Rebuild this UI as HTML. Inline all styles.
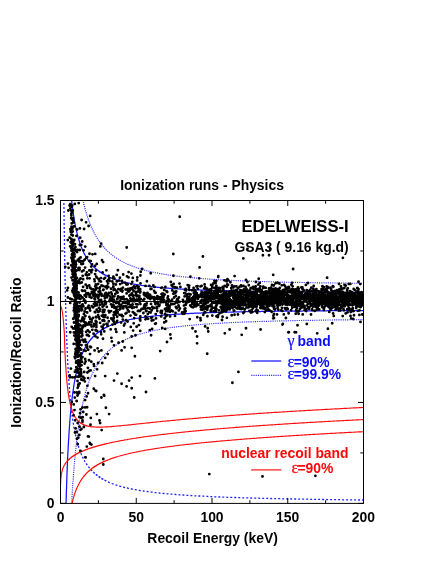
<!DOCTYPE html>
<html><head><meta charset="utf-8"><title>Ionization runs - Physics</title>
<style>
html,body{margin:0;padding:0;background:#fff;}
svg{display:block;font-family:"Liberation Sans",sans-serif;font-weight:bold;font-size:13.9px;}
.bs{stroke:#1414ff;stroke-width:1.25;fill:none}
.bd{stroke:#2a2aff;stroke-width:1.15;fill:none;stroke-dasharray:1.1 1.1}
.bt{stroke:#2222ff;stroke-width:1.3;fill:none;stroke-dasharray:2 2}
.rs{stroke:#ff0a0a;stroke-width:1.15;fill:none}
.sym{font-family:"Liberation Serif",serif}
.eps{stroke-width:.28px}
.bl .eps{stroke:#0a0aff}
.rd .eps{stroke:#ff0606}
</style></head><body>
<svg width="436" height="564" viewBox="0 0 436 564">
<rect width="436" height="564" fill="#fff"/>
<g opacity="0.995">
<defs><clipPath id="cp"><rect x="60.5" y="200.5" width="303.0" height="302.9"/></clipPath></defs>
<g clip-path="url(#cp)">
<path d="M60.5 301.47H363.5" stroke="#000" stroke-width="1" fill="none"/>
<path class="bs" d="M63.0 -146.5L63.1 -133.4L63.2 -120.9L63.2 -109.2L63.3 -98.1L63.4 -87.6L63.5 -77.6L63.5 -68.2L63.6 -59.2L63.7 -50.6L63.8 -42.4L63.8 -34.6L63.9 -27.1L64.0 -20.0L64.1 -13.1L64.1 -6.6L64.2 -0.3L64.3 5.7L64.4 11.5L64.4 17.1L64.5 22.4L64.6 27.6L64.7 32.6L64.7 37.4L64.8 42.0L64.9 46.5L65.0 50.8L65.0 55.0L65.1 59.0L65.2 62.9L65.3 66.7L65.3 70.4L65.4 73.9L65.5 77.4L65.6 80.7L65.7 83.9L65.7 87.1L65.8 90.1L65.9 93.1L66.0 96.0L66.0 98.8L66.1 101.5L66.2 104.2L66.3 106.8L66.3 109.3L66.4 111.8L66.5 114.2L66.6 116.5L66.6 118.8L66.7 121.0L66.8 123.2L66.9 125.3L66.9 127.4L67.0 129.4L67.1 131.4L67.2 133.3L67.2 135.2L67.3 137.0L67.4 138.8L67.5 140.6L67.5 142.3L67.6 144.0L67.7 145.7L67.8 147.3L67.8 148.9L67.9 150.4L68.0 151.9L68.1 153.4L68.2 154.9L68.2 156.3L68.3 157.7L68.4 159.1L68.5 160.4L68.5 161.8L68.6 163.1L68.7 164.4L68.8 165.6L68.8 166.8L68.9 168.0L69.0 169.2L69.1 170.4L69.1 171.5L69.2 172.7L69.3 173.8L69.4 174.9L69.4 175.9L69.5 177.0L69.6 178.0L69.7 179.0L69.7 180.0L69.8 181.0L69.9 182.0L70.0 182.9L70.0 183.9L70.1 184.8L70.2 185.7L70.3 186.6L70.3 187.5L70.4 188.3L70.5 189.2L70.6 190.0L70.7 190.8L70.7 191.7L70.8 192.5L70.9 193.3L71.0 194.0L71.0 194.8L71.1 195.6L71.2 196.3L71.3 197.0L71.3 197.8L71.4 198.5L71.5 199.2L71.6 199.9L71.6 200.6L71.7 201.2L71.8 201.9L71.9 202.6L71.9 203.2L72.0 203.9L72.1 204.5L72.2 205.1L72.2 205.7L72.3 206.4L72.4 207.0L72.5 207.5L72.5 208.1L72.6 208.7L72.7 209.3L72.8 209.8L72.8 210.4L72.9 211.0L73.0 211.5L73.1 212.0L73.2 212.6L73.2 213.1L73.3 213.6L73.4 214.1L73.5 214.6L73.5 215.1L73.6 215.6L73.7 216.1L73.8 216.6L73.8 217.1L73.9 217.5L74.0 218.0L74.1 218.5L74.1 218.9L74.2 219.4L74.3 219.8L74.4 220.3L74.4 220.7L74.5 221.1L74.6 221.6L74.7 222.0L74.7 222.4L74.8 222.8L74.9 223.2L75.0 223.6L75.0 224.0L75.1 224.4L75.2 224.8L75.3 225.2L75.3 225.6L75.4 226.0L75.5 226.4L75.6 226.7L75.7 227.1L75.7 227.5L75.8 227.8L75.9 228.2L76.0 228.5L76.0 228.9L76.1 229.2L76.2 229.6L76.3 229.9L76.3 230.3L76.4 230.6L76.5 230.9L76.6 231.3L76.6 231.6L76.7 231.9L76.8 232.2L76.9 232.5L76.9 232.8L77.0 233.2L77.1 233.5L77.2 233.8L77.2 234.1L77.3 234.4L77.4 234.7L77.5 235.0L77.5 235.3L77.6 235.5L77.7 235.8L77.8 236.1L77.8 236.4L77.9 236.7L78.0 236.9L78.1 237.2L78.1 237.5L78.2 237.8L78.3 238.0L78.4 238.3L78.5 238.6L78.5 238.8L78.6 239.1L78.7 239.3L78.8 239.6L78.8 239.8L78.9 240.1L79.0 240.3L79.1 240.6L79.1 240.8L79.2 241.1L79.3 241.3L79.4 241.5L79.4 241.8L79.5 242.0L79.6 242.2L79.7 242.5L79.7 242.7L79.8 242.9L79.9 243.1L80.0 243.4L80.0 243.6L80.1 243.8L80.2 244.0L80.3 244.2L80.3 244.4L80.4 244.7L80.5 244.9L80.6 245.1L80.6 245.3L80.7 245.5L80.8 245.7L80.9 245.9L81.0 246.1L81.0 246.3L81.1 246.5L81.2 246.7L81.3 246.9L81.3 247.1L81.4 247.3L81.5 247.5L81.6 247.7L81.6 247.8L81.7 248.0L81.8 248.2L81.9 248.4L81.9 248.6L82.0 248.8L82.1 248.9L82.2 249.1L82.2 249.3L82.3 249.5L82.4 249.7L82.5 249.8L82.5 250.0L82.6 250.2L82.7 250.3L82.8 250.5L82.8 250.7L82.9 250.8L83.0 251.0L83.1 251.2L83.1 251.3L83.2 251.5L83.3 251.7L83.4 251.8L83.5 252.0L83.5 252.1L83.6 252.3L83.7 252.5L83.8 252.6L83.8 252.8L83.9 252.9L84.0 253.1L84.1 253.2L84.1 253.4L84.2 253.5L84.3 253.7L84.4 253.8L84.4 254.0L84.5 254.1L84.6 254.3L84.7 254.4L84.7 254.5L84.8 254.7L84.9 254.8L85.0 255.0L85.0 255.1L85.1 255.2L85.2 255.4L85.3 255.5L85.3 255.6L85.4 255.8L85.5 255.9L85.6 256.0L85.6 256.2L85.7 256.3L85.8 256.4L85.9 256.6L86.0 256.7L86.0 256.8L86.1 257.0L86.2 257.1L86.3 257.2L86.3 257.3L86.4 257.5L86.5 257.6L86.6 257.7L86.6 257.8L86.7 258.0L86.8 258.1L86.9 258.2L86.9 258.3L87.0 258.4L87.1 258.5L87.2 258.7L87.2 258.8L87.3 258.9L87.4 259.0L87.5 259.1L87.5 259.2L87.6 259.4L87.7 259.5L87.8 259.6L87.8 259.7L87.9 259.8L88.0 259.9L88.1 260.0L88.1 260.1L88.2 260.2L88.3 260.3L88.4 260.5L88.5 260.6L88.5 260.7L88.6 260.8L88.7 260.9L88.8 261.0L88.8 261.1L88.9 261.2L89.0 261.3L89.1 261.4L89.1 261.5L89.2 261.6L89.3 261.7L89.4 261.8L89.4 261.9L89.5 262.0L89.6 262.1L89.7 262.2L89.7 262.3L89.8 262.4L89.9 262.5L90.0 262.6L90.0 262.7L90.1 262.8L90.2 262.9L90.3 263.0L90.3 263.0L90.4 263.1L90.5 263.2L90.6 263.3L90.6 263.4L90.7 263.5L90.8 263.6L90.9 263.7L91.0 263.8L91.0 263.9L91.1 264.0L91.2 264.0L91.3 264.1L91.3 264.2L91.4 264.3L91.5 264.4L91.6 264.5L91.6 264.6L91.7 264.6L91.8 264.7L91.9 264.8L91.9 264.9L92.0 265.0L92.1 265.1L92.2 265.1L92.2 265.2L92.3 265.3L92.4 265.4L92.5 265.5L92.5 265.6L92.6 265.6L92.7 265.7L92.8 265.8L92.8 265.9L92.9 266.0L93.0 266.0L93.1 266.1L93.1 266.2L93.2 266.3L93.3 266.3L93.4 266.4L93.5 266.5L93.5 266.6L93.6 266.6L93.7 266.7L93.8 266.8L93.8 266.9L93.9 266.9L94.0 267.0L94.1 267.1L94.1 267.2L94.2 267.2L94.3 267.3L94.4 267.4L94.4 267.4L94.5 267.5L94.6 267.6L94.7 267.7L94.7 267.7L94.8 267.8L94.9 267.9L95.0 267.9L95.0 268.0L95.1 268.1L95.2 268.1L95.3 268.2L95.3 268.3L95.4 268.4L95.5 268.4L95.6 268.5L95.6 268.6L95.7 268.6L95.8 268.7L95.9 268.7L96.0 268.8L96.0 268.9L96.1 268.9L96.2 269.0L96.3 269.1L96.3 269.1L96.4 269.2L96.5 269.3L96.6 269.3L96.6 269.4L96.7 269.5L96.8 269.5L96.9 269.6L96.9 269.6L97.0 269.7L97.1 269.8L97.2 269.8L97.2 269.9L97.3 269.9L97.4 270.0L97.5 270.1L97.5 270.1L97.6 270.2L97.7 270.2L97.8 270.3L97.8 270.4L97.9 270.4L98.0 270.5L98.1 270.5L98.1 270.6L98.2 270.7L98.3 270.7L98.4 270.8L98.5 270.8L98.5 270.9L98.6 270.9L98.7 271.0L98.8 271.0L98.8 271.1L98.9 271.2L99.0 271.2L99.1 271.3L99.1 271.3L99.2 271.4L99.3 271.4L99.4 271.5L99.4 271.5L99.5 271.6L99.6 271.6L99.7 271.7L99.7 271.8L99.8 271.8L99.9 271.9L100.0 271.9L100.0 272.0L100.1 272.0L100.2 272.1L100.3 272.1L100.3 272.2L100.4 272.2L100.5 272.3L100.6 272.3L100.6 272.4L100.7 272.4L100.8 272.5L100.9 272.5L101.0 272.6L101.0 272.6L101.1 272.7L101.2 272.7L101.3 272.8L101.3 272.8L101.4 272.9L101.5 272.9L101.6 273.0L101.6 273.0L101.7 273.1L101.8 273.1L101.9 273.2L101.9 273.2L102.0 273.3L102.1 273.3L102.2 273.3L102.2 273.4L102.3 273.4L102.4 273.5L102.5 273.5L102.5 273.6L102.6 273.6L102.7 273.7L102.8 273.7L102.8 273.8L102.9 273.8L103.0 273.8L103.1 273.9L103.1 273.9L103.2 274.0L103.3 274.0L103.4 274.1L103.5 274.1L103.5 274.2L103.6 274.2L103.7 274.2L103.8 274.3L103.8 274.3L103.9 274.4L104.0 274.4L104.1 274.5L104.1 274.5L104.2 274.5L104.3 274.6L104.4 274.6L104.4 274.7L104.5 274.7L104.6 274.8L104.7 274.8L104.7 274.8L104.8 274.9L104.9 274.9L105.0 275.0L105.0 275.0L105.1 275.0L105.2 275.1L105.3 275.1L105.3 275.2L105.4 275.2L105.5 275.2L105.6 275.3L105.6 275.3L105.7 275.4L105.8 275.4L105.9 275.4L105.9 275.5L106.7 275.9L107.5 276.2L108.2 276.6L109.0 276.9L109.7 277.3L110.5 277.6L111.3 277.9L112.0 278.2L112.8 278.5L113.5 278.8L114.3 279.1L115.0 279.3L115.8 279.6L116.6 279.8L117.3 280.1L118.1 280.3L118.8 280.6L119.6 280.8L120.3 281.0L121.1 281.2L121.9 281.4L122.6 281.6L123.4 281.8L124.1 282.0L124.9 282.2L125.6 282.4L126.4 282.6L127.2 282.7L127.9 282.9L128.7 283.1L129.4 283.2L130.2 283.4L130.9 283.5L131.7 283.7L132.5 283.8L133.2 284.0L134.0 284.1L134.7 284.3L135.5 284.4L136.2 284.5L137.0 284.7L137.8 284.8L138.5 284.9L139.3 285.0L140.0 285.1L140.8 285.2L141.6 285.4L142.3 285.5L143.1 285.6L143.8 285.7L144.6 285.8L145.3 285.9L146.1 286.0L146.9 286.1L147.6 286.2L148.4 286.3L149.1 286.4L149.9 286.5L150.6 286.5L151.4 286.6L152.2 286.7L152.9 286.8L153.7 286.9L154.4 287.0L155.2 287.0L155.9 287.1L156.7 287.2L157.5 287.3L158.2 287.3L159.0 287.4L159.7 287.5L160.5 287.5L161.2 287.6L162.0 287.7L162.8 287.7L163.5 287.8L164.3 287.9L165.0 287.9L165.8 288.0L166.6 288.0L167.3 288.1L168.1 288.2L168.8 288.2L169.6 288.3L170.3 288.3L171.1 288.4L171.9 288.4L172.6 288.5L173.4 288.5L174.1 288.6L174.9 288.6L175.6 288.7L176.4 288.7L177.2 288.8L177.9 288.8L178.7 288.9L179.4 288.9L180.2 289.0L180.9 289.0L181.7 289.1L182.5 289.1L183.2 289.1L184.0 289.2L184.7 289.2L185.5 289.3L186.2 289.3L187.0 289.3L187.8 289.4L188.5 289.4L189.3 289.5L190.0 289.5L190.8 289.5L191.5 289.6L192.3 289.6L193.1 289.6L193.8 289.7L194.6 289.7L195.3 289.7L196.1 289.8L196.8 289.8L197.6 289.8L198.4 289.9L199.1 289.9L199.9 289.9L200.6 290.0L201.4 290.0L202.2 290.0L202.9 290.0L203.7 290.1L204.4 290.1L205.2 290.1L205.9 290.2L206.7 290.2L207.5 290.2L208.2 290.2L209.0 290.3L209.7 290.3L210.5 290.3L211.2 290.3L212.0 290.4L212.8 290.4L213.5 290.4L214.3 290.4L215.0 290.5L215.8 290.5L216.5 290.5L217.3 290.5L218.1 290.6L218.8 290.6L219.6 290.6L220.3 290.6L221.1 290.6L221.8 290.7L222.6 290.7L223.4 290.7L224.1 290.7L224.9 290.7L225.6 290.8L226.4 290.8L227.1 290.8L227.9 290.8L228.7 290.8L229.4 290.9L230.2 290.9L230.9 290.9L231.7 290.9L232.5 290.9L233.2 291.0L234.0 291.0L234.7 291.0L235.5 291.0L236.2 291.0L237.0 291.0L237.8 291.1L238.5 291.1L239.3 291.1L240.0 291.1L240.8 291.1L241.5 291.1L242.3 291.1L243.1 291.2L243.8 291.2L244.6 291.2L245.3 291.2L246.1 291.2L246.8 291.2L247.6 291.3L248.4 291.3L249.1 291.3L249.9 291.3L250.6 291.3L251.4 291.3L252.1 291.3L252.9 291.3L253.7 291.4L254.4 291.4L255.2 291.4L255.9 291.4L256.7 291.4L257.4 291.4L258.2 291.4L259.0 291.4L259.7 291.5L260.5 291.5L261.2 291.5L262.0 291.5L262.8 291.5L263.5 291.5L264.3 291.5L265.0 291.5L265.8 291.6L266.5 291.6L267.3 291.6L268.1 291.6L268.8 291.6L269.6 291.6L270.3 291.6L271.1 291.6L271.8 291.6L272.6 291.6L273.4 291.7L274.1 291.7L274.9 291.7L275.6 291.7L276.4 291.7L277.1 291.7L277.9 291.7L278.7 291.7L279.4 291.7L280.2 291.7L280.9 291.8L281.7 291.8L282.4 291.8L283.2 291.8L284.0 291.8L284.7 291.8L285.5 291.8L286.2 291.8L287.0 291.8L287.8 291.8L288.5 291.8L289.3 291.8L290.0 291.9L290.8 291.9L291.5 291.9L292.3 291.9L293.1 291.9L293.8 291.9L294.6 291.9L295.3 291.9L296.1 291.9L296.8 291.9L297.6 291.9L298.4 291.9L299.1 292.0L299.9 292.0L300.6 292.0L301.4 292.0L302.1 292.0L302.9 292.0L303.7 292.0L304.4 292.0L305.2 292.0L305.9 292.0L306.7 292.0L307.4 292.0L308.2 292.0L309.0 292.0L309.7 292.0L310.5 292.1L311.2 292.1L312.0 292.1L312.7 292.1L313.5 292.1L314.3 292.1L315.0 292.1L315.8 292.1L316.5 292.1L317.3 292.1L318.1 292.1L318.8 292.1L319.6 292.1L320.3 292.1L321.1 292.1L321.8 292.1L322.6 292.2L323.4 292.2L324.1 292.2L324.9 292.2L325.6 292.2L326.4 292.2L327.1 292.2L327.9 292.2L328.7 292.2L329.4 292.2L330.2 292.2L330.9 292.2L331.7 292.2L332.4 292.2L333.2 292.2L334.0 292.2L334.7 292.2L335.5 292.2L336.2 292.2L337.0 292.3L337.7 292.3L338.5 292.3L339.3 292.3L340.0 292.3L340.8 292.3L341.5 292.3L342.3 292.3L343.0 292.3L343.8 292.3L344.6 292.3L345.3 292.3L346.1 292.3L346.8 292.3L347.6 292.3L348.3 292.3L349.1 292.3L349.9 292.3L350.6 292.3L351.4 292.3L352.1 292.3L352.9 292.3L353.7 292.3L354.4 292.4L355.2 292.4L355.9 292.4L356.7 292.4L357.4 292.4L358.2 292.4L359.0 292.4L359.7 292.4L360.5 292.4L361.2 292.4L362.0 292.4L362.7 292.4L363.5 292.4"/>
<path class="bs" d="M62.4 892.8L62.5 870.0L62.5 849.0L62.6 829.4L62.7 811.2L62.8 794.3L62.8 778.4L62.9 763.5L63.0 749.5L63.1 736.3L63.2 723.9L63.2 712.1L63.3 701.1L63.4 690.5L63.5 680.6L63.5 671.1L63.6 662.1L63.7 653.5L63.8 645.3L63.8 637.5L63.9 630.0L64.0 622.9L64.1 616.1L64.1 609.5L64.2 603.2L64.3 597.2L64.4 591.4L64.4 585.8L64.5 580.5L64.6 575.3L64.7 570.3L64.7 565.6L64.8 560.9L64.9 556.5L65.0 552.1L65.0 548.0L65.1 543.9L65.2 540.0L65.3 536.2L65.3 532.6L65.4 529.0L65.5 525.6L65.6 522.2L65.7 519.0L65.7 515.9L65.8 512.8L65.9 509.8L66.0 506.9L66.0 504.1L66.1 501.4L66.2 498.7L66.3 496.1L66.3 493.6L66.4 491.2L66.5 488.8L66.6 486.4L66.6 484.1L66.7 481.9L66.8 479.7L66.9 477.6L66.9 475.6L67.0 473.5L67.1 471.6L67.2 469.6L67.2 467.8L67.3 465.9L67.4 464.1L67.5 462.3L67.5 460.6L67.6 458.9L67.7 457.3L67.8 455.7L67.8 454.1L67.9 452.5L68.0 451.0L68.1 449.5L68.2 448.1L68.2 446.6L68.3 445.2L68.4 443.8L68.5 442.5L68.5 441.2L68.6 439.9L68.7 438.6L68.8 437.3L68.8 436.1L68.9 434.9L69.0 433.7L69.1 432.5L69.1 431.4L69.2 430.3L69.3 429.2L69.4 428.1L69.4 427.0L69.5 426.0L69.6 424.9L69.7 423.9L69.7 422.9L69.8 421.9L69.9 421.0L70.0 420.0L70.0 419.1L70.1 418.2L70.2 417.2L70.3 416.4L70.3 415.5L70.4 414.6L70.5 413.8L70.6 412.9L70.7 412.1L70.7 411.3L70.8 410.5L70.9 409.7L71.0 408.9L71.0 408.1L71.1 407.4L71.2 406.6L71.3 405.9L71.3 405.2L71.4 404.4L71.5 403.7L71.6 403.0L71.6 402.4L71.7 401.7L71.8 401.0L71.9 400.4L71.9 399.7L72.0 399.1L72.1 398.4L72.2 397.8L72.2 397.2L72.3 396.6L72.4 396.0L72.5 395.4L72.5 394.8L72.6 394.2L72.7 393.6L72.8 393.1L72.8 392.5L72.9 392.0L73.0 391.4L73.1 390.9L73.2 390.4L73.2 389.8L73.3 389.3L73.4 388.8L73.5 388.3L73.5 387.8L73.6 387.3L73.7 386.8L73.8 386.3L73.8 385.9L73.9 385.4L74.0 384.9L74.1 384.5L74.1 384.0L74.2 383.6L74.3 383.1L74.4 382.7L74.4 382.2L74.5 381.8L74.6 381.4L74.7 380.9L74.7 380.5L74.8 380.1L74.9 379.7L75.0 379.3L75.0 378.9L75.1 378.5L75.2 378.1L75.3 377.7L75.3 377.3L75.4 377.0L75.5 376.6L75.6 376.2L75.7 375.8L75.7 375.5L75.8 375.1L75.9 374.8L76.0 374.4L76.0 374.0L76.1 373.7L76.2 373.4L76.3 373.0L76.3 372.7L76.4 372.3L76.5 372.0L76.6 371.7L76.6 371.4L76.7 371.0L76.8 370.7L76.9 370.4L76.9 370.1L77.0 369.8L77.1 369.5L77.2 369.2L77.2 368.9L77.3 368.6L77.4 368.3L77.5 368.0L77.5 367.7L77.6 367.4L77.7 367.1L77.8 366.8L77.8 366.5L77.9 366.3L78.0 366.0L78.1 365.7L78.1 365.4L78.2 365.2L78.3 364.9L78.4 364.6L78.5 364.4L78.5 364.1L78.6 363.9L78.7 363.6L78.8 363.4L78.8 363.1L78.9 362.9L79.0 362.6L79.1 362.4L79.1 362.1L79.2 361.9L79.3 361.6L79.4 361.4L79.4 361.2L79.5 360.9L79.6 360.7L79.7 360.5L79.7 360.2L79.8 360.0L79.9 359.8L80.0 359.6L80.0 359.4L80.1 359.1L80.2 358.9L80.3 358.7L80.3 358.5L80.4 358.3L80.5 358.1L80.6 357.9L80.6 357.6L80.7 357.4L80.8 357.2L80.9 357.0L81.0 356.8L81.0 356.6L81.1 356.4L81.2 356.2L81.3 356.0L81.3 355.9L81.4 355.7L81.5 355.5L81.6 355.3L81.6 355.1L81.7 354.9L81.8 354.7L81.9 354.5L81.9 354.4L82.0 354.2L82.1 354.0L82.2 353.8L82.2 353.6L82.3 353.5L82.4 353.3L82.5 353.1L82.5 352.9L82.6 352.8L82.7 352.6L82.8 352.4L82.8 352.3L82.9 352.1L83.0 351.9L83.1 351.8L83.1 351.6L83.2 351.4L83.3 351.3L83.4 351.1L83.5 350.9L83.5 350.8L83.6 350.6L83.7 350.5L83.8 350.3L83.8 350.2L83.9 350.0L84.0 349.9L84.1 349.7L84.1 349.6L84.2 349.4L84.3 349.3L84.4 349.1L84.4 349.0L84.5 348.8L84.6 348.7L84.7 348.5L84.7 348.4L84.8 348.3L84.9 348.1L85.0 348.0L85.0 347.8L85.1 347.7L85.2 347.6L85.3 347.4L85.3 347.3L85.4 347.2L85.5 347.0L85.6 346.9L85.6 346.8L85.7 346.6L85.8 346.5L85.9 346.4L86.0 346.2L86.0 346.1L86.1 346.0L86.2 345.8L86.3 345.7L86.3 345.6L86.4 345.5L86.5 345.3L86.6 345.2L86.6 345.1L86.7 345.0L86.8 344.9L86.9 344.7L86.9 344.6L87.0 344.5L87.1 344.4L87.2 344.3L87.2 344.2L87.3 344.0L87.4 343.9L87.5 343.8L87.5 343.7L87.6 343.6L87.7 343.5L87.8 343.4L87.8 343.2L87.9 343.1L88.0 343.0L88.1 342.9L88.1 342.8L88.2 342.7L88.3 342.6L88.4 342.5L88.5 342.4L88.5 342.3L88.6 342.2L88.7 342.1L88.8 342.0L88.8 341.8L88.9 341.7L89.0 341.6L89.1 341.5L89.1 341.4L89.2 341.3L89.3 341.2L89.4 341.1L89.4 341.0L89.5 340.9L89.6 340.8L89.7 340.7L89.7 340.6L89.8 340.5L89.9 340.5L90.0 340.4L90.0 340.3L90.1 340.2L90.2 340.1L90.3 340.0L90.3 339.9L90.4 339.8L90.5 339.7L90.6 339.6L90.6 339.5L90.7 339.4L90.8 339.3L90.9 339.2L91.0 339.2L91.0 339.1L91.1 339.0L91.2 338.9L91.3 338.8L91.3 338.7L91.4 338.6L91.5 338.5L91.6 338.5L91.6 338.4L91.7 338.3L91.8 338.2L91.9 338.1L91.9 338.0L92.0 338.0L92.1 337.9L92.2 337.8L92.2 337.7L92.3 337.6L92.4 337.5L92.5 337.5L92.5 337.4L92.6 337.3L92.7 337.2L92.8 337.1L92.8 337.1L92.9 337.0L93.0 336.9L93.1 336.8L93.1 336.7L93.2 336.7L93.3 336.6L93.4 336.5L93.5 336.4L93.5 336.4L93.6 336.3L93.7 336.2L93.8 336.1L93.8 336.1L93.9 336.0L94.0 335.9L94.1 335.8L94.1 335.8L94.2 335.7L94.3 335.6L94.4 335.6L94.4 335.5L94.5 335.4L94.6 335.3L94.7 335.3L94.7 335.2L94.8 335.1L94.9 335.1L95.0 335.0L95.0 334.9L95.1 334.9L95.2 334.8L95.3 334.7L95.3 334.6L95.4 334.6L95.5 334.5L95.6 334.4L95.6 334.4L95.7 334.3L95.8 334.2L95.9 334.2L96.0 334.1L96.0 334.1L96.1 334.0L96.2 333.9L96.3 333.9L96.3 333.8L96.4 333.7L96.5 333.7L96.6 333.6L96.6 333.5L96.7 333.5L96.8 333.4L96.9 333.4L96.9 333.3L97.0 333.2L97.1 333.2L97.2 333.1L97.2 333.0L97.3 333.0L97.4 332.9L97.5 332.9L97.5 332.8L97.6 332.7L97.7 332.7L97.8 332.6L97.8 332.6L97.9 332.5L98.0 332.5L98.1 332.4L98.1 332.3L98.2 332.3L98.3 332.2L98.4 332.2L98.5 332.1L98.5 332.1L98.6 332.0L98.7 331.9L98.8 331.9L98.8 331.8L98.9 331.8L99.0 331.7L99.1 331.7L99.1 331.6L99.2 331.6L99.3 331.5L99.4 331.4L99.4 331.4L99.5 331.3L99.6 331.3L99.7 331.2L99.7 331.2L99.8 331.1L99.9 331.1L100.0 331.0L100.0 331.0L100.1 330.9L100.2 330.9L100.3 330.8L100.3 330.8L100.4 330.7L100.5 330.7L100.6 330.6L100.6 330.6L100.7 330.5L100.8 330.5L100.9 330.4L101.0 330.4L101.0 330.3L101.1 330.3L101.2 330.2L101.3 330.2L101.3 330.1L101.4 330.1L101.5 330.0L101.6 330.0L101.6 329.9L101.7 329.9L101.8 329.8L101.9 329.8L101.9 329.7L102.0 329.7L102.1 329.6L102.2 329.6L102.2 329.5L102.3 329.5L102.4 329.4L102.5 329.4L102.5 329.4L102.6 329.3L102.7 329.3L102.8 329.2L102.8 329.2L102.9 329.1L103.0 329.1L103.1 329.0L103.1 329.0L103.2 329.0L103.3 328.9L103.4 328.9L103.5 328.8L103.5 328.8L103.6 328.7L103.7 328.7L103.8 328.6L103.8 328.6L103.9 328.6L104.0 328.5L104.1 328.5L104.1 328.4L104.2 328.4L104.3 328.3L104.4 328.3L104.4 328.3L104.5 328.2L104.6 328.2L104.7 328.1L104.7 328.1L104.8 328.1L104.9 328.0L105.0 328.0L105.0 327.9L105.1 327.9L105.2 327.9L105.3 327.8L105.3 327.8L105.4 327.7L105.5 327.7L105.6 327.7L105.6 327.6L105.7 327.6L105.8 327.5L105.9 327.5L105.9 327.5L106.7 327.1L107.5 326.7L108.2 326.3L109.0 326.0L109.7 325.7L110.5 325.3L111.3 325.0L112.0 324.7L112.8 324.4L113.5 324.1L114.3 323.9L115.0 323.6L115.8 323.3L116.6 323.1L117.3 322.8L118.1 322.6L118.8 322.4L119.6 322.1L120.3 321.9L121.1 321.7L121.9 321.5L122.6 321.3L123.4 321.1L124.1 320.9L124.9 320.7L125.6 320.5L126.4 320.4L127.2 320.2L127.9 320.0L128.7 319.9L129.4 319.7L130.2 319.5L130.9 319.4L131.7 319.2L132.5 319.1L133.2 318.9L134.0 318.8L134.7 318.7L135.5 318.5L136.2 318.4L137.0 318.3L137.8 318.2L138.5 318.0L139.3 317.9L140.0 317.8L140.8 317.7L141.6 317.6L142.3 317.5L143.1 317.4L143.8 317.3L144.6 317.1L145.3 317.0L146.1 316.9L146.9 316.9L147.6 316.8L148.4 316.7L149.1 316.6L149.9 316.5L150.6 316.4L151.4 316.3L152.2 316.2L152.9 316.1L153.7 316.1L154.4 316.0L155.2 315.9L155.9 315.8L156.7 315.7L157.5 315.7L158.2 315.6L159.0 315.5L159.7 315.5L160.5 315.4L161.2 315.3L162.0 315.3L162.8 315.2L163.5 315.1L164.3 315.1L165.0 315.0L165.8 314.9L166.6 314.9L167.3 314.8L168.1 314.8L168.8 314.7L169.6 314.7L170.3 314.6L171.1 314.5L171.9 314.5L172.6 314.4L173.4 314.4L174.1 314.3L174.9 314.3L175.6 314.2L176.4 314.2L177.2 314.1L177.9 314.1L178.7 314.0L179.4 314.0L180.2 314.0L180.9 313.9L181.7 313.9L182.5 313.8L183.2 313.8L184.0 313.7L184.7 313.7L185.5 313.7L186.2 313.6L187.0 313.6L187.8 313.5L188.5 313.5L189.3 313.5L190.0 313.4L190.8 313.4L191.5 313.4L192.3 313.3L193.1 313.3L193.8 313.3L194.6 313.2L195.3 313.2L196.1 313.2L196.8 313.1L197.6 313.1L198.4 313.1L199.1 313.0L199.9 313.0L200.6 313.0L201.4 312.9L202.2 312.9L202.9 312.9L203.7 312.9L204.4 312.8L205.2 312.8L205.9 312.8L206.7 312.7L207.5 312.7L208.2 312.7L209.0 312.7L209.7 312.6L210.5 312.6L211.2 312.6L212.0 312.6L212.8 312.5L213.5 312.5L214.3 312.5L215.0 312.5L215.8 312.4L216.5 312.4L217.3 312.4L218.1 312.4L218.8 312.4L219.6 312.3L220.3 312.3L221.1 312.3L221.8 312.3L222.6 312.2L223.4 312.2L224.1 312.2L224.9 312.2L225.6 312.2L226.4 312.1L227.1 312.1L227.9 312.1L228.7 312.1L229.4 312.1L230.2 312.1L230.9 312.0L231.7 312.0L232.5 312.0L233.2 312.0L234.0 312.0L234.7 311.9L235.5 311.9L236.2 311.9L237.0 311.9L237.8 311.9L238.5 311.9L239.3 311.8L240.0 311.8L240.8 311.8L241.5 311.8L242.3 311.8L243.1 311.8L243.8 311.8L244.6 311.7L245.3 311.7L246.1 311.7L246.8 311.7L247.6 311.7L248.4 311.7L249.1 311.7L249.9 311.6L250.6 311.6L251.4 311.6L252.1 311.6L252.9 311.6L253.7 311.6L254.4 311.6L255.2 311.5L255.9 311.5L256.7 311.5L257.4 311.5L258.2 311.5L259.0 311.5L259.7 311.5L260.5 311.5L261.2 311.4L262.0 311.4L262.8 311.4L263.5 311.4L264.3 311.4L265.0 311.4L265.8 311.4L266.5 311.4L267.3 311.4L268.1 311.3L268.8 311.3L269.6 311.3L270.3 311.3L271.1 311.3L271.8 311.3L272.6 311.3L273.4 311.3L274.1 311.3L274.9 311.3L275.6 311.2L276.4 311.2L277.1 311.2L277.9 311.2L278.7 311.2L279.4 311.2L280.2 311.2L280.9 311.2L281.7 311.2L282.4 311.2L283.2 311.2L284.0 311.1L284.7 311.1L285.5 311.1L286.2 311.1L287.0 311.1L287.8 311.1L288.5 311.1L289.3 311.1L290.0 311.1L290.8 311.1L291.5 311.1L292.3 311.1L293.1 311.0L293.8 311.0L294.6 311.0L295.3 311.0L296.1 311.0L296.8 311.0L297.6 311.0L298.4 311.0L299.1 311.0L299.9 311.0L300.6 311.0L301.4 311.0L302.1 311.0L302.9 310.9L303.7 310.9L304.4 310.9L305.2 310.9L305.9 310.9L306.7 310.9L307.4 310.9L308.2 310.9L309.0 310.9L309.7 310.9L310.5 310.9L311.2 310.9L312.0 310.9L312.7 310.9L313.5 310.9L314.3 310.8L315.0 310.8L315.8 310.8L316.5 310.8L317.3 310.8L318.1 310.8L318.8 310.8L319.6 310.8L320.3 310.8L321.1 310.8L321.8 310.8L322.6 310.8L323.4 310.8L324.1 310.8L324.9 310.8L325.6 310.8L326.4 310.8L327.1 310.8L327.9 310.7L328.7 310.7L329.4 310.7L330.2 310.7L330.9 310.7L331.7 310.7L332.4 310.7L333.2 310.7L334.0 310.7L334.7 310.7L335.5 310.7L336.2 310.7L337.0 310.7L337.7 310.7L338.5 310.7L339.3 310.7L340.0 310.7L340.8 310.7L341.5 310.7L342.3 310.7L343.0 310.6L343.8 310.6L344.6 310.6L345.3 310.6L346.1 310.6L346.8 310.6L347.6 310.6L348.3 310.6L349.1 310.6L349.9 310.6L350.6 310.6L351.4 310.6L352.1 310.6L352.9 310.6L353.7 310.6L354.4 310.6L355.2 310.6L355.9 310.6L356.7 310.6L357.4 310.6L358.2 310.6L359.0 310.6L359.7 310.6L360.5 310.5L361.2 310.5L362.0 310.5L362.7 310.5L363.5 310.5"/>
<path class="bd" d="M65.5 -146.8L65.6 -140.1L65.7 -133.6L65.7 -127.3L65.8 -121.2L65.9 -115.2L66.0 -109.5L66.0 -103.8L66.1 -98.4L66.2 -93.1L66.3 -87.9L66.3 -82.8L66.4 -77.9L66.5 -73.1L66.6 -68.4L66.6 -63.9L66.7 -59.4L66.8 -55.1L66.9 -50.9L66.9 -46.7L67.0 -42.7L67.1 -38.7L67.2 -34.9L67.2 -31.1L67.3 -27.4L67.4 -23.8L67.5 -20.3L67.5 -16.8L67.6 -13.5L67.7 -10.2L67.8 -6.9L67.8 -3.8L67.9 -0.7L68.0 2.4L68.1 5.4L68.2 8.3L68.2 11.2L68.3 14.0L68.4 16.7L68.5 19.4L68.5 22.1L68.6 24.7L68.7 27.2L68.8 29.7L68.8 32.2L68.9 34.6L69.0 37.0L69.1 39.3L69.1 41.6L69.2 43.9L69.3 46.1L69.4 48.2L69.4 50.4L69.5 52.5L69.6 54.6L69.7 56.6L69.7 58.6L69.8 60.5L69.9 62.5L70.0 64.4L70.0 66.3L70.1 68.1L70.2 69.9L70.3 71.7L70.3 73.5L70.4 75.2L70.5 76.9L70.6 78.6L70.7 80.2L70.7 81.9L70.8 83.5L70.9 85.0L71.0 86.6L71.0 88.1L71.1 89.7L71.2 91.1L71.3 92.6L71.3 94.1L71.4 95.5L71.5 96.9L71.6 98.3L71.6 99.7L71.7 101.0L71.8 102.4L71.9 103.7L71.9 105.0L72.0 106.3L72.1 107.5L72.2 108.8L72.2 110.0L72.3 111.2L72.4 112.4L72.5 113.6L72.5 114.8L72.6 116.0L72.7 117.1L72.8 118.2L72.8 119.3L72.9 120.4L73.0 121.5L73.1 122.6L73.2 123.7L73.2 124.7L73.3 125.8L73.4 126.8L73.5 127.8L73.5 128.8L73.6 129.8L73.7 130.8L73.8 131.7L73.8 132.7L73.9 133.6L74.0 134.6L74.1 135.5L74.1 136.4L74.2 137.3L74.3 138.2L74.4 139.1L74.4 139.9L74.5 140.8L74.6 141.7L74.7 142.5L74.7 143.3L74.8 144.2L74.9 145.0L75.0 145.8L75.0 146.6L75.1 147.4L75.2 148.2L75.3 149.0L75.3 149.7L75.4 150.5L75.5 151.2L75.6 152.0L75.7 152.7L75.7 153.5L75.8 154.2L75.9 154.9L76.0 155.6L76.0 156.3L76.1 157.0L76.2 157.7L76.3 158.4L76.3 159.1L76.4 159.7L76.5 160.4L76.6 161.0L76.6 161.7L76.7 162.3L76.8 163.0L76.9 163.6L76.9 164.2L77.0 164.8L77.1 165.5L77.2 166.1L77.2 166.7L77.3 167.3L77.4 167.9L77.5 168.5L77.5 169.0L77.6 169.6L77.7 170.2L77.8 170.8L77.8 171.3L77.9 171.9L78.0 172.4L78.1 173.0L78.1 173.5L78.2 174.0L78.3 174.6L78.4 175.1L78.5 175.6L78.5 176.2L78.6 176.7L78.7 177.2L78.8 177.7L78.8 178.2L78.9 178.7L79.0 179.2L79.1 179.7L79.1 180.2L79.2 180.6L79.3 181.1L79.4 181.6L79.4 182.1L79.5 182.5L79.6 183.0L79.7 183.4L79.7 183.9L79.8 184.4L79.9 184.8L80.0 185.2L80.0 185.7L80.1 186.1L80.2 186.6L80.3 187.0L80.3 187.4L80.4 187.8L80.5 188.3L80.6 188.7L80.6 189.1L80.7 189.5L80.8 189.9L80.9 190.3L81.0 190.7L81.0 191.1L81.1 191.5L81.2 191.9L81.3 192.3L81.3 192.7L81.4 193.1L81.5 193.5L81.6 193.8L81.6 194.2L81.7 194.6L81.8 195.0L81.9 195.3L81.9 195.7L82.0 196.1L82.1 196.4L82.2 196.8L82.2 197.1L82.3 197.5L82.4 197.8L82.5 198.2L82.5 198.5L82.6 198.9L82.7 199.2L82.8 199.6L82.8 199.9L82.9 200.2L83.0 200.6L83.1 200.9L83.1 201.2L83.2 201.5L83.3 201.9L83.4 202.2L83.5 202.5L83.5 202.8L83.6 203.1L83.7 203.4L83.8 203.8L83.8 204.1L83.9 204.4L84.0 204.7L84.1 205.0L84.1 205.3L84.2 205.6L84.3 205.9L84.4 206.2L84.4 206.5L84.5 206.7L84.6 207.0L84.7 207.3L84.7 207.6L84.8 207.9L84.9 208.2L85.0 208.5L85.0 208.7L85.1 209.0L85.2 209.3L85.3 209.6L85.3 209.8L85.4 210.1L85.5 210.4L85.6 210.6L85.6 210.9L85.7 211.2L85.8 211.4L85.9 211.7L86.0 211.9L86.0 212.2L86.1 212.4L86.2 212.7L86.3 213.0L86.3 213.2L86.4 213.5L86.5 213.7L86.6 213.9L86.6 214.2L86.7 214.4L86.8 214.7L86.9 214.9L86.9 215.2L87.0 215.4L87.1 215.6L87.2 215.9L87.2 216.1L87.3 216.3L87.4 216.6L87.5 216.8L87.5 217.0L87.6 217.2L87.7 217.5L87.8 217.7L87.8 217.9L87.9 218.1L88.0 218.4L88.1 218.6L88.1 218.8L88.2 219.0L88.3 219.2L88.4 219.4L88.5 219.7L88.5 219.9L88.6 220.1L88.7 220.3L88.8 220.5L88.8 220.7L88.9 220.9L89.0 221.1L89.1 221.3L89.1 221.5L89.2 221.7L89.3 221.9L89.4 222.1L89.4 222.3L89.5 222.5L89.6 222.7L89.7 222.9L89.7 223.1L89.8 223.3L89.9 223.5L90.0 223.7L90.0 223.9L90.1 224.1L90.2 224.3L90.3 224.4L90.3 224.6L90.4 224.8L90.5 225.0L90.6 225.2L90.6 225.4L90.7 225.5L90.8 225.7L90.9 225.9L91.0 226.1L91.0 226.3L91.1 226.4L91.2 226.6L91.3 226.8L91.3 227.0L91.4 227.1L91.5 227.3L91.6 227.5L91.6 227.7L91.7 227.8L91.8 228.0L91.9 228.2L91.9 228.3L92.0 228.5L92.1 228.7L92.2 228.8L92.2 229.0L92.3 229.2L92.4 229.3L92.5 229.5L92.5 229.6L92.6 229.8L92.7 230.0L92.8 230.1L92.8 230.3L92.9 230.4L93.0 230.6L93.1 230.7L93.1 230.9L93.2 231.1L93.3 231.2L93.4 231.4L93.5 231.5L93.5 231.7L93.6 231.8L93.7 232.0L93.8 232.1L93.8 232.3L93.9 232.4L94.0 232.6L94.1 232.7L94.1 232.9L94.2 233.0L94.3 233.1L94.4 233.3L94.4 233.4L94.5 233.6L94.6 233.7L94.7 233.9L94.7 234.0L94.8 234.1L94.9 234.3L95.0 234.4L95.0 234.6L95.1 234.7L95.2 234.8L95.3 235.0L95.3 235.1L95.4 235.2L95.5 235.4L95.6 235.5L95.6 235.6L95.7 235.8L95.8 235.9L95.9 236.0L96.0 236.2L96.0 236.3L96.1 236.4L96.2 236.6L96.3 236.7L96.3 236.8L96.4 236.9L96.5 237.1L96.6 237.2L96.6 237.3L96.7 237.4L96.8 237.6L96.9 237.7L96.9 237.8L97.0 237.9L97.1 238.1L97.2 238.2L97.2 238.3L97.3 238.4L97.4 238.5L97.5 238.7L97.5 238.8L97.6 238.9L97.7 239.0L97.8 239.1L97.8 239.3L97.9 239.4L98.0 239.5L98.1 239.6L98.1 239.7L98.2 239.8L98.3 240.0L98.4 240.1L98.5 240.2L98.5 240.3L98.6 240.4L98.7 240.5L98.8 240.6L98.8 240.7L98.9 240.9L99.0 241.0L99.1 241.1L99.1 241.2L99.2 241.3L99.3 241.4L99.4 241.5L99.4 241.6L99.5 241.7L99.6 241.8L99.7 241.9L99.7 242.0L99.8 242.1L99.9 242.3L100.0 242.4L100.0 242.5L100.1 242.6L100.2 242.7L100.3 242.8L100.3 242.9L100.4 243.0L100.5 243.1L100.6 243.2L100.6 243.3L100.7 243.4L100.8 243.5L100.9 243.6L101.0 243.7L101.0 243.8L101.1 243.9L101.2 244.0L101.3 244.1L101.3 244.2L101.4 244.3L101.5 244.4L101.6 244.5L101.6 244.6L101.7 244.7L101.8 244.8L101.9 244.8L101.9 244.9L102.0 245.0L102.1 245.1L102.2 245.2L102.2 245.3L102.3 245.4L102.4 245.5L102.5 245.6L102.5 245.7L102.6 245.8L102.7 245.9L102.8 246.0L102.8 246.0L102.9 246.1L103.0 246.2L103.1 246.3L103.1 246.4L103.2 246.5L103.3 246.6L103.4 246.7L103.5 246.8L103.5 246.8L103.6 246.9L103.7 247.0L103.8 247.1L103.8 247.2L103.9 247.3L104.0 247.4L104.1 247.5L104.1 247.5L104.2 247.6L104.3 247.7L104.4 247.8L104.4 247.9L104.5 248.0L104.6 248.0L104.7 248.1L104.7 248.2L104.8 248.3L104.9 248.4L105.0 248.5L105.0 248.5L105.1 248.6L105.2 248.7L105.3 248.8L105.3 248.9L105.4 248.9L105.5 249.0L105.6 249.1L105.6 249.2L105.7 249.3L105.8 249.3L105.9 249.4L105.9 249.5L106.7 250.3L107.5 251.0L108.2 251.7L109.0 252.4L109.7 253.1L110.5 253.7L111.3 254.3L112.0 254.9L112.8 255.5L113.5 256.1L114.3 256.7L115.0 257.2L115.8 257.7L116.6 258.2L117.3 258.7L118.1 259.2L118.8 259.7L119.6 260.1L120.3 260.5L121.1 261.0L121.9 261.4L122.6 261.8L123.4 262.2L124.1 262.6L124.9 262.9L125.6 263.3L126.4 263.7L127.2 264.0L127.9 264.4L128.7 264.7L129.4 265.0L130.2 265.3L130.9 265.6L131.7 265.9L132.5 266.2L133.2 266.5L134.0 266.8L134.7 267.1L135.5 267.3L136.2 267.6L137.0 267.8L137.8 268.1L138.5 268.3L139.3 268.6L140.0 268.8L140.8 269.0L141.6 269.3L142.3 269.5L143.1 269.7L143.8 269.9L144.6 270.1L145.3 270.3L146.1 270.5L146.9 270.7L147.6 270.9L148.4 271.1L149.1 271.3L149.9 271.4L150.6 271.6L151.4 271.8L152.2 272.0L152.9 272.1L153.7 272.3L154.4 272.4L155.2 272.6L155.9 272.7L156.7 272.9L157.5 273.0L158.2 273.2L159.0 273.3L159.7 273.5L160.5 273.6L161.2 273.7L162.0 273.9L162.8 274.0L163.5 274.1L164.3 274.3L165.0 274.4L165.8 274.5L166.6 274.6L167.3 274.7L168.1 274.9L168.8 275.0L169.6 275.1L170.3 275.2L171.1 275.3L171.9 275.4L172.6 275.5L173.4 275.6L174.1 275.7L174.9 275.8L175.6 275.9L176.4 276.0L177.2 276.1L177.9 276.2L178.7 276.3L179.4 276.4L180.2 276.5L180.9 276.6L181.7 276.7L182.5 276.7L183.2 276.8L184.0 276.9L184.7 277.0L185.5 277.1L186.2 277.1L187.0 277.2L187.8 277.3L188.5 277.4L189.3 277.5L190.0 277.5L190.8 277.6L191.5 277.7L192.3 277.7L193.1 277.8L193.8 277.9L194.6 277.9L195.3 278.0L196.1 278.1L196.8 278.1L197.6 278.2L198.4 278.3L199.1 278.3L199.9 278.4L200.6 278.5L201.4 278.5L202.2 278.6L202.9 278.6L203.7 278.7L204.4 278.7L205.2 278.8L205.9 278.9L206.7 278.9L207.5 279.0L208.2 279.0L209.0 279.1L209.7 279.1L210.5 279.2L211.2 279.2L212.0 279.3L212.8 279.3L213.5 279.4L214.3 279.4L215.0 279.5L215.8 279.5L216.5 279.6L217.3 279.6L218.1 279.6L218.8 279.7L219.6 279.7L220.3 279.8L221.1 279.8L221.8 279.9L222.6 279.9L223.4 279.9L224.1 280.0L224.9 280.0L225.6 280.1L226.4 280.1L227.1 280.1L227.9 280.2L228.7 280.2L229.4 280.3L230.2 280.3L230.9 280.3L231.7 280.4L232.5 280.4L233.2 280.4L234.0 280.5L234.7 280.5L235.5 280.5L236.2 280.6L237.0 280.6L237.8 280.6L238.5 280.7L239.3 280.7L240.0 280.7L240.8 280.8L241.5 280.8L242.3 280.8L243.1 280.9L243.8 280.9L244.6 280.9L245.3 280.9L246.1 281.0L246.8 281.0L247.6 281.0L248.4 281.1L249.1 281.1L249.9 281.1L250.6 281.1L251.4 281.2L252.1 281.2L252.9 281.2L253.7 281.3L254.4 281.3L255.2 281.3L255.9 281.3L256.7 281.4L257.4 281.4L258.2 281.4L259.0 281.4L259.7 281.5L260.5 281.5L261.2 281.5L262.0 281.5L262.8 281.5L263.5 281.6L264.3 281.6L265.0 281.6L265.8 281.6L266.5 281.7L267.3 281.7L268.1 281.7L268.8 281.7L269.6 281.7L270.3 281.8L271.1 281.8L271.8 281.8L272.6 281.8L273.4 281.8L274.1 281.9L274.9 281.9L275.6 281.9L276.4 281.9L277.1 281.9L277.9 282.0L278.7 282.0L279.4 282.0L280.2 282.0L280.9 282.0L281.7 282.1L282.4 282.1L283.2 282.1L284.0 282.1L284.7 282.1L285.5 282.1L286.2 282.2L287.0 282.2L287.8 282.2L288.5 282.2L289.3 282.2L290.0 282.2L290.8 282.3L291.5 282.3L292.3 282.3L293.1 282.3L293.8 282.3L294.6 282.3L295.3 282.4L296.1 282.4L296.8 282.4L297.6 282.4L298.4 282.4L299.1 282.4L299.9 282.4L300.6 282.5L301.4 282.5L302.1 282.5L302.9 282.5L303.7 282.5L304.4 282.5L305.2 282.5L305.9 282.6L306.7 282.6L307.4 282.6L308.2 282.6L309.0 282.6L309.7 282.6L310.5 282.6L311.2 282.7L312.0 282.7L312.7 282.7L313.5 282.7L314.3 282.7L315.0 282.7L315.8 282.7L316.5 282.7L317.3 282.8L318.1 282.8L318.8 282.8L319.6 282.8L320.3 282.8L321.1 282.8L321.8 282.8L322.6 282.8L323.4 282.8L324.1 282.9L324.9 282.9L325.6 282.9L326.4 282.9L327.1 282.9L327.9 282.9L328.7 282.9L329.4 282.9L330.2 282.9L330.9 283.0L331.7 283.0L332.4 283.0L333.2 283.0L334.0 283.0L334.7 283.0L335.5 283.0L336.2 283.0L337.0 283.0L337.7 283.0L338.5 283.1L339.3 283.1L340.0 283.1L340.8 283.1L341.5 283.1L342.3 283.1L343.0 283.1L343.8 283.1L344.6 283.1L345.3 283.1L346.1 283.1L346.8 283.2L347.6 283.2L348.3 283.2L349.1 283.2L349.9 283.2L350.6 283.2L351.4 283.2L352.1 283.2L352.9 283.2L353.7 283.2L354.4 283.2L355.2 283.2L355.9 283.3L356.7 283.3L357.4 283.3L358.2 283.3L359.0 283.3L359.7 283.3L360.5 283.3L361.2 283.3L362.0 283.3L362.7 283.3L363.5 283.3"/>
<path class="bd" d="M64.3 893.0L64.4 881.4L64.4 870.2L64.5 859.5L64.6 849.2L64.7 839.2L64.7 829.6L64.8 820.4L64.9 811.4L65.0 802.8L65.0 794.5L65.1 786.4L65.2 778.6L65.3 771.0L65.3 763.7L65.4 756.6L65.5 749.7L65.6 743.0L65.7 736.5L65.7 730.2L65.8 724.1L65.9 718.2L66.0 712.4L66.0 706.8L66.1 701.3L66.2 696.0L66.3 690.8L66.3 685.8L66.4 680.8L66.5 676.0L66.6 671.4L66.6 666.8L66.7 662.4L66.8 658.0L66.9 653.8L66.9 649.7L67.0 645.6L67.1 641.7L67.2 637.8L67.2 634.0L67.3 630.4L67.4 626.8L67.5 623.2L67.5 619.8L67.6 616.4L67.7 613.1L67.8 609.9L67.8 606.7L67.9 603.6L68.0 600.5L68.1 597.6L68.2 594.6L68.2 591.8L68.3 589.0L68.4 586.2L68.5 583.5L68.5 580.9L68.6 578.3L68.7 575.7L68.8 573.2L68.8 570.7L68.9 568.3L69.0 565.9L69.1 563.6L69.1 561.3L69.2 559.1L69.3 556.9L69.4 554.7L69.4 552.5L69.5 550.4L69.6 548.4L69.7 546.3L69.7 544.4L69.8 542.4L69.9 540.5L70.0 538.5L70.0 536.7L70.1 534.8L70.2 533.0L70.3 531.2L70.3 529.5L70.4 527.7L70.5 526.0L70.6 524.4L70.7 522.7L70.7 521.1L70.8 519.5L70.9 517.9L71.0 516.3L71.0 514.8L71.1 513.3L71.2 511.8L71.3 510.3L71.3 508.9L71.4 507.4L71.5 506.0L71.6 504.6L71.6 503.3L71.7 501.9L71.8 500.6L71.9 499.2L71.9 497.9L72.0 496.7L72.1 495.4L72.2 494.1L72.2 492.9L72.3 491.7L72.4 490.5L72.5 489.3L72.5 488.1L72.6 487.0L72.7 485.8L72.8 484.7L72.8 483.6L72.9 482.5L73.0 481.4L73.1 480.3L73.2 479.3L73.2 478.2L73.3 477.2L73.4 476.2L73.5 475.1L73.5 474.1L73.6 473.2L73.7 472.2L73.8 471.2L73.8 470.3L73.9 469.3L74.0 468.4L74.1 467.5L74.1 466.5L74.2 465.6L74.3 464.7L74.4 463.9L74.4 463.0L74.5 462.1L74.6 461.3L74.7 460.4L74.7 459.6L74.8 458.8L74.9 457.9L75.0 457.1L75.0 456.3L75.1 455.5L75.2 454.8L75.3 454.0L75.3 453.2L75.4 452.4L75.5 451.7L75.6 450.9L75.7 450.2L75.7 449.5L75.8 448.8L75.9 448.0L76.0 447.3L76.0 446.6L76.1 445.9L76.2 445.2L76.3 444.6L76.3 443.9L76.4 443.2L76.5 442.6L76.6 441.9L76.6 441.2L76.7 440.6L76.8 440.0L76.9 439.3L76.9 438.7L77.0 438.1L77.1 437.5L77.2 436.9L77.2 436.3L77.3 435.7L77.4 435.1L77.5 434.5L77.5 433.9L77.6 433.3L77.7 432.7L77.8 432.2L77.8 431.6L77.9 431.1L78.0 430.5L78.1 430.0L78.1 429.4L78.2 428.9L78.3 428.4L78.4 427.8L78.5 427.3L78.5 426.8L78.6 426.3L78.7 425.8L78.8 425.2L78.8 424.7L78.9 424.2L79.0 423.8L79.1 423.3L79.1 422.8L79.2 422.3L79.3 421.8L79.4 421.3L79.4 420.9L79.5 420.4L79.6 419.9L79.7 419.5L79.7 419.0L79.8 418.6L79.9 418.1L80.0 417.7L80.0 417.2L80.1 416.8L80.2 416.4L80.3 415.9L80.3 415.5L80.4 415.1L80.5 414.7L80.6 414.2L80.6 413.8L80.7 413.4L80.8 413.0L80.9 412.6L81.0 412.2L81.0 411.8L81.1 411.4L81.2 411.0L81.3 410.6L81.3 410.2L81.4 409.9L81.5 409.5L81.6 409.1L81.6 408.7L81.7 408.3L81.8 408.0L81.9 407.6L81.9 407.2L82.0 406.9L82.1 406.5L82.2 406.2L82.2 405.8L82.3 405.4L82.4 405.1L82.5 404.7L82.5 404.4L82.6 404.1L82.7 403.7L82.8 403.4L82.8 403.0L82.9 402.7L83.0 402.4L83.1 402.0L83.1 401.7L83.2 401.4L83.3 401.1L83.4 400.7L83.5 400.4L83.5 400.1L83.6 399.8L83.7 399.5L83.8 399.2L83.8 398.9L83.9 398.6L84.0 398.3L84.1 398.0L84.1 397.7L84.2 397.4L84.3 397.1L84.4 396.8L84.4 396.5L84.5 396.2L84.6 395.9L84.7 395.6L84.7 395.3L84.8 395.0L84.9 394.8L85.0 394.5L85.0 394.2L85.1 393.9L85.2 393.7L85.3 393.4L85.3 393.1L85.4 392.8L85.5 392.6L85.6 392.3L85.6 392.0L85.7 391.8L85.8 391.5L85.9 391.3L86.0 391.0L86.0 390.7L86.1 390.5L86.2 390.2L86.3 390.0L86.3 389.7L86.4 389.5L86.5 389.2L86.6 389.0L86.6 388.7L86.7 388.5L86.8 388.3L86.9 388.0L86.9 387.8L87.0 387.5L87.1 387.3L87.2 387.1L87.2 386.8L87.3 386.6L87.4 386.4L87.5 386.1L87.5 385.9L87.6 385.7L87.7 385.5L87.8 385.2L87.8 385.0L87.9 384.8L88.0 384.6L88.1 384.4L88.1 384.1L88.2 383.9L88.3 383.7L88.4 383.5L88.5 383.3L88.5 383.1L88.6 382.9L88.7 382.6L88.8 382.4L88.8 382.2L88.9 382.0L89.0 381.8L89.1 381.6L89.1 381.4L89.2 381.2L89.3 381.0L89.4 380.8L89.4 380.6L89.5 380.4L89.6 380.2L89.7 380.0L89.7 379.8L89.8 379.6L89.9 379.4L90.0 379.2L90.0 379.1L90.1 378.9L90.2 378.7L90.3 378.5L90.3 378.3L90.4 378.1L90.5 377.9L90.6 377.8L90.6 377.6L90.7 377.4L90.8 377.2L90.9 377.0L91.0 376.8L91.0 376.7L91.1 376.5L91.2 376.3L91.3 376.1L91.3 376.0L91.4 375.8L91.5 375.6L91.6 375.4L91.6 375.3L91.7 375.1L91.8 374.9L91.9 374.8L91.9 374.6L92.0 374.4L92.1 374.3L92.2 374.1L92.2 373.9L92.3 373.8L92.4 373.6L92.5 373.5L92.5 373.3L92.6 373.1L92.7 373.0L92.8 372.8L92.8 372.7L92.9 372.5L93.0 372.3L93.1 372.2L93.1 372.0L93.2 371.9L93.3 371.7L93.4 371.6L93.5 371.4L93.5 371.3L93.6 371.1L93.7 371.0L93.8 370.8L93.8 370.7L93.9 370.5L94.0 370.4L94.1 370.2L94.1 370.1L94.2 369.9L94.3 369.8L94.4 369.6L94.4 369.5L94.5 369.4L94.6 369.2L94.7 369.1L94.7 368.9L94.8 368.8L94.9 368.7L95.0 368.5L95.0 368.4L95.1 368.2L95.2 368.1L95.3 368.0L95.3 367.8L95.4 367.7L95.5 367.6L95.6 367.4L95.6 367.3L95.7 367.2L95.8 367.0L95.9 366.9L96.0 366.8L96.0 366.6L96.1 366.5L96.2 366.4L96.3 366.3L96.3 366.1L96.4 366.0L96.5 365.9L96.6 365.7L96.6 365.6L96.7 365.5L96.8 365.4L96.9 365.2L96.9 365.1L97.0 365.0L97.1 364.9L97.2 364.8L97.2 364.6L97.3 364.5L97.4 364.4L97.5 364.3L97.5 364.1L97.6 364.0L97.7 363.9L97.8 363.8L97.8 363.7L97.9 363.6L98.0 363.4L98.1 363.3L98.1 363.2L98.2 363.1L98.3 363.0L98.4 362.9L98.5 362.8L98.5 362.6L98.6 362.5L98.7 362.4L98.8 362.3L98.8 362.2L98.9 362.1L99.0 362.0L99.1 361.9L99.1 361.8L99.2 361.6L99.3 361.5L99.4 361.4L99.4 361.3L99.5 361.2L99.6 361.1L99.7 361.0L99.7 360.9L99.8 360.8L99.9 360.7L100.0 360.6L100.0 360.5L100.1 360.4L100.2 360.3L100.3 360.2L100.3 360.1L100.4 360.0L100.5 359.9L100.6 359.8L100.6 359.7L100.7 359.6L100.8 359.5L100.9 359.4L101.0 359.3L101.0 359.2L101.1 359.1L101.2 359.0L101.3 358.9L101.3 358.8L101.4 358.7L101.5 358.6L101.6 358.5L101.6 358.4L101.7 358.3L101.8 358.2L101.9 358.1L101.9 358.0L102.0 357.9L102.1 357.8L102.2 357.7L102.2 357.6L102.3 357.5L102.4 357.4L102.5 357.3L102.5 357.2L102.6 357.2L102.7 357.1L102.8 357.0L102.8 356.9L102.9 356.8L103.0 356.7L103.1 356.6L103.1 356.5L103.2 356.4L103.3 356.3L103.4 356.3L103.5 356.2L103.5 356.1L103.6 356.0L103.7 355.9L103.8 355.8L103.8 355.7L103.9 355.7L104.0 355.6L104.1 355.5L104.1 355.4L104.2 355.3L104.3 355.2L104.4 355.1L104.4 355.1L104.5 355.0L104.6 354.9L104.7 354.8L104.7 354.7L104.8 354.6L104.9 354.6L105.0 354.5L105.0 354.4L105.1 354.3L105.2 354.2L105.3 354.2L105.3 354.1L105.4 354.0L105.5 353.9L105.6 353.8L105.6 353.8L105.7 353.7L105.8 353.6L105.9 353.5L105.9 353.4L106.7 352.7L107.5 351.9L108.2 351.2L109.0 350.5L109.7 349.9L110.5 349.2L111.3 348.6L112.0 348.0L112.8 347.4L113.5 346.8L114.3 346.3L115.0 345.7L115.8 345.2L116.6 344.7L117.3 344.2L118.1 343.7L118.8 343.3L119.6 342.8L120.3 342.4L121.1 342.0L121.9 341.5L122.6 341.1L123.4 340.7L124.1 340.4L124.9 340.0L125.6 339.6L126.4 339.3L127.2 338.9L127.9 338.6L128.7 338.3L129.4 337.9L130.2 337.6L130.9 337.3L131.7 337.0L132.5 336.7L133.2 336.4L134.0 336.2L134.7 335.9L135.5 335.6L136.2 335.4L137.0 335.1L137.8 334.8L138.5 334.6L139.3 334.4L140.0 334.1L140.8 333.9L141.6 333.7L142.3 333.5L143.1 333.2L143.8 333.0L144.6 332.8L145.3 332.6L146.1 332.4L146.9 332.2L147.6 332.0L148.4 331.9L149.1 331.7L149.9 331.5L150.6 331.3L151.4 331.2L152.2 331.0L152.9 330.8L153.7 330.7L154.4 330.5L155.2 330.3L155.9 330.2L156.7 330.0L157.5 329.9L158.2 329.7L159.0 329.6L159.7 329.5L160.5 329.3L161.2 329.2L162.0 329.1L162.8 328.9L163.5 328.8L164.3 328.7L165.0 328.5L165.8 328.4L166.6 328.3L167.3 328.2L168.1 328.1L168.8 328.0L169.6 327.8L170.3 327.7L171.1 327.6L171.9 327.5L172.6 327.4L173.4 327.3L174.1 327.2L174.9 327.1L175.6 327.0L176.4 326.9L177.2 326.8L177.9 326.7L178.7 326.6L179.4 326.5L180.2 326.5L180.9 326.4L181.7 326.3L182.5 326.2L183.2 326.1L184.0 326.0L184.7 325.9L185.5 325.9L186.2 325.8L187.0 325.7L187.8 325.6L188.5 325.6L189.3 325.5L190.0 325.4L190.8 325.3L191.5 325.3L192.3 325.2L193.1 325.1L193.8 325.1L194.6 325.0L195.3 324.9L196.1 324.9L196.8 324.8L197.6 324.7L198.4 324.7L199.1 324.6L199.9 324.5L200.6 324.5L201.4 324.4L202.2 324.4L202.9 324.3L203.7 324.2L204.4 324.2L205.2 324.1L205.9 324.1L206.7 324.0L207.5 324.0L208.2 323.9L209.0 323.9L209.7 323.8L210.5 323.8L211.2 323.7L212.0 323.7L212.8 323.6L213.5 323.6L214.3 323.5L215.0 323.5L215.8 323.4L216.5 323.4L217.3 323.3L218.1 323.3L218.8 323.2L219.6 323.2L220.3 323.2L221.1 323.1L221.8 323.1L222.6 323.0L223.4 323.0L224.1 322.9L224.9 322.9L225.6 322.9L226.4 322.8L227.1 322.8L227.9 322.8L228.7 322.7L229.4 322.7L230.2 322.6L230.9 322.6L231.7 322.6L232.5 322.5L233.2 322.5L234.0 322.5L234.7 322.4L235.5 322.4L236.2 322.4L237.0 322.3L237.8 322.3L238.5 322.3L239.3 322.2L240.0 322.2L240.8 322.2L241.5 322.1L242.3 322.1L243.1 322.1L243.8 322.0L244.6 322.0L245.3 322.0L246.1 322.0L246.8 321.9L247.6 321.9L248.4 321.9L249.1 321.8L249.9 321.8L250.6 321.8L251.4 321.8L252.1 321.7L252.9 321.7L253.7 321.7L254.4 321.7L255.2 321.6L255.9 321.6L256.7 321.6L257.4 321.6L258.2 321.5L259.0 321.5L259.7 321.5L260.5 321.5L261.2 321.4L262.0 321.4L262.8 321.4L263.5 321.4L264.3 321.3L265.0 321.3L265.8 321.3L266.5 321.3L267.3 321.3L268.1 321.2L268.8 321.2L269.6 321.2L270.3 321.2L271.1 321.1L271.8 321.1L272.6 321.1L273.4 321.1L274.1 321.1L274.9 321.0L275.6 321.0L276.4 321.0L277.1 321.0L277.9 321.0L278.7 320.9L279.4 320.9L280.2 320.9L280.9 320.9L281.7 320.9L282.4 320.9L283.2 320.8L284.0 320.8L284.7 320.8L285.5 320.8L286.2 320.8L287.0 320.8L287.8 320.7L288.5 320.7L289.3 320.7L290.0 320.7L290.8 320.7L291.5 320.7L292.3 320.6L293.1 320.6L293.8 320.6L294.6 320.6L295.3 320.6L296.1 320.6L296.8 320.5L297.6 320.5L298.4 320.5L299.1 320.5L299.9 320.5L300.6 320.5L301.4 320.5L302.1 320.4L302.9 320.4L303.7 320.4L304.4 320.4L305.2 320.4L305.9 320.4L306.7 320.4L307.4 320.3L308.2 320.3L309.0 320.3L309.7 320.3L310.5 320.3L311.2 320.3L312.0 320.3L312.7 320.3L313.5 320.2L314.3 320.2L315.0 320.2L315.8 320.2L316.5 320.2L317.3 320.2L318.1 320.2L318.8 320.2L319.6 320.1L320.3 320.1L321.1 320.1L321.8 320.1L322.6 320.1L323.4 320.1L324.1 320.1L324.9 320.1L325.6 320.1L326.4 320.0L327.1 320.0L327.9 320.0L328.7 320.0L329.4 320.0L330.2 320.0L330.9 320.0L331.7 320.0L332.4 320.0L333.2 319.9L334.0 319.9L334.7 319.9L335.5 319.9L336.2 319.9L337.0 319.9L337.7 319.9L338.5 319.9L339.3 319.9L340.0 319.9L340.8 319.9L341.5 319.8L342.3 319.8L343.0 319.8L343.8 319.8L344.6 319.8L345.3 319.8L346.1 319.8L346.8 319.8L347.6 319.8L348.3 319.8L349.1 319.8L349.9 319.7L350.6 319.7L351.4 319.7L352.1 319.7L352.9 319.7L353.7 319.7L354.4 319.7L355.2 319.7L355.9 319.7L356.7 319.7L357.4 319.7L358.2 319.7L359.0 319.6L359.7 319.6L360.5 319.6L361.2 319.6L362.0 319.6L362.7 319.6L363.5 319.6"/>
<path class="bt" d="M62.1 -140.9L62.2 -111.6L62.2 -84.8L62.3 -60.3L62.4 -37.8L62.5 -17.0L62.5 2.3L62.6 20.2L62.7 36.9L62.8 52.4L62.8 67.0L62.9 80.6L63.0 93.4L63.1 105.5L63.2 116.8L63.2 127.6L63.3 137.7L63.4 147.4L63.5 156.5L63.5 165.2L63.6 173.4L63.7 181.3L63.8 188.8L63.8 195.9L63.9 202.7L64.0 209.3L64.1 215.5L64.1 221.5L64.2 227.3L64.3 232.8L64.4 238.1L64.4 243.2L64.5 248.1L64.6 252.9L64.7 257.4L64.7 261.8L64.8 266.0L64.9 270.1L65.0 274.1L65.0 277.9L65.1 281.6L65.2 285.2L65.3 288.6L65.3 292.0L65.4 295.3L65.5 298.4L65.6 301.5L65.7 304.4L65.7 307.3L65.8 310.1L65.9 312.8L66.0 315.5L66.0 318.1L66.1 320.6L66.2 323.0L66.3 325.4L66.3 327.7L66.4 329.9L66.5 332.1L66.6 334.3L66.6 336.4L66.7 338.4L66.8 340.4L66.9 342.3L66.9 344.2L67.0 346.1L67.1 347.9L67.2 349.7L67.2 351.4L67.3 353.1L67.4 354.7L67.5 356.3L67.5 357.9L67.6 359.5L67.7 361.0L67.8 362.5L67.8 363.9L67.9 365.3L68.0 366.7L68.1 368.1L68.2 369.4L68.2 370.8L68.3 372.0L68.4 373.3L68.5 374.5L68.5 375.8L68.6 377.0L68.7 378.1L68.8 379.3L68.8 380.4L68.9 381.5L69.0 382.6L69.1 383.7L69.1 384.7L69.2 385.8L69.3 386.8L69.4 387.8L69.4 388.7L69.5 389.7L69.6 390.7L69.7 391.6L69.7 392.5L69.8 393.4L69.9 394.3L70.0 395.2L70.0 396.0L70.1 396.9L70.2 397.7L70.3 398.5L70.3 399.3L70.4 400.1L70.5 400.9L70.6 401.7L70.7 402.4L70.7 403.2L70.8 403.9L70.9 404.6L71.0 405.4L71.0 406.1L71.1 406.8L71.2 407.4L71.3 408.1L71.3 408.8L71.4 409.4L71.5 410.1L71.6 410.7L71.6 411.4L71.7 412.0L71.8 412.6L71.9 413.2L71.9 413.8L72.0 414.4L72.1 415.0L72.2 415.5L72.2 416.1L72.3 416.7L72.4 417.2L72.5 417.8L72.5 418.3L72.6 418.8L72.7 419.4L72.8 419.9L72.8 420.4L72.9 420.9L73.0 421.4L73.1 421.9L73.2 422.4L73.2 422.9L73.3 423.3L73.4 423.8L73.5 424.3L73.5 424.7L73.6 425.2L73.7 425.6L73.8 426.1L73.8 426.5L73.9 427.0L74.0 427.4L74.1 427.8L74.1 428.2L74.2 428.7L74.3 429.1L74.4 429.5L74.4 429.9L74.5 430.3L74.6 430.7L74.7 431.0L74.7 431.4L74.8 431.8L74.9 432.2L75.0 432.6L75.0 432.9L75.1 433.3L75.2 433.7L75.3 434.0L75.3 434.4L75.4 434.7L75.5 435.1L75.6 435.4L75.7 435.8L75.7 436.1L75.8 436.4L75.9 436.8L76.0 437.1L76.0 437.4L76.1 437.7L76.2 438.0L76.3 438.4L76.3 438.7L76.4 439.0L76.5 439.3L76.6 439.6L76.6 439.9L76.7 440.2L76.8 440.5L76.9 440.8L76.9 441.1L77.0 441.3L77.1 441.6L77.2 441.9L77.2 442.2L77.3 442.5L77.4 442.7L77.5 443.0L77.5 443.3L77.6 443.5L77.7 443.8L77.8 444.1L77.8 444.3L77.9 444.6L78.0 444.8L78.1 445.1L78.1 445.3L78.2 445.6L78.3 445.8L78.4 446.1L78.5 446.3L78.5 446.6L78.6 446.8L78.7 447.0L78.8 447.3L78.8 447.5L78.9 447.7L79.0 448.0L79.1 448.2L79.1 448.4L79.2 448.6L79.3 448.8L79.4 449.1L79.4 449.3L79.5 449.5L79.6 449.7L79.7 449.9L79.7 450.1L79.8 450.3L79.9 450.6L80.0 450.8L80.0 451.0L80.1 451.2L80.2 451.4L80.3 451.6L80.3 451.8L80.4 452.0L80.5 452.2L80.6 452.3L80.6 452.5L80.7 452.7L80.8 452.9L80.9 453.1L81.0 453.3L81.0 453.5L81.1 453.7L81.2 453.8L81.3 454.0L81.3 454.2L81.4 454.4L81.5 454.6L81.6 454.7L81.6 454.9L81.7 455.1L81.8 455.3L81.9 455.4L81.9 455.6L82.0 455.8L82.1 455.9L82.2 456.1L82.2 456.3L82.3 456.4L82.4 456.6L82.5 456.7L82.5 456.9L82.6 457.1L82.7 457.2L82.8 457.4L82.8 457.5L82.9 457.7L83.0 457.8L83.1 458.0L83.1 458.2L83.2 458.3L83.3 458.5L83.4 458.6L83.5 458.7L83.5 458.9L83.6 459.0L83.7 459.2L83.8 459.3L83.8 459.5L83.9 459.6L84.0 459.8L84.1 459.9L84.1 460.0L84.2 460.2L84.3 460.3L84.4 460.4L84.4 460.6L84.5 460.7L84.6 460.9L84.7 461.0L84.7 461.1L84.8 461.3L84.9 461.4L85.0 461.5L85.0 461.6L85.1 461.8L85.2 461.9L85.3 462.0L85.3 462.2L85.4 462.3L85.5 462.4L85.6 462.5L85.6 462.6L85.7 462.8L85.8 462.9L85.9 463.0L86.0 463.1L86.0 463.3L86.1 463.4L86.2 463.5L86.3 463.6L86.3 463.7L86.4 463.8L86.5 464.0L86.6 464.1L86.6 464.2L86.7 464.3L86.8 464.4L86.9 464.5L86.9 464.6L87.0 464.7L87.1 464.9L87.2 465.0L87.2 465.1L87.3 465.2L87.4 465.3L87.5 465.4L87.5 465.5L87.6 465.6L87.7 465.7L87.8 465.8L87.8 465.9L87.9 466.0L88.0 466.1L88.1 466.2L88.1 466.3L88.2 466.4L88.3 466.5L88.4 466.6L88.5 466.7L88.5 466.8L88.6 466.9L88.7 467.0L88.8 467.1L88.8 467.2L88.9 467.3L89.0 467.4L89.1 467.5L89.1 467.6L89.2 467.7L89.3 467.8L89.4 467.9L89.4 468.0L89.5 468.1L89.6 468.2L89.7 468.3L89.7 468.3L89.8 468.4L89.9 468.5L90.0 468.6L90.0 468.7L90.1 468.8L90.2 468.9L90.3 469.0L90.3 469.1L90.4 469.1L90.5 469.2L90.6 469.3L90.6 469.4L90.7 469.5L90.8 469.6L90.9 469.7L91.0 469.7L91.0 469.8L91.1 469.9L91.2 470.0L91.3 470.1L91.3 470.2L91.4 470.2L91.5 470.3L91.6 470.4L91.6 470.5L91.7 470.6L91.8 470.6L91.9 470.7L91.9 470.8L92.0 470.9L92.1 471.0L92.2 471.0L92.2 471.1L92.3 471.2L92.4 471.3L92.5 471.3L92.5 471.4L92.6 471.5L92.7 471.6L92.8 471.6L92.8 471.7L92.9 471.8L93.0 471.9L93.1 471.9L93.1 472.0L93.2 472.1L93.3 472.2L93.4 472.2L93.5 472.3L93.5 472.4L93.6 472.4L93.7 472.5L93.8 472.6L93.8 472.7L93.9 472.7L94.0 472.8L94.1 472.9L94.1 472.9L94.2 473.0L94.3 473.1L94.4 473.1L94.4 473.2L94.5 473.3L94.6 473.3L94.7 473.4L94.7 473.5L94.8 473.5L94.9 473.6L95.0 473.7L95.0 473.7L95.1 473.8L95.2 473.9L95.3 473.9L95.3 474.0L95.4 474.1L95.5 474.1L95.6 474.2L95.6 474.2L95.7 474.3L95.8 474.4L95.9 474.4L96.0 474.5L96.0 474.6L96.1 474.6L96.2 474.7L96.3 474.7L96.3 474.8L96.4 474.9L96.5 474.9L96.6 475.0L96.6 475.0L96.7 475.1L96.8 475.2L96.9 475.2L96.9 475.3L97.0 475.3L97.1 475.4L97.2 475.4L97.2 475.5L97.3 475.6L97.4 475.6L97.5 475.7L97.5 475.7L97.6 475.8L97.7 475.8L97.8 475.9L97.8 476.0L97.9 476.0L98.0 476.1L98.1 476.1L98.1 476.2L98.2 476.2L98.3 476.3L98.4 476.3L98.5 476.4L98.5 476.4L98.6 476.5L98.7 476.6L98.8 476.6L98.8 476.7L98.9 476.7L99.0 476.8L99.1 476.8L99.1 476.9L99.2 476.9L99.3 477.0L99.4 477.0L99.4 477.1L99.5 477.1L99.6 477.2L99.7 477.2L99.7 477.3L99.8 477.3L99.9 477.4L100.0 477.4L100.0 477.5L100.1 477.5L100.2 477.6L100.3 477.6L100.3 477.7L100.4 477.7L100.5 477.8L100.6 477.8L100.6 477.9L100.7 477.9L100.8 478.0L100.9 478.0L101.0 478.1L101.0 478.1L101.1 478.2L101.2 478.2L101.3 478.3L101.3 478.3L101.4 478.3L101.5 478.4L101.6 478.4L101.6 478.5L101.7 478.5L101.8 478.6L101.9 478.6L101.9 478.7L102.0 478.7L102.1 478.8L102.2 478.8L102.2 478.8L102.3 478.9L102.4 478.9L102.5 479.0L102.5 479.0L102.6 479.1L102.7 479.1L102.8 479.2L102.8 479.2L102.9 479.2L103.0 479.3L103.1 479.3L103.1 479.4L103.2 479.4L103.3 479.5L103.4 479.5L103.5 479.5L103.5 479.6L103.6 479.6L103.7 479.7L103.8 479.7L103.8 479.7L103.9 479.8L104.0 479.8L104.1 479.9L104.1 479.9L104.2 480.0L104.3 480.0L104.4 480.0L104.4 480.1L104.5 480.1L104.6 480.2L104.7 480.2L104.7 480.2L104.8 480.3L104.9 480.3L105.0 480.4L105.0 480.4L105.1 480.4L105.2 480.5L105.3 480.5L105.3 480.5L105.4 480.6L105.5 480.6L105.6 480.7L105.6 480.7L105.7 480.7L105.8 480.8L105.9 480.8L105.9 480.9L106.7 481.2L107.5 481.6L108.2 481.9L109.0 482.3L109.7 482.6L110.5 482.9L111.3 483.2L112.0 483.5L112.8 483.8L113.5 484.1L114.3 484.3L115.0 484.6L115.8 484.9L116.6 485.1L117.3 485.4L118.1 485.6L118.8 485.8L119.6 486.1L120.3 486.3L121.1 486.5L121.9 486.7L122.6 486.9L123.4 487.1L124.1 487.3L124.9 487.5L125.6 487.7L126.4 487.8L127.2 488.0L127.9 488.2L128.7 488.4L129.4 488.5L130.2 488.7L130.9 488.9L131.7 489.0L132.5 489.2L133.2 489.3L134.0 489.5L134.7 489.6L135.5 489.7L136.2 489.9L137.0 490.0L137.8 490.1L138.5 490.3L139.3 490.4L140.0 490.5L140.8 490.6L141.6 490.8L142.3 490.9L143.1 491.0L143.8 491.1L144.6 491.2L145.3 491.3L146.1 491.4L146.9 491.5L147.6 491.6L148.4 491.7L149.1 491.8L149.9 491.9L150.6 492.0L151.4 492.1L152.2 492.2L152.9 492.3L153.7 492.4L154.4 492.5L155.2 492.6L155.9 492.7L156.7 492.7L157.5 492.8L158.2 492.9L159.0 493.0L159.7 493.1L160.5 493.2L161.2 493.2L162.0 493.3L162.8 493.4L163.5 493.5L164.3 493.5L165.0 493.6L165.8 493.7L166.6 493.7L167.3 493.8L168.1 493.9L168.8 493.9L169.6 494.0L170.3 494.1L171.1 494.1L171.9 494.2L172.6 494.3L173.4 494.3L174.1 494.4L174.9 494.4L175.6 494.5L176.4 494.6L177.2 494.6L177.9 494.7L178.7 494.7L179.4 494.8L180.2 494.8L180.9 494.9L181.7 494.9L182.5 495.0L183.2 495.0L184.0 495.1L184.7 495.2L185.5 495.2L186.2 495.2L187.0 495.3L187.8 495.3L188.5 495.4L189.3 495.4L190.0 495.5L190.8 495.5L191.5 495.6L192.3 495.6L193.1 495.7L193.8 495.7L194.6 495.8L195.3 495.8L196.1 495.8L196.8 495.9L197.6 495.9L198.4 496.0L199.1 496.0L199.9 496.0L200.6 496.1L201.4 496.1L202.2 496.2L202.9 496.2L203.7 496.2L204.4 496.3L205.2 496.3L205.9 496.4L206.7 496.4L207.5 496.4L208.2 496.5L209.0 496.5L209.7 496.5L210.5 496.6L211.2 496.6L212.0 496.6L212.8 496.7L213.5 496.7L214.3 496.7L215.0 496.8L215.8 496.8L216.5 496.8L217.3 496.9L218.1 496.9L218.8 496.9L219.6 497.0L220.3 497.0L221.1 497.0L221.8 497.0L222.6 497.1L223.4 497.1L224.1 497.1L224.9 497.2L225.6 497.2L226.4 497.2L227.1 497.3L227.9 497.3L228.7 497.3L229.4 497.3L230.2 497.4L230.9 497.4L231.7 497.4L232.5 497.4L233.2 497.5L234.0 497.5L234.7 497.5L235.5 497.5L236.2 497.6L237.0 497.6L237.8 497.6L238.5 497.6L239.3 497.7L240.0 497.7L240.8 497.7L241.5 497.7L242.3 497.8L243.1 497.8L243.8 497.8L244.6 497.8L245.3 497.9L246.1 497.9L246.8 497.9L247.6 497.9L248.4 497.9L249.1 498.0L249.9 498.0L250.6 498.0L251.4 498.0L252.1 498.1L252.9 498.1L253.7 498.1L254.4 498.1L255.2 498.1L255.9 498.2L256.7 498.2L257.4 498.2L258.2 498.2L259.0 498.2L259.7 498.3L260.5 498.3L261.2 498.3L262.0 498.3L262.8 498.3L263.5 498.4L264.3 498.4L265.0 498.4L265.8 498.4L266.5 498.4L267.3 498.4L268.1 498.5L268.8 498.5L269.6 498.5L270.3 498.5L271.1 498.5L271.8 498.6L272.6 498.6L273.4 498.6L274.1 498.6L274.9 498.6L275.6 498.6L276.4 498.7L277.1 498.7L277.9 498.7L278.7 498.7L279.4 498.7L280.2 498.7L280.9 498.8L281.7 498.8L282.4 498.8L283.2 498.8L284.0 498.8L284.7 498.8L285.5 498.8L286.2 498.9L287.0 498.9L287.8 498.9L288.5 498.9L289.3 498.9L290.0 498.9L290.8 498.9L291.5 499.0L292.3 499.0L293.1 499.0L293.8 499.0L294.6 499.0L295.3 499.0L296.1 499.0L296.8 499.1L297.6 499.1L298.4 499.1L299.1 499.1L299.9 499.1L300.6 499.1L301.4 499.1L302.1 499.2L302.9 499.2L303.7 499.2L304.4 499.2L305.2 499.2L305.9 499.2L306.7 499.2L307.4 499.2L308.2 499.3L309.0 499.3L309.7 499.3L310.5 499.3L311.2 499.3L312.0 499.3L312.7 499.3L313.5 499.3L314.3 499.4L315.0 499.4L315.8 499.4L316.5 499.4L317.3 499.4L318.1 499.4L318.8 499.4L319.6 499.4L320.3 499.5L321.1 499.5L321.8 499.5L322.6 499.5L323.4 499.5L324.1 499.5L324.9 499.5L325.6 499.5L326.4 499.5L327.1 499.6L327.9 499.6L328.7 499.6L329.4 499.6L330.2 499.6L330.9 499.6L331.7 499.6L332.4 499.6L333.2 499.6L334.0 499.7L334.7 499.7L335.5 499.7L336.2 499.7L337.0 499.7L337.7 499.7L338.5 499.7L339.3 499.7L340.0 499.7L340.8 499.7L341.5 499.8L342.3 499.8L343.0 499.8L343.8 499.8L344.6 499.8L345.3 499.8L346.1 499.8L346.8 499.8L347.6 499.8L348.3 499.8L349.1 499.8L349.9 499.9L350.6 499.9L351.4 499.9L352.1 499.9L352.9 499.9L353.7 499.9L354.4 499.9L355.2 499.9L355.9 499.9L356.7 499.9L357.4 499.9L358.2 500.0L359.0 500.0L359.7 500.0L360.5 500.0L361.2 500.0L362.0 500.0L362.7 500.0L363.5 500.0"/>
<path class="rs" d="M60.6 484.6L60.7 482.1L60.7 480.4L60.8 479.2L60.9 478.2L61.0 477.4L61.0 476.7L61.1 476.0L61.2 475.4L61.3 474.9L61.3 474.4L61.4 473.9L61.5 473.5L61.6 473.1L61.6 472.7L61.7 472.4L61.8 472.0L61.9 471.7L61.9 471.4L62.0 471.1L62.1 470.8L62.2 470.5L62.2 470.3L62.3 470.0L62.4 469.8L62.5 469.5L62.5 469.3L62.6 469.1L62.7 468.9L62.8 468.6L62.8 468.4L62.9 468.2L63.0 468.0L63.1 467.9L63.2 467.7L63.2 467.5L63.3 467.3L63.4 467.1L63.5 467.0L63.5 466.8L63.6 466.6L63.7 466.5L63.8 466.3L63.8 466.2L63.9 466.0L64.0 465.9L64.1 465.7L64.1 465.6L64.2 465.4L64.3 465.3L64.4 465.2L64.4 465.0L64.5 464.9L64.6 464.8L64.7 464.6L64.7 464.5L64.8 464.4L64.9 464.3L65.0 464.1L65.0 464.0L65.1 463.9L65.2 463.8L65.3 463.7L65.3 463.6L65.4 463.5L65.5 463.3L65.6 463.2L65.7 463.1L65.7 463.0L65.8 462.9L65.9 462.8L66.0 462.7L66.0 462.6L66.1 462.5L66.2 462.4L66.3 462.3L66.3 462.2L66.4 462.1L66.5 462.0L66.6 461.9L66.6 461.8L66.7 461.7L66.8 461.7L66.9 461.6L66.9 461.5L67.0 461.4L67.1 461.3L67.2 461.2L67.2 461.1L67.3 461.0L67.4 461.0L67.5 460.9L67.5 460.8L67.6 460.7L67.7 460.6L67.8 460.5L67.8 460.5L67.9 460.4L68.0 460.3L68.1 460.2L68.2 460.2L68.2 460.1L68.3 460.0L68.4 459.9L68.5 459.9L68.5 459.8L68.6 459.7L68.7 459.6L68.8 459.6L68.8 459.5L68.9 459.4L69.0 459.3L69.1 459.3L69.1 459.2L69.2 459.1L69.3 459.1L69.4 459.0L69.4 458.9L69.5 458.9L69.6 458.8L69.7 458.7L69.7 458.7L69.8 458.6L69.9 458.5L70.0 458.5L70.0 458.4L70.1 458.3L70.2 458.3L70.3 458.2L70.3 458.1L70.4 458.1L70.5 458.0L70.6 458.0L70.7 457.9L70.7 457.8L70.8 457.8L70.9 457.7L71.0 457.7L71.0 457.6L71.1 457.5L71.2 457.5L71.3 457.4L71.3 457.4L71.4 457.3L71.5 457.2L71.6 457.2L71.6 457.1L71.7 457.1L71.8 457.0L71.9 457.0L71.9 456.9L72.0 456.9L72.1 456.8L72.2 456.7L72.2 456.7L72.3 456.6L72.4 456.6L72.5 456.5L72.5 456.5L72.6 456.4L72.7 456.4L72.8 456.3L72.8 456.3L72.9 456.2L73.0 456.2L73.1 456.1L73.2 456.1L73.2 456.0L73.3 456.0L73.4 455.9L73.5 455.9L73.5 455.8L73.6 455.8L73.7 455.7L73.8 455.7L73.8 455.6L73.9 455.6L74.0 455.5L74.1 455.5L74.1 455.4L74.2 455.4L74.3 455.3L74.4 455.3L74.4 455.2L74.5 455.2L74.6 455.1L74.7 455.1L74.7 455.0L74.8 455.0L74.9 454.9L75.0 454.9L75.0 454.9L75.1 454.8L75.2 454.8L75.3 454.7L75.3 454.7L75.4 454.6L75.5 454.6L75.6 454.5L75.7 454.5L75.7 454.5L75.8 454.4L75.9 454.4L76.0 454.3L76.0 454.3L76.1 454.2L76.2 454.2L76.3 454.2L76.3 454.1L76.4 454.1L76.5 454.0L76.6 454.0L76.6 453.9L76.7 453.9L76.8 453.9L76.9 453.8L76.9 453.8L77.0 453.7L77.1 453.7L77.2 453.7L77.2 453.6L77.3 453.6L77.4 453.5L77.5 453.5L77.5 453.5L77.6 453.4L77.7 453.4L77.8 453.3L77.8 453.3L77.9 453.3L78.0 453.2L78.1 453.2L78.1 453.1L78.2 453.1L78.3 453.1L78.4 453.0L78.5 453.0L78.5 452.9L78.6 452.9L78.7 452.9L78.8 452.8L78.8 452.8L78.9 452.8L79.0 452.7L79.1 452.7L79.1 452.6L79.2 452.6L79.3 452.6L79.4 452.5L79.4 452.5L79.5 452.5L79.6 452.4L79.7 452.4L79.7 452.3L79.8 452.3L79.9 452.3L80.0 452.2L80.0 452.2L80.1 452.2L80.2 452.1L80.3 452.1L80.3 452.1L80.4 452.0L80.5 452.0L80.6 452.0L80.6 451.9L80.7 451.9L80.8 451.9L80.9 451.8L81.0 451.8L81.0 451.7L81.1 451.7L81.2 451.7L81.3 451.6L81.3 451.6L81.4 451.6L81.5 451.5L81.6 451.5L81.6 451.5L81.7 451.4L81.8 451.4L81.9 451.4L81.9 451.3L82.0 451.3L82.1 451.3L82.2 451.2L82.2 451.2L82.3 451.2L82.4 451.1L82.5 451.1L82.5 451.1L82.6 451.1L82.7 451.0L82.8 451.0L82.8 451.0L82.9 450.9L83.0 450.9L83.1 450.9L83.1 450.8L83.2 450.8L83.3 450.8L83.4 450.7L83.5 450.7L83.5 450.7L83.6 450.6L83.7 450.6L83.8 450.6L83.8 450.5L83.9 450.5L84.0 450.5L84.1 450.5L84.1 450.4L84.2 450.4L84.3 450.4L84.4 450.3L84.4 450.3L84.5 450.3L84.6 450.2L84.7 450.2L84.7 450.2L84.8 450.2L84.9 450.1L85.0 450.1L85.0 450.1L85.1 450.0L85.2 450.0L85.3 450.0L85.3 449.9L85.4 449.9L85.5 449.9L85.6 449.9L85.6 449.8L85.7 449.8L85.8 449.8L85.9 449.7L86.0 449.7L86.0 449.7L86.1 449.7L86.2 449.6L86.3 449.6L86.3 449.6L86.4 449.5L86.5 449.5L86.6 449.5L86.6 449.5L86.7 449.4L86.8 449.4L86.9 449.4L86.9 449.3L87.0 449.3L87.1 449.3L87.2 449.3L87.2 449.2L87.3 449.2L87.4 449.2L87.5 449.1L87.5 449.1L87.6 449.1L87.7 449.1L87.8 449.0L87.8 449.0L87.9 449.0L88.0 449.0L88.1 448.9L88.1 448.9L88.2 448.9L88.3 448.9L88.4 448.8L88.5 448.8L88.5 448.8L88.6 448.7L88.7 448.7L88.8 448.7L88.8 448.7L88.9 448.6L89.0 448.6L89.1 448.6L89.1 448.6L89.2 448.5L89.3 448.5L89.4 448.5L89.4 448.5L89.5 448.4L89.6 448.4L89.7 448.4L89.7 448.4L89.8 448.3L89.9 448.3L90.0 448.3L90.0 448.3L90.1 448.2L90.2 448.2L90.3 448.2L90.3 448.2L90.4 448.1L90.5 448.1L90.6 448.1L90.6 448.0L90.7 448.0L90.8 448.0L90.9 448.0L91.0 447.9L91.0 447.9L91.1 447.9L91.2 447.9L91.3 447.9L91.3 447.8L91.4 447.8L91.5 447.8L91.6 447.8L91.6 447.7L91.7 447.7L91.8 447.7L91.9 447.7L91.9 447.6L92.0 447.6L92.1 447.6L92.2 447.6L92.2 447.5L92.3 447.5L92.4 447.5L92.5 447.5L92.5 447.4L92.6 447.4L92.7 447.4L92.8 447.4L92.8 447.3L92.9 447.3L93.0 447.3L93.1 447.3L93.1 447.3L93.2 447.2L93.3 447.2L93.4 447.2L93.5 447.2L93.5 447.1L93.6 447.1L93.7 447.1L93.8 447.1L93.8 447.0L93.9 447.0L94.0 447.0L94.1 447.0L94.1 446.9L94.2 446.9L94.3 446.9L94.4 446.9L94.4 446.9L94.5 446.8L94.6 446.8L94.7 446.8L94.7 446.8L94.8 446.7L94.9 446.7L95.0 446.7L95.0 446.7L95.1 446.7L95.2 446.6L95.3 446.6L95.3 446.6L95.4 446.6L95.5 446.5L95.6 446.5L95.6 446.5L95.7 446.5L95.8 446.5L95.9 446.4L96.0 446.4L96.0 446.4L96.1 446.4L96.2 446.3L96.3 446.3L96.3 446.3L96.4 446.3L96.5 446.3L96.6 446.2L96.6 446.2L96.7 446.2L96.8 446.2L96.9 446.2L96.9 446.1L97.0 446.1L97.1 446.1L97.2 446.1L97.2 446.0L97.3 446.0L97.4 446.0L97.5 446.0L97.5 446.0L97.6 445.9L97.7 445.9L97.8 445.9L97.8 445.9L97.9 445.9L98.0 445.8L98.1 445.8L98.1 445.8L98.2 445.8L98.3 445.7L98.4 445.7L98.5 445.7L98.5 445.7L98.6 445.7L98.7 445.6L98.8 445.6L98.8 445.6L98.9 445.6L99.0 445.6L99.1 445.5L99.1 445.5L99.2 445.5L99.3 445.5L99.4 445.5L99.4 445.4L99.5 445.4L99.6 445.4L99.7 445.4L99.7 445.4L99.8 445.3L99.9 445.3L100.0 445.3L100.0 445.3L100.1 445.3L100.2 445.2L100.3 445.2L100.3 445.2L100.4 445.2L100.5 445.2L100.6 445.1L100.6 445.1L100.7 445.1L100.8 445.1L100.9 445.1L101.0 445.0L101.0 445.0L101.1 445.0L101.2 445.0L101.3 445.0L101.3 444.9L101.4 444.9L101.5 444.9L101.6 444.9L101.6 444.9L101.7 444.8L101.8 444.8L101.9 444.8L101.9 444.8L102.0 444.8L102.1 444.8L102.2 444.7L102.2 444.7L102.3 444.7L102.4 444.7L102.5 444.7L102.5 444.6L102.6 444.6L102.7 444.6L102.8 444.6L102.8 444.6L102.9 444.5L103.0 444.5L103.1 444.5L103.1 444.5L103.2 444.5L103.3 444.4L103.4 444.4L103.5 444.4L103.5 444.4L103.6 444.4L103.7 444.4L103.8 444.3L103.8 444.3L103.9 444.3L104.0 444.3L104.1 444.3L104.1 444.2L104.2 444.2L104.3 444.2L104.4 444.2L104.4 444.2L104.5 444.1L104.6 444.1L104.7 444.1L104.7 444.1L104.8 444.1L104.9 444.1L105.0 444.0L105.0 444.0L105.1 444.0L105.2 444.0L105.3 444.0L105.3 443.9L105.4 443.9L105.5 443.9L105.6 443.9L105.6 443.9L105.7 443.9L105.8 443.8L105.9 443.8L105.9 443.8L106.7 443.6L107.5 443.5L108.2 443.3L109.0 443.1L109.7 442.9L110.5 442.8L111.3 442.6L112.0 442.4L112.8 442.3L113.5 442.1L114.3 442.0L115.0 441.8L115.8 441.7L116.6 441.5L117.3 441.4L118.1 441.2L118.8 441.1L119.6 440.9L120.3 440.8L121.1 440.6L121.9 440.5L122.6 440.4L123.4 440.2L124.1 440.1L124.9 439.9L125.6 439.8L126.4 439.7L127.2 439.6L127.9 439.4L128.7 439.3L129.4 439.2L130.2 439.0L130.9 438.9L131.7 438.8L132.5 438.7L133.2 438.5L134.0 438.4L134.7 438.3L135.5 438.2L136.2 438.1L137.0 437.9L137.8 437.8L138.5 437.7L139.3 437.6L140.0 437.5L140.8 437.4L141.6 437.3L142.3 437.2L143.1 437.0L143.8 436.9L144.6 436.8L145.3 436.7L146.1 436.6L146.9 436.5L147.6 436.4L148.4 436.3L149.1 436.2L149.9 436.1L150.6 436.0L151.4 435.9L152.2 435.8L152.9 435.7L153.7 435.6L154.4 435.5L155.2 435.4L155.9 435.3L156.7 435.2L157.5 435.1L158.2 435.0L159.0 434.9L159.7 434.8L160.5 434.7L161.2 434.6L162.0 434.5L162.8 434.4L163.5 434.3L164.3 434.3L165.0 434.2L165.8 434.1L166.6 434.0L167.3 433.9L168.1 433.8L168.8 433.7L169.6 433.6L170.3 433.5L171.1 433.5L171.9 433.4L172.6 433.3L173.4 433.2L174.1 433.1L174.9 433.0L175.6 433.0L176.4 432.9L177.2 432.8L177.9 432.7L178.7 432.6L179.4 432.5L180.2 432.5L180.9 432.4L181.7 432.3L182.5 432.2L183.2 432.1L184.0 432.1L184.7 432.0L185.5 431.9L186.2 431.8L187.0 431.7L187.8 431.7L188.5 431.6L189.3 431.5L190.0 431.4L190.8 431.4L191.5 431.3L192.3 431.2L193.1 431.1L193.8 431.1L194.6 431.0L195.3 430.9L196.1 430.8L196.8 430.8L197.6 430.7L198.4 430.6L199.1 430.6L199.9 430.5L200.6 430.4L201.4 430.3L202.2 430.3L202.9 430.2L203.7 430.1L204.4 430.1L205.2 430.0L205.9 429.9L206.7 429.9L207.5 429.8L208.2 429.7L209.0 429.7L209.7 429.6L210.5 429.5L211.2 429.5L212.0 429.4L212.8 429.3L213.5 429.3L214.3 429.2L215.0 429.1L215.8 429.1L216.5 429.0L217.3 428.9L218.1 428.9L218.8 428.8L219.6 428.7L220.3 428.7L221.1 428.6L221.8 428.5L222.6 428.5L223.4 428.4L224.1 428.4L224.9 428.3L225.6 428.2L226.4 428.2L227.1 428.1L227.9 428.0L228.7 428.0L229.4 427.9L230.2 427.9L230.9 427.8L231.7 427.7L232.5 427.7L233.2 427.6L234.0 427.6L234.7 427.5L235.5 427.4L236.2 427.4L237.0 427.3L237.8 427.3L238.5 427.2L239.3 427.1L240.0 427.1L240.8 427.0L241.5 427.0L242.3 426.9L243.1 426.9L243.8 426.8L244.6 426.7L245.3 426.7L246.1 426.6L246.8 426.6L247.6 426.5L248.4 426.5L249.1 426.4L249.9 426.4L250.6 426.3L251.4 426.2L252.1 426.2L252.9 426.1L253.7 426.1L254.4 426.0L255.2 426.0L255.9 425.9L256.7 425.9L257.4 425.8L258.2 425.8L259.0 425.7L259.7 425.6L260.5 425.6L261.2 425.5L262.0 425.5L262.8 425.4L263.5 425.4L264.3 425.3L265.0 425.3L265.8 425.2L266.5 425.2L267.3 425.1L268.1 425.1L268.8 425.0L269.6 425.0L270.3 424.9L271.1 424.9L271.8 424.8L272.6 424.8L273.4 424.7L274.1 424.7L274.9 424.6L275.6 424.6L276.4 424.5L277.1 424.5L277.9 424.4L278.7 424.4L279.4 424.3L280.2 424.3L280.9 424.2L281.7 424.2L282.4 424.1L283.2 424.1L284.0 424.0L284.7 424.0L285.5 423.9L286.2 423.9L287.0 423.8L287.8 423.8L288.5 423.7L289.3 423.7L290.0 423.6L290.8 423.6L291.5 423.5L292.3 423.5L293.1 423.4L293.8 423.4L294.6 423.4L295.3 423.3L296.1 423.3L296.8 423.2L297.6 423.2L298.4 423.1L299.1 423.1L299.9 423.0L300.6 423.0L301.4 422.9L302.1 422.9L302.9 422.8L303.7 422.8L304.4 422.8L305.2 422.7L305.9 422.7L306.7 422.6L307.4 422.6L308.2 422.5L309.0 422.5L309.7 422.4L310.5 422.4L311.2 422.4L312.0 422.3L312.7 422.3L313.5 422.2L314.3 422.2L315.0 422.1L315.8 422.1L316.5 422.1L317.3 422.0L318.1 422.0L318.8 421.9L319.6 421.9L320.3 421.8L321.1 421.8L321.8 421.8L322.6 421.7L323.4 421.7L324.1 421.6L324.9 421.6L325.6 421.5L326.4 421.5L327.1 421.5L327.9 421.4L328.7 421.4L329.4 421.3L330.2 421.3L330.9 421.2L331.7 421.2L332.4 421.2L333.2 421.1L334.0 421.1L334.7 421.0L335.5 421.0L336.2 421.0L337.0 420.9L337.7 420.9L338.5 420.8L339.3 420.8L340.0 420.8L340.8 420.7L341.5 420.7L342.3 420.6L343.0 420.6L343.8 420.6L344.6 420.5L345.3 420.5L346.1 420.4L346.8 420.4L347.6 420.4L348.3 420.3L349.1 420.3L349.9 420.2L350.6 420.2L351.4 420.2L352.1 420.1L352.9 420.1L353.7 420.0L354.4 420.0L355.2 420.0L355.9 419.9L356.7 419.9L357.4 419.9L358.2 419.8L359.0 419.8L359.7 419.7L360.5 419.7L361.2 419.7L362.0 419.6L362.7 419.6L363.5 419.5"/>
<path class="rs" d="M60.5 306L61.4 307.6L62.2 311L63 317L63.8 325.5L64.4 334L64.7 344.2L64.7 346.1L64.8 348.0L64.9 349.8L65.0 351.5L65.0 353.2L65.1 354.8L65.2 356.3L65.3 357.9L65.3 359.3L65.4 360.7L65.5 362.1L65.6 363.4L65.7 364.7L65.7 366.0L65.8 367.2L65.9 368.3L66.0 369.5L66.0 370.6L66.1 371.7L66.2 372.7L66.3 373.7L66.3 374.7L66.4 375.7L66.5 376.6L66.6 377.5L66.6 378.4L66.7 379.3L66.8 380.1L66.9 381.0L66.9 381.8L67.0 382.6L67.1 383.3L67.2 384.1L67.2 384.8L67.3 385.5L67.4 386.2L67.5 386.9L67.5 387.5L67.6 388.2L67.7 388.8L67.8 389.4L67.8 390.0L67.9 390.6L68.0 391.2L68.1 391.8L68.2 392.3L68.2 392.9L68.3 393.4L68.4 393.9L68.5 394.4L68.5 394.9L68.6 395.4L68.7 395.9L68.8 396.4L68.8 396.8L68.9 397.3L69.0 397.7L69.1 398.2L69.1 398.6L69.2 399.0L69.3 399.4L69.4 399.8L69.4 400.2L69.5 400.6L69.6 401.0L69.7 401.4L69.7 401.7L69.8 402.1L69.9 402.4L70.0 402.8L70.0 403.1L70.1 403.5L70.2 403.8L70.3 404.1L70.3 404.4L70.4 404.7L70.5 405.0L70.6 405.4L70.7 405.6L70.7 405.9L70.8 406.2L70.9 406.5L71.0 406.8L71.0 407.1L71.1 407.3L71.2 407.6L71.3 407.9L71.3 408.1L71.4 408.4L71.5 408.6L71.6 408.8L71.6 409.1L71.7 409.3L71.8 409.6L71.9 409.8L71.9 410.0L72.0 410.2L72.1 410.5L72.2 410.7L72.2 410.9L72.3 411.1L72.4 411.3L72.5 411.5L72.5 411.7L72.6 411.9L72.7 412.1L72.8 412.3L72.8 412.5L72.9 412.7L73.0 412.8L73.1 413.0L73.2 413.2L73.2 413.4L73.3 413.5L73.4 413.7L73.5 413.9L73.5 414.0L73.6 414.2L73.7 414.4L73.8 414.5L73.8 414.7L73.9 414.8L74.0 415.0L74.1 415.1L74.1 415.3L74.2 415.4L74.3 415.6L74.4 415.7L74.4 415.9L74.5 416.0L74.6 416.1L74.7 416.3L74.7 416.4L74.8 416.5L74.9 416.7L75.0 416.8L75.0 416.9L75.1 417.1L75.2 417.2L75.3 417.3L75.3 417.4L75.4 417.5L75.5 417.7L75.6 417.8L75.7 417.9L75.7 418.0L75.8 418.1L75.9 418.2L76.0 418.3L76.0 418.4L76.1 418.5L76.2 418.6L76.3 418.7L76.3 418.8L76.4 418.9L76.5 419.0L76.6 419.1L76.6 419.2L76.7 419.3L76.8 419.4L76.9 419.5L76.9 419.6L77.0 419.7L77.1 419.8L77.2 419.9L77.2 420.0L77.3 420.1L77.4 420.1L77.5 420.2L77.5 420.3L77.6 420.4L77.7 420.5L77.8 420.6L77.8 420.6L77.9 420.7L78.0 420.8L78.1 420.9L78.1 421.0L78.2 421.0L78.3 421.1L78.4 421.2L78.5 421.2L78.5 421.3L78.6 421.4L78.7 421.5L78.8 421.5L78.8 421.6L78.9 421.7L79.0 421.7L79.1 421.8L79.1 421.9L79.2 421.9L79.3 422.0L79.4 422.1L79.4 422.1L79.5 422.2L79.6 422.2L79.7 422.3L79.7 422.4L79.8 422.4L79.9 422.5L80.0 422.5L80.0 422.6L80.1 422.7L80.2 422.7L80.3 422.8L80.3 422.8L80.4 422.9L80.5 422.9L80.6 423.0L80.6 423.0L80.7 423.1L80.8 423.1L80.9 423.2L81.0 423.2L81.0 423.3L81.1 423.3L81.2 423.4L81.3 423.4L81.3 423.5L81.4 423.5L81.5 423.6L81.6 423.6L81.6 423.7L81.7 423.7L81.8 423.7L81.9 423.8L81.9 423.8L82.0 423.9L82.1 423.9L82.2 424.0L82.2 424.0L82.3 424.0L82.4 424.1L82.5 424.1L82.5 424.2L82.6 424.2L82.7 424.2L82.8 424.3L82.8 424.3L82.9 424.4L83.0 424.4L83.1 424.4L83.1 424.5L83.2 424.5L83.3 424.5L83.4 424.6L83.5 424.6L83.5 424.6L83.6 424.7L83.7 424.7L83.8 424.7L83.8 424.8L83.9 424.8L84.0 424.8L84.1 424.9L84.1 424.9L84.2 424.9L84.3 425.0L84.4 425.0L84.4 425.0L84.5 425.1L84.6 425.1L84.7 425.1L84.7 425.1L84.8 425.2L84.9 425.2L85.0 425.2L85.0 425.2L85.1 425.3L85.2 425.3L85.3 425.3L85.3 425.4L85.4 425.4L85.5 425.4L85.6 425.4L85.6 425.5L85.7 425.5L85.8 425.5L85.9 425.5L86.0 425.6L86.0 425.6L86.1 425.6L86.2 425.6L86.3 425.6L86.3 425.7L86.4 425.7L86.5 425.7L86.6 425.7L86.6 425.8L86.7 425.8L86.8 425.8L86.9 425.8L86.9 425.8L87.0 425.9L87.1 425.9L87.2 425.9L87.2 425.9L87.3 425.9L87.4 426.0L87.5 426.0L87.5 426.0L87.6 426.0L87.7 426.0L87.8 426.1L87.8 426.1L87.9 426.1L88.0 426.1L88.1 426.1L88.1 426.1L88.2 426.2L88.3 426.2L88.4 426.2L88.5 426.2L88.5 426.2L88.6 426.2L88.7 426.3L88.8 426.3L88.8 426.3L88.9 426.3L89.0 426.3L89.1 426.3L89.1 426.3L89.2 426.4L89.3 426.4L89.4 426.4L89.4 426.4L89.5 426.4L89.6 426.4L89.7 426.4L89.7 426.4L89.8 426.5L89.9 426.5L90.0 426.5L90.0 426.5L90.1 426.5L90.2 426.5L90.3 426.5L90.3 426.5L90.4 426.6L90.5 426.6L90.6 426.6L90.6 426.6L90.7 426.6L90.8 426.6L90.9 426.6L91.0 426.6L91.0 426.6L91.1 426.7L91.2 426.7L91.3 426.7L91.3 426.7L91.4 426.7L91.5 426.7L91.6 426.7L91.6 426.7L91.7 426.7L91.8 426.7L91.9 426.7L91.9 426.8L92.0 426.8L92.1 426.8L92.2 426.8L92.2 426.8L92.3 426.8L92.4 426.8L92.5 426.8L92.5 426.8L92.6 426.8L92.7 426.8L92.8 426.8L92.8 426.9L92.9 426.9L93.0 426.9L93.1 426.9L93.1 426.9L93.2 426.9L93.3 426.9L93.4 426.9L93.5 426.9L93.5 426.9L93.6 426.9L93.7 426.9L93.8 426.9L93.8 426.9L93.9 426.9L94.0 426.9L94.1 427.0L94.1 427.0L94.2 427.0L94.3 427.0L94.4 427.0L94.4 427.0L94.5 427.0L94.6 427.0L94.7 427.0L94.7 427.0L94.8 427.0L94.9 427.0L95.0 427.0L95.0 427.0L95.1 427.0L95.2 427.0L95.3 427.0L95.3 427.0L95.4 427.0L95.5 427.0L95.6 427.0L95.6 427.0L95.7 427.0L95.8 427.0L95.9 427.1L96.0 427.1L96.0 427.1L96.1 427.1L96.2 427.1L96.3 427.1L96.3 427.1L96.4 427.1L96.5 427.1L96.6 427.1L96.6 427.1L96.7 427.1L96.8 427.1L96.9 427.1L96.9 427.1L97.0 427.1L97.1 427.1L97.2 427.1L97.2 427.1L97.3 427.1L97.4 427.1L97.5 427.1L97.5 427.1L97.6 427.1L97.7 427.1L97.8 427.1L97.8 427.1L97.9 427.1L98.0 427.1L98.1 427.1L98.1 427.1L98.2 427.1L98.3 427.1L98.4 427.1L98.5 427.1L98.5 427.1L98.6 427.1L98.7 427.1L98.8 427.1L98.8 427.1L98.9 427.1L99.0 427.1L99.1 427.1L99.1 427.1L99.2 427.1L99.3 427.1L99.4 427.1L99.4 427.1L99.5 427.1L99.6 427.1L99.7 427.1L99.7 427.1L99.8 427.1L99.9 427.1L100.0 427.1L100.0 427.1L100.1 427.1L100.2 427.1L100.3 427.1L100.3 427.1L100.4 427.1L100.5 427.1L100.6 427.1L100.6 427.1L100.7 427.1L100.8 427.1L100.9 427.1L101.0 427.1L101.0 427.1L101.1 427.1L101.2 427.1L101.3 427.1L101.3 427.1L101.4 427.1L101.5 427.1L101.6 427.1L101.6 427.1L101.7 427.1L101.8 427.1L101.9 427.1L101.9 427.1L102.0 427.1L102.1 427.1L102.2 427.1L102.2 427.1L102.3 427.1L102.4 427.1L102.5 427.1L102.5 427.1L102.6 427.1L102.7 427.1L102.8 427.0L102.8 427.0L102.9 427.0L103.0 427.0L103.1 427.0L103.1 427.0L103.2 427.0L103.3 427.0L103.4 427.0L103.5 427.0L103.5 427.0L103.6 427.0L103.7 427.0L103.8 427.0L103.8 427.0L103.9 427.0L104.0 427.0L104.1 427.0L104.1 427.0L104.2 427.0L104.3 427.0L104.4 427.0L104.4 427.0L104.5 427.0L104.6 427.0L104.7 427.0L104.7 427.0L104.8 427.0L104.9 427.0L105.0 427.0L105.0 427.0L105.1 427.0L105.2 426.9L105.3 426.9L105.3 426.9L105.4 426.9L105.5 426.9L105.6 426.9L105.6 426.9L105.7 426.9L105.8 426.9L105.9 426.9L105.9 426.9L106.7 426.9L107.5 426.8L108.2 426.8L109.0 426.7L109.7 426.7L110.5 426.6L111.3 426.6L112.0 426.5L112.8 426.4L113.5 426.4L114.3 426.3L115.0 426.2L115.8 426.2L116.6 426.1L117.3 426.0L118.1 426.0L118.8 425.9L119.6 425.8L120.3 425.8L121.1 425.7L121.9 425.6L122.6 425.5L123.4 425.5L124.1 425.4L124.9 425.3L125.6 425.2L126.4 425.2L127.2 425.1L127.9 425.0L128.7 424.9L129.4 424.8L130.2 424.8L130.9 424.7L131.7 424.6L132.5 424.5L133.2 424.4L134.0 424.4L134.7 424.3L135.5 424.2L136.2 424.1L137.0 424.0L137.8 424.0L138.5 423.9L139.3 423.8L140.0 423.7L140.8 423.6L141.6 423.6L142.3 423.5L143.1 423.4L143.8 423.3L144.6 423.2L145.3 423.2L146.1 423.1L146.9 423.0L147.6 422.9L148.4 422.8L149.1 422.8L149.9 422.7L150.6 422.6L151.4 422.5L152.2 422.4L152.9 422.4L153.7 422.3L154.4 422.2L155.2 422.1L155.9 422.1L156.7 422.0L157.5 421.9L158.2 421.8L159.0 421.7L159.7 421.7L160.5 421.6L161.2 421.5L162.0 421.4L162.8 421.4L163.5 421.3L164.3 421.2L165.0 421.1L165.8 421.1L166.6 421.0L167.3 420.9L168.1 420.8L168.8 420.8L169.6 420.7L170.3 420.6L171.1 420.5L171.9 420.5L172.6 420.4L173.4 420.3L174.1 420.3L174.9 420.2L175.6 420.1L176.4 420.0L177.2 420.0L177.9 419.9L178.7 419.8L179.4 419.8L180.2 419.7L180.9 419.6L181.7 419.5L182.5 419.5L183.2 419.4L184.0 419.3L184.7 419.3L185.5 419.2L186.2 419.1L187.0 419.1L187.8 419.0L188.5 418.9L189.3 418.9L190.0 418.8L190.8 418.7L191.5 418.7L192.3 418.6L193.1 418.5L193.8 418.5L194.6 418.4L195.3 418.3L196.1 418.3L196.8 418.2L197.6 418.1L198.4 418.1L199.1 418.0L199.9 417.9L200.6 417.9L201.4 417.8L202.2 417.7L202.9 417.7L203.7 417.6L204.4 417.5L205.2 417.5L205.9 417.4L206.7 417.4L207.5 417.3L208.2 417.2L209.0 417.2L209.7 417.1L210.5 417.0L211.2 417.0L212.0 416.9L212.8 416.9L213.5 416.8L214.3 416.7L215.0 416.7L215.8 416.6L216.5 416.6L217.3 416.5L218.1 416.4L218.8 416.4L219.6 416.3L220.3 416.3L221.1 416.2L221.8 416.1L222.6 416.1L223.4 416.0L224.1 416.0L224.9 415.9L225.6 415.8L226.4 415.8L227.1 415.7L227.9 415.7L228.7 415.6L229.4 415.6L230.2 415.5L230.9 415.4L231.7 415.4L232.5 415.3L233.2 415.3L234.0 415.2L234.7 415.2L235.5 415.1L236.2 415.0L237.0 415.0L237.8 414.9L238.5 414.9L239.3 414.8L240.0 414.8L240.8 414.7L241.5 414.7L242.3 414.6L243.1 414.6L243.8 414.5L244.6 414.4L245.3 414.4L246.1 414.3L246.8 414.3L247.6 414.2L248.4 414.2L249.1 414.1L249.9 414.1L250.6 414.0L251.4 414.0L252.1 413.9L252.9 413.9L253.7 413.8L254.4 413.8L255.2 413.7L255.9 413.7L256.7 413.6L257.4 413.5L258.2 413.5L259.0 413.4L259.7 413.4L260.5 413.3L261.2 413.3L262.0 413.2L262.8 413.2L263.5 413.1L264.3 413.1L265.0 413.0L265.8 413.0L266.5 412.9L267.3 412.9L268.1 412.8L268.8 412.8L269.6 412.7L270.3 412.7L271.1 412.6L271.8 412.6L272.6 412.5L273.4 412.5L274.1 412.4L274.9 412.4L275.6 412.4L276.4 412.3L277.1 412.3L277.9 412.2L278.7 412.2L279.4 412.1L280.2 412.1L280.9 412.0L281.7 412.0L282.4 411.9L283.2 411.9L284.0 411.8L284.7 411.8L285.5 411.7L286.2 411.7L287.0 411.6L287.8 411.6L288.5 411.5L289.3 411.5L290.0 411.5L290.8 411.4L291.5 411.4L292.3 411.3L293.1 411.3L293.8 411.2L294.6 411.2L295.3 411.1L296.1 411.1L296.8 411.0L297.6 411.0L298.4 411.0L299.1 410.9L299.9 410.9L300.6 410.8L301.4 410.8L302.1 410.7L302.9 410.7L303.7 410.6L304.4 410.6L305.2 410.6L305.9 410.5L306.7 410.5L307.4 410.4L308.2 410.4L309.0 410.3L309.7 410.3L310.5 410.3L311.2 410.2L312.0 410.2L312.7 410.1L313.5 410.1L314.3 410.0L315.0 410.0L315.8 409.9L316.5 409.9L317.3 409.9L318.1 409.8L318.8 409.8L319.6 409.7L320.3 409.7L321.1 409.7L321.8 409.6L322.6 409.6L323.4 409.5L324.1 409.5L324.9 409.4L325.6 409.4L326.4 409.4L327.1 409.3L327.9 409.3L328.7 409.2L329.4 409.2L330.2 409.2L330.9 409.1L331.7 409.1L332.4 409.0L333.2 409.0L334.0 409.0L334.7 408.9L335.5 408.9L336.2 408.8L337.0 408.8L337.7 408.8L338.5 408.7L339.3 408.7L340.0 408.6L340.8 408.6L341.5 408.6L342.3 408.5L343.0 408.5L343.8 408.4L344.6 408.4L345.3 408.4L346.1 408.3L346.8 408.3L347.6 408.2L348.3 408.2L349.1 408.2L349.9 408.1L350.6 408.1L351.4 408.0L352.1 408.0L352.9 408.0L353.7 407.9L354.4 407.9L355.2 407.9L355.9 407.8L356.7 407.8L357.4 407.7L358.2 407.7L359.0 407.7L359.7 407.6L360.5 407.6L361.2 407.6L362.0 407.5L362.7 407.5L363.5 407.4"/>
<path class="rs" d="M61.6 893.8L61.7 867.9L61.8 845.0L61.9 824.6L61.9 806.3L62.0 789.8L62.1 774.8L62.2 761.2L62.2 748.7L62.3 737.2L62.4 726.7L62.5 716.9L62.5 707.8L62.6 699.4L62.7 691.5L62.8 684.1L62.8 677.2L62.9 670.7L63.0 664.6L63.1 658.9L63.2 653.4L63.2 648.3L63.3 643.4L63.4 638.8L63.5 634.4L63.5 630.2L63.6 626.2L63.7 622.4L63.8 618.7L63.8 615.3L63.9 611.9L64.0 608.8L64.1 605.7L64.1 602.8L64.2 599.9L64.3 597.2L64.4 594.6L64.4 592.1L64.5 589.7L64.6 587.3L64.7 585.1L64.7 582.9L64.8 580.8L64.9 578.8L65.0 576.8L65.0 574.9L65.1 573.0L65.2 571.2L65.3 569.5L65.3 567.8L65.4 566.2L65.5 564.6L65.6 563.0L65.7 561.5L65.7 560.1L65.8 558.7L65.9 557.3L66.0 555.9L66.0 554.6L66.1 553.4L66.2 552.1L66.3 550.9L66.3 549.7L66.4 548.6L66.5 547.4L66.6 546.3L66.6 545.2L66.7 544.2L66.8 543.2L66.9 542.2L66.9 541.2L67.0 540.2L67.1 539.3L67.2 538.4L67.2 537.5L67.3 536.6L67.4 535.7L67.5 534.9L67.5 534.0L67.6 533.2L67.7 532.4L67.8 531.7L67.8 530.9L67.9 530.1L68.0 529.4L68.1 528.7L68.2 528.0L68.2 527.3L68.3 526.6L68.4 525.9L68.5 525.3L68.5 524.6L68.6 524.0L68.7 523.4L68.8 522.7L68.8 522.1L68.9 521.5L69.0 521.0L69.1 520.4L69.1 519.8L69.2 519.3L69.3 518.7L69.4 518.2L69.4 517.6L69.5 517.1L69.6 516.6L69.7 516.1L69.7 515.6L69.8 515.1L69.9 514.6L70.0 514.1L70.0 513.7L70.1 513.2L70.2 512.8L70.3 512.3L70.3 511.9L70.4 511.4L70.5 511.0L70.6 510.6L70.7 510.2L70.7 509.7L70.8 509.3L70.9 508.9L71.0 508.5L71.0 508.1L71.1 507.8L71.2 507.4L71.3 507.0L71.3 506.6L71.4 506.3L71.5 505.9L71.6 505.5L71.6 505.2L71.7 504.8L71.8 504.5L71.9 504.1L71.9 503.8L72.0 503.5L72.1 503.1L72.2 502.8L72.2 502.5L72.3 502.2L72.4 501.9L72.5 501.6L72.5 501.3L72.6 501.0L72.7 500.7L72.8 500.4L72.8 500.1L72.9 499.8L73.0 499.5L73.1 499.2L73.2 498.9L73.2 498.6L73.3 498.4L73.4 498.1L73.5 497.8L73.5 497.6L73.6 497.3L73.7 497.0L73.8 496.8L73.8 496.5L73.9 496.3L74.0 496.0L74.1 495.8L74.1 495.5L74.2 495.3L74.3 495.1L74.4 494.8L74.4 494.6L74.5 494.4L74.6 494.1L74.7 493.9L74.7 493.7L74.8 493.4L74.9 493.2L75.0 493.0L75.0 492.8L75.1 492.6L75.2 492.4L75.3 492.1L75.3 491.9L75.4 491.7L75.5 491.5L75.6 491.3L75.7 491.1L75.7 490.9L75.8 490.7L75.9 490.5L76.0 490.3L76.0 490.1L76.1 489.9L76.2 489.7L76.3 489.6L76.3 489.4L76.4 489.2L76.5 489.0L76.6 488.8L76.6 488.6L76.7 488.5L76.8 488.3L76.9 488.1L76.9 487.9L77.0 487.8L77.1 487.6L77.2 487.4L77.2 487.2L77.3 487.1L77.4 486.9L77.5 486.7L77.5 486.6L77.6 486.4L77.7 486.3L77.8 486.1L77.8 485.9L77.9 485.8L78.0 485.6L78.1 485.5L78.1 485.3L78.2 485.2L78.3 485.0L78.4 484.9L78.5 484.7L78.5 484.6L78.6 484.4L78.7 484.3L78.8 484.1L78.8 484.0L78.9 483.8L79.0 483.7L79.1 483.6L79.1 483.4L79.2 483.3L79.3 483.1L79.4 483.0L79.4 482.9L79.5 482.7L79.6 482.6L79.7 482.5L79.7 482.3L79.8 482.2L79.9 482.1L80.0 481.9L80.0 481.8L80.1 481.7L80.2 481.6L80.3 481.4L80.3 481.3L80.4 481.2L80.5 481.1L80.6 480.9L80.6 480.8L80.7 480.7L80.8 480.6L80.9 480.5L81.0 480.3L81.0 480.2L81.1 480.1L81.2 480.0L81.3 479.9L81.3 479.7L81.4 479.6L81.5 479.5L81.6 479.4L81.6 479.3L81.7 479.2L81.8 479.1L81.9 479.0L81.9 478.9L82.0 478.7L82.1 478.6L82.2 478.5L82.2 478.4L82.3 478.3L82.4 478.2L82.5 478.1L82.5 478.0L82.6 477.9L82.7 477.8L82.8 477.7L82.8 477.6L82.9 477.5L83.0 477.4L83.1 477.3L83.1 477.2L83.2 477.1L83.3 477.0L83.4 476.9L83.5 476.8L83.5 476.7L83.6 476.6L83.7 476.5L83.8 476.4L83.8 476.3L83.9 476.2L84.0 476.1L84.1 476.0L84.1 475.9L84.2 475.9L84.3 475.8L84.4 475.7L84.4 475.6L84.5 475.5L84.6 475.4L84.7 475.3L84.7 475.2L84.8 475.1L84.9 475.0L85.0 475.0L85.0 474.9L85.1 474.8L85.2 474.7L85.3 474.6L85.3 474.5L85.4 474.4L85.5 474.4L85.6 474.3L85.6 474.2L85.7 474.1L85.8 474.0L85.9 474.0L86.0 473.9L86.0 473.8L86.1 473.7L86.2 473.6L86.3 473.5L86.3 473.5L86.4 473.4L86.5 473.3L86.6 473.2L86.6 473.2L86.7 473.1L86.8 473.0L86.9 472.9L86.9 472.8L87.0 472.8L87.1 472.7L87.2 472.6L87.2 472.5L87.3 472.5L87.4 472.4L87.5 472.3L87.5 472.2L87.6 472.2L87.7 472.1L87.8 472.0L87.8 472.0L87.9 471.9L88.0 471.8L88.1 471.7L88.1 471.7L88.2 471.6L88.3 471.5L88.4 471.5L88.5 471.4L88.5 471.3L88.6 471.3L88.7 471.2L88.8 471.1L88.8 471.1L88.9 471.0L89.0 470.9L89.1 470.8L89.1 470.8L89.2 470.7L89.3 470.6L89.4 470.6L89.4 470.5L89.5 470.5L89.6 470.4L89.7 470.3L89.7 470.3L89.8 470.2L89.9 470.1L90.0 470.1L90.0 470.0L90.1 469.9L90.2 469.9L90.3 469.8L90.3 469.8L90.4 469.7L90.5 469.6L90.6 469.6L90.6 469.5L90.7 469.4L90.8 469.4L90.9 469.3L91.0 469.3L91.0 469.2L91.1 469.1L91.2 469.1L91.3 469.0L91.3 469.0L91.4 468.9L91.5 468.9L91.6 468.8L91.6 468.7L91.7 468.7L91.8 468.6L91.9 468.6L91.9 468.5L92.0 468.4L92.1 468.4L92.2 468.3L92.2 468.3L92.3 468.2L92.4 468.2L92.5 468.1L92.5 468.1L92.6 468.0L92.7 467.9L92.8 467.9L92.8 467.8L92.9 467.8L93.0 467.7L93.1 467.7L93.1 467.6L93.2 467.6L93.3 467.5L93.4 467.5L93.5 467.4L93.5 467.4L93.6 467.3L93.7 467.3L93.8 467.2L93.8 467.1L93.9 467.1L94.0 467.0L94.1 467.0L94.1 466.9L94.2 466.9L94.3 466.8L94.4 466.8L94.4 466.7L94.5 466.7L94.6 466.6L94.7 466.6L94.7 466.5L94.8 466.5L94.9 466.4L95.0 466.4L95.0 466.3L95.1 466.3L95.2 466.2L95.3 466.2L95.3 466.1L95.4 466.1L95.5 466.1L95.6 466.0L95.6 466.0L95.7 465.9L95.8 465.9L95.9 465.8L96.0 465.8L96.0 465.7L96.1 465.7L96.2 465.6L96.3 465.6L96.3 465.5L96.4 465.5L96.5 465.4L96.6 465.4L96.6 465.4L96.7 465.3L96.8 465.3L96.9 465.2L96.9 465.2L97.0 465.1L97.1 465.1L97.2 465.0L97.2 465.0L97.3 465.0L97.4 464.9L97.5 464.9L97.5 464.8L97.6 464.8L97.7 464.7L97.8 464.7L97.8 464.6L97.9 464.6L98.0 464.6L98.1 464.5L98.1 464.5L98.2 464.4L98.3 464.4L98.4 464.3L98.5 464.3L98.5 464.3L98.6 464.2L98.7 464.2L98.8 464.1L98.8 464.1L98.9 464.1L99.0 464.0L99.1 464.0L99.1 463.9L99.2 463.9L99.3 463.9L99.4 463.8L99.4 463.8L99.5 463.7L99.6 463.7L99.7 463.7L99.7 463.6L99.8 463.6L99.9 463.5L100.0 463.5L100.0 463.5L100.1 463.4L100.2 463.4L100.3 463.3L100.3 463.3L100.4 463.3L100.5 463.2L100.6 463.2L100.6 463.1L100.7 463.1L100.8 463.1L100.9 463.0L101.0 463.0L101.0 463.0L101.1 462.9L101.2 462.9L101.3 462.8L101.3 462.8L101.4 462.8L101.5 462.7L101.6 462.7L101.6 462.7L101.7 462.6L101.8 462.6L101.9 462.5L101.9 462.5L102.0 462.5L102.1 462.4L102.2 462.4L102.2 462.4L102.3 462.3L102.4 462.3L102.5 462.3L102.5 462.2L102.6 462.2L102.7 462.1L102.8 462.1L102.8 462.1L102.9 462.0L103.0 462.0L103.1 462.0L103.1 461.9L103.2 461.9L103.3 461.9L103.4 461.8L103.5 461.8L103.5 461.8L103.6 461.7L103.7 461.7L103.8 461.7L103.8 461.6L103.9 461.6L104.0 461.6L104.1 461.5L104.1 461.5L104.2 461.5L104.3 461.4L104.4 461.4L104.4 461.4L104.5 461.3L104.6 461.3L104.7 461.3L104.7 461.2L104.8 461.2L104.9 461.2L105.0 461.1L105.0 461.1L105.1 461.1L105.2 461.0L105.3 461.0L105.3 461.0L105.4 460.9L105.5 460.9L105.6 460.9L105.6 460.8L105.7 460.8L105.8 460.8L105.9 460.7L105.9 460.7L106.7 460.4L107.5 460.1L108.2 459.8L109.0 459.5L109.7 459.2L110.5 458.9L111.3 458.7L112.0 458.4L112.8 458.1L113.5 457.9L114.3 457.6L115.0 457.4L115.8 457.1L116.6 456.9L117.3 456.7L118.1 456.5L118.8 456.2L119.6 456.0L120.3 455.8L121.1 455.6L121.9 455.4L122.6 455.2L123.4 455.0L124.1 454.8L124.9 454.6L125.6 454.4L126.4 454.2L127.2 454.0L127.9 453.8L128.7 453.7L129.4 453.5L130.2 453.3L130.9 453.1L131.7 453.0L132.5 452.8L133.2 452.6L134.0 452.5L134.7 452.3L135.5 452.2L136.2 452.0L137.0 451.9L137.8 451.7L138.5 451.6L139.3 451.4L140.0 451.3L140.8 451.1L141.6 451.0L142.3 450.8L143.1 450.7L143.8 450.6L144.6 450.4L145.3 450.3L146.1 450.1L146.9 450.0L147.6 449.9L148.4 449.8L149.1 449.6L149.9 449.5L150.6 449.4L151.4 449.2L152.2 449.1L152.9 449.0L153.7 448.9L154.4 448.8L155.2 448.6L155.9 448.5L156.7 448.4L157.5 448.3L158.2 448.2L159.0 448.1L159.7 448.0L160.5 447.8L161.2 447.7L162.0 447.6L162.8 447.5L163.5 447.4L164.3 447.3L165.0 447.2L165.8 447.1L166.6 447.0L167.3 446.9L168.1 446.8L168.8 446.7L169.6 446.6L170.3 446.5L171.1 446.4L171.9 446.3L172.6 446.2L173.4 446.1L174.1 446.0L174.9 445.9L175.6 445.8L176.4 445.7L177.2 445.6L177.9 445.5L178.7 445.4L179.4 445.3L180.2 445.2L180.9 445.1L181.7 445.0L182.5 445.0L183.2 444.9L184.0 444.8L184.7 444.7L185.5 444.6L186.2 444.5L187.0 444.4L187.8 444.3L188.5 444.3L189.3 444.2L190.0 444.1L190.8 444.0L191.5 443.9L192.3 443.8L193.1 443.8L193.8 443.7L194.6 443.6L195.3 443.5L196.1 443.4L196.8 443.4L197.6 443.3L198.4 443.2L199.1 443.1L199.9 443.0L200.6 443.0L201.4 442.9L202.2 442.8L202.9 442.7L203.7 442.7L204.4 442.6L205.2 442.5L205.9 442.4L206.7 442.4L207.5 442.3L208.2 442.2L209.0 442.1L209.7 442.1L210.5 442.0L211.2 441.9L212.0 441.8L212.8 441.8L213.5 441.7L214.3 441.6L215.0 441.6L215.8 441.5L216.5 441.4L217.3 441.4L218.1 441.3L218.8 441.2L219.6 441.1L220.3 441.1L221.1 441.0L221.8 440.9L222.6 440.9L223.4 440.8L224.1 440.7L224.9 440.7L225.6 440.6L226.4 440.5L227.1 440.5L227.9 440.4L228.7 440.3L229.4 440.3L230.2 440.2L230.9 440.2L231.7 440.1L232.5 440.0L233.2 440.0L234.0 439.9L234.7 439.8L235.5 439.8L236.2 439.7L237.0 439.6L237.8 439.6L238.5 439.5L239.3 439.5L240.0 439.4L240.8 439.3L241.5 439.3L242.3 439.2L243.1 439.2L243.8 439.1L244.6 439.0L245.3 439.0L246.1 438.9L246.8 438.9L247.6 438.8L248.4 438.7L249.1 438.7L249.9 438.6L250.6 438.6L251.4 438.5L252.1 438.5L252.9 438.4L253.7 438.3L254.4 438.3L255.2 438.2L255.9 438.2L256.7 438.1L257.4 438.1L258.2 438.0L259.0 437.9L259.7 437.9L260.5 437.8L261.2 437.8L262.0 437.7L262.8 437.7L263.5 437.6L264.3 437.6L265.0 437.5L265.8 437.5L266.5 437.4L267.3 437.3L268.1 437.3L268.8 437.2L269.6 437.2L270.3 437.1L271.1 437.1L271.8 437.0L272.6 437.0L273.4 436.9L274.1 436.9L274.9 436.8L275.6 436.8L276.4 436.7L277.1 436.7L277.9 436.6L278.7 436.6L279.4 436.5L280.2 436.5L280.9 436.4L281.7 436.4L282.4 436.3L283.2 436.3L284.0 436.2L284.7 436.2L285.5 436.1L286.2 436.1L287.0 436.0L287.8 436.0L288.5 435.9L289.3 435.9L290.0 435.8L290.8 435.8L291.5 435.7L292.3 435.7L293.1 435.6L293.8 435.6L294.6 435.5L295.3 435.5L296.1 435.4L296.8 435.4L297.6 435.3L298.4 435.3L299.1 435.2L299.9 435.2L300.6 435.2L301.4 435.1L302.1 435.1L302.9 435.0L303.7 435.0L304.4 434.9L305.2 434.9L305.9 434.8L306.7 434.8L307.4 434.7L308.2 434.7L309.0 434.6L309.7 434.6L310.5 434.6L311.2 434.5L312.0 434.5L312.7 434.4L313.5 434.4L314.3 434.3L315.0 434.3L315.8 434.2L316.5 434.2L317.3 434.2L318.1 434.1L318.8 434.1L319.6 434.0L320.3 434.0L321.1 433.9L321.8 433.9L322.6 433.8L323.4 433.8L324.1 433.8L324.9 433.7L325.6 433.7L326.4 433.6L327.1 433.6L327.9 433.5L328.7 433.5L329.4 433.5L330.2 433.4L330.9 433.4L331.7 433.3L332.4 433.3L333.2 433.3L334.0 433.2L334.7 433.2L335.5 433.1L336.2 433.1L337.0 433.0L337.7 433.0L338.5 433.0L339.3 432.9L340.0 432.9L340.8 432.8L341.5 432.8L342.3 432.8L343.0 432.7L343.8 432.7L344.6 432.6L345.3 432.6L346.1 432.6L346.8 432.5L347.6 432.5L348.3 432.4L349.1 432.4L349.9 432.4L350.6 432.3L351.4 432.3L352.1 432.2L352.9 432.2L353.7 432.2L354.4 432.1L355.2 432.1L355.9 432.0L356.7 432.0L357.4 432.0L358.2 431.9L359.0 431.9L359.7 431.8L360.5 431.8L361.2 431.8L362.0 431.7L362.7 431.7L363.5 431.7"/>
<path d="M195.0 303.9h0M78.6 310.9h0M188.0 301.8h0M184.8 310.0h0M140.7 271.7h0M118.6 342.7h0M115.3 293.9h0M112.1 306.7h0M137.6 295.7h0M145.6 293.7h0M211.4 294.0h0M184.2 312.0h0M161.3 287.8h0M210.5 293.0h0M106.8 288.4h0M99.4 300.5h0M83.8 300.8h0M82.7 317.3h0M147.0 296.8h0M140.4 291.7h0M200.9 302.9h0M162.3 293.6h0M144.5 305.1h0M79.5 279.6h0M170.7 301.2h0M78.4 268.3h0M189.2 285.6h0M98.6 296.6h0M146.3 305.2h0M90.2 310.6h0M126.4 306.3h0M85.9 274.4h0M121.2 297.1h0M98.1 283.9h0M128.8 301.8h0M157.0 308.6h0M163.5 297.0h0M98.1 315.2h0M131.9 293.3h0M90.9 347.2h0M207.7 297.3h0M118.2 302.7h0M195.1 291.6h0M166.7 305.0h0M95.6 330.2h0M191.2 299.8h0M204.6 292.5h0M154.3 307.9h0M103.7 320.1h0M202.3 308.8h0M152.0 317.3h0M154.3 299.7h0M133.0 298.9h0M83.0 263.8h0M121.1 304.9h0M81.3 307.5h0M127.8 310.0h0M82.0 333.2h0M94.4 279.3h0M207.6 307.8h0M166.1 321.2h0M135.3 288.3h0M148.1 318.8h0M194.9 298.8h0M125.6 289.5h0M98.2 298.2h0M203.1 295.1h0M78.6 268.0h0M178.9 297.5h0M96.3 324.9h0M187.2 296.7h0M79.8 324.9h0M162.2 328.0h0M146.7 303.3h0M108.3 286.9h0M126.6 299.2h0M102.0 304.0h0M124.3 332.4h0M205.0 297.0h0M154.8 301.9h0M123.5 296.7h0M114.3 278.5h0M137.5 304.3h0M209.4 290.8h0M147.8 314.1h0M177.5 302.6h0M155.8 323.5h0M135.1 314.5h0M195.7 296.9h0M133.1 295.9h0M201.6 291.8h0M87.1 346.4h0M135.6 300.0h0M205.4 312.3h0M111.6 297.9h0M174.1 297.5h0M122.5 290.6h0M131.3 283.8h0M105.1 293.6h0M106.5 324.0h0M190.6 294.4h0M93.0 292.0h0M157.7 299.1h0M119.0 280.6h0M206.8 296.9h0M140.4 304.0h0M162.1 296.3h0M102.6 327.0h0M86.2 274.7h0M133.1 330.6h0M180.4 286.9h0M187.2 294.3h0M93.1 292.2h0M200.4 318.1h0M200.7 307.0h0M84.2 318.7h0M82.0 290.4h0M80.6 257.4h0M111.8 294.2h0M103.1 262.1h0M83.1 279.2h0M100.2 309.4h0M80.7 375.6h0M150.1 294.9h0M103.6 320.6h0M83.2 261.2h0M206.6 288.9h0M84.7 259.7h0M93.0 317.9h0M161.9 287.6h0M193.6 288.0h0M184.8 304.9h0M154.8 292.6h0M90.8 261.1h0M121.8 299.1h0M197.6 286.1h0M99.6 311.1h0M81.5 310.4h0M106.7 286.6h0M204.6 299.7h0M111.8 298.3h0M91.5 297.7h0M129.0 311.5h0M95.9 270.6h0M166.7 300.9h0M127.8 303.9h0M106.8 306.9h0M139.3 299.6h0M178.8 306.5h0M155.6 292.7h0M88.3 308.1h0M95.8 284.4h0M95.4 336.3h0M88.8 324.4h0M114.0 312.5h0M119.0 297.3h0M161.0 311.0h0M103.0 286.1h0M128.3 303.9h0M175.4 292.7h0M188.6 301.9h0M147.5 292.9h0M103.5 316.9h0M113.6 315.1h0M149.8 295.0h0M94.8 312.0h0M102.6 311.7h0M211.6 295.0h0M203.8 304.3h0M182.1 312.3h0M163.9 299.8h0M179.5 301.9h0M174.6 292.2h0M128.6 272.1h0M134.2 318.1h0M150.6 289.0h0M129.9 288.6h0M151.4 288.9h0M174.7 287.1h0M211.1 295.9h0M97.8 302.0h0M94.5 298.7h0M90.2 215.9h0M210.4 293.6h0M93.6 333.7h0M101.6 294.2h0M178.5 305.4h0M103.5 289.7h0M200.5 286.4h0M107.0 281.2h0M82.3 318.8h0M174.4 303.8h0M85.5 308.7h0M211.4 305.4h0M200.8 306.5h0M111.0 304.3h0M130.8 326.9h0M108.4 295.1h0M82.4 290.9h0M145.4 308.7h0M94.4 296.3h0M101.6 326.6h0M193.3 298.4h0M113.6 302.0h0M147.1 317.9h0M162.2 301.8h0M149.8 308.5h0M131.0 307.0h0M195.0 301.4h0M102.0 260.2h0M96.2 276.6h0M93.1 307.4h0M209.3 305.9h0M204.2 288.6h0M108.8 321.2h0M208.0 302.4h0M105.8 303.8h0M83.4 306.2h0M120.2 284.1h0M158.4 296.9h0M86.8 272.3h0M109.6 280.9h0M140.3 320.5h0M169.3 301.2h0M176.6 300.9h0M118.4 296.7h0M100.2 293.6h0M201.2 295.0h0M157.9 302.2h0M203.5 309.2h0M90.2 318.9h0M155.1 323.8h0M185.7 301.6h0M115.7 314.6h0M185.4 293.5h0M164.2 322.4h0M205.4 296.5h0M136.0 304.1h0M122.8 319.6h0M167.7 304.2h0M105.9 293.0h0M151.9 296.8h0M175.5 312.8h0M80.0 329.6h0M206.4 302.1h0M140.8 299.2h0M132.8 312.1h0M148.1 298.0h0M89.3 270.4h0M83.2 412.0h0M138.6 290.6h0M162.5 294.9h0M104.1 296.0h0M195.7 301.9h0M186.1 290.5h0M140.4 275.5h0M187.7 285.1h0M168.8 309.9h0M132.4 295.3h0M152.8 308.3h0M140.5 283.3h0M145.5 285.9h0M123.2 274.5h0M188.8 293.9h0M129.0 301.1h0M191.2 306.6h0M137.9 311.1h0M82.5 297.5h0M130.2 295.0h0M193.3 301.9h0M152.7 298.0h0M156.2 297.8h0M134.3 313.2h0M102.5 320.5h0M117.2 298.9h0M135.7 295.2h0M211.9 308.6h0M125.2 282.8h0M127.7 284.3h0M205.0 301.6h0M128.5 277.4h0M113.7 318.5h0M196.5 286.4h0M144.1 306.6h0M169.8 305.7h0M119.9 277.7h0M104.5 309.8h0M134.3 301.2h0M139.3 297.0h0M120.4 307.6h0M85.5 296.0h0M137.6 304.4h0M86.3 293.3h0M164.2 289.9h0M128.4 302.9h0M112.5 324.6h0M162.5 297.7h0M105.2 303.4h0M206.9 295.4h0M116.7 274.9h0M119.0 303.7h0M112.3 281.4h0M87.0 285.9h0M121.0 298.7h0M143.4 300.1h0M201.7 293.3h0M161.2 316.4h0M124.0 325.5h0M96.9 288.0h0M96.1 317.4h0M96.4 327.0h0M115.9 284.5h0M206.9 293.7h0M81.4 307.4h0M102.6 306.7h0M100.1 291.1h0M79.9 228.4h0M99.8 304.9h0M184.2 293.1h0M102.6 272.4h0M160.7 299.9h0M132.4 287.9h0M133.9 286.3h0M99.5 318.8h0M201.8 297.3h0M167.5 308.5h0M84.6 311.5h0M106.6 294.3h0M205.7 307.4h0M93.3 289.3h0M82.3 304.9h0M189.3 289.9h0M200.6 320.2h0M210.6 296.6h0M160.0 298.9h0M168.9 299.8h0M205.6 303.7h0M122.9 303.0h0M192.1 307.1h0M88.3 323.7h0M95.7 320.9h0M202.3 307.7h0M198.4 304.7h0M169.2 306.3h0M192.4 299.1h0M78.4 324.1h0M97.0 330.9h0M106.4 270.3h0M113.8 317.4h0M203.9 306.4h0M113.9 305.3h0M172.1 299.7h0M187.2 299.0h0M93.7 295.7h0M82.6 304.5h0M89.2 274.5h0M159.5 305.0h0M119.9 300.7h0M138.9 325.1h0M117.2 320.8h0M163.2 302.0h0M171.6 285.2h0M81.5 429.0h0M207.0 288.7h0M105.4 315.2h0M175.9 307.0h0M115.3 312.1h0M193.2 296.9h0M116.5 301.7h0M88.2 349.7h0M107.4 323.8h0M114.3 307.7h0M101.1 243.6h0M86.4 257.7h0M140.4 299.0h0M106.7 296.2h0M201.6 309.4h0M154.6 299.3h0M88.0 294.2h0M94.7 281.3h0M141.5 309.2h0M185.8 304.8h0M86.8 324.7h0M194.2 306.6h0M78.7 362.7h0M147.9 308.1h0M113.4 283.7h0M138.7 300.5h0M207.8 289.8h0M83.5 320.4h0M130.5 315.6h0M88.9 335.9h0M154.1 290.8h0M205.8 293.1h0M164.7 318.2h0M121.3 306.4h0M154.5 286.9h0M156.9 306.8h0M185.6 311.2h0M100.2 292.2h0M160.9 302.2h0M96.0 304.8h0M151.0 303.9h0M132.0 299.7h0M114.1 321.9h0M127.8 300.4h0M170.0 311.7h0M92.3 329.8h0M201.8 296.1h0M91.5 321.9h0M111.4 337.8h0M101.2 334.3h0M191.8 298.9h0M200.0 295.4h0M83.9 314.0h0M103.7 324.7h0M201.5 300.3h0M87.3 278.3h0M100.9 332.1h0M177.9 300.1h0M136.6 326.7h0M96.8 305.2h0M125.3 303.1h0M209.6 298.6h0M93.5 289.8h0M119.6 314.8h0M79.6 368.7h0M194.7 300.3h0M99.7 294.3h0M166.6 291.1h0M100.1 322.8h0M116.1 303.0h0M84.9 326.1h0M107.0 297.2h0M95.4 312.2h0M140.2 330.9h0M132.2 308.1h0M132.4 304.9h0M201.0 309.6h0M176.6 308.2h0M111.9 319.2h0M96.6 304.3h0M136.6 299.6h0M203.4 299.8h0M97.5 294.8h0M141.7 309.0h0M95.6 289.7h0M208.3 299.8h0M91.7 291.9h0M90.3 287.6h0M203.7 301.7h0M82.4 263.7h0M201.0 293.8h0M86.9 312.3h0M139.4 296.0h0M176.8 287.6h0M211.6 309.1h0M210.9 289.1h0M204.3 303.4h0M204.7 309.3h0M127.9 290.8h0M204.0 295.0h0M132.3 301.2h0M129.7 290.6h0M136.0 293.8h0M96.7 309.7h0M86.1 296.7h0M168.0 311.3h0M102.9 314.9h0M92.2 269.9h0M117.7 292.6h0M163.2 293.7h0M155.4 304.0h0M111.9 341.4h0M98.6 279.2h0M88.7 324.1h0M207.9 291.1h0M210.9 299.0h0M159.1 306.0h0M210.7 295.2h0M205.3 293.3h0M83.6 250.3h0M123.0 316.1h0M121.9 280.9h0M78.5 329.9h0M82.6 327.5h0M151.7 320.5h0M88.1 378.1h0M105.1 277.8h0M122.6 316.4h0M87.4 385.8h0M82.1 309.4h0M202.2 309.7h0M136.3 300.2h0M105.4 296.3h0M172.9 304.0h0M79.2 309.1h0M163.2 299.4h0M81.7 282.4h0M81.3 358.9h0M94.8 303.1h0M91.4 288.8h0M98.8 351.5h0M199.0 297.0h0M89.5 261.0h0M184.6 309.0h0M91.4 272.3h0M112.8 304.9h0M205.6 294.9h0M187.5 300.7h0M80.0 340.7h0M86.9 345.1h0M95.2 253.9h0M170.8 282.0h0M183.4 301.7h0M138.6 286.8h0M101.7 295.8h0M192.1 298.2h0M110.7 329.4h0M131.9 307.3h0M79.0 349.5h0M137.3 277.5h0M104.7 295.2h0M173.4 293.7h0M194.4 304.7h0M120.4 308.7h0M203.8 303.9h0M145.5 316.4h0M90.9 324.7h0M84.1 229.0h0M210.7 292.6h0M85.2 301.0h0M146.5 311.0h0M145.5 295.6h0M205.5 299.4h0M205.1 287.1h0M98.3 311.9h0M132.6 304.4h0M189.7 319.1h0M175.8 296.0h0M106.1 302.6h0M187.6 299.0h0M79.8 250.0h0M104.0 311.9h0M208.7 293.3h0M85.6 308.3h0M85.5 302.7h0M80.4 325.4h0M150.3 299.0h0M145.5 319.3h0M101.1 299.9h0M206.6 292.1h0M144.0 292.9h0M140.3 316.5h0M193.2 307.3h0M116.8 281.4h0M185.6 288.9h0M116.4 331.9h0M85.2 246.6h0M128.7 303.5h0M124.9 323.6h0M87.2 324.1h0M161.5 298.3h0M206.9 298.3h0M209.4 291.8h0M101.8 315.8h0M105.1 286.6h0M194.4 295.4h0M195.6 293.7h0M116.9 292.1h0M94.8 295.4h0M95.1 274.1h0M201.6 285.9h0M96.9 277.6h0M79.7 283.1h0M140.1 292.6h0M199.2 278.3h0M119.4 309.6h0M130.8 305.1h0M195.5 291.5h0M90.6 370.4h0M96.3 296.4h0M210.8 296.4h0M81.8 330.6h0M206.5 296.3h0M79.9 341.5h0M89.5 253.7h0M157.4 296.1h0M92.5 254.3h0M153.3 285.3h0M96.4 322.7h0M150.6 312.6h0M193.7 298.9h0M93.2 294.8h0M112.4 319.3h0M210.9 300.3h0M134.7 286.6h0M133.6 298.2h0M174.3 291.9h0M195.0 299.5h0M171.1 304.2h0M203.3 314.7h0M205.0 308.8h0M81.9 361.9h0M87.8 335.0h0M144.6 305.2h0M203.5 305.0h0M122.0 298.7h0M154.3 297.2h0M78.7 315.7h0M127.8 301.4h0M206.7 291.0h0M93.9 304.1h0M197.9 299.0h0M89.0 360.2h0M93.9 323.9h0M117.7 311.9h0M151.6 310.4h0M85.8 274.7h0M157.3 311.1h0M209.8 292.8h0M139.6 301.8h0M91.0 270.3h0M156.0 318.4h0M194.5 289.9h0M85.6 350.9h0M104.3 320.9h0M113.6 290.1h0M162.1 310.8h0M79.6 302.6h0M103.9 305.4h0M126.5 313.0h0M116.8 309.5h0M89.6 294.6h0M195.9 306.3h0M85.1 290.8h0M156.0 298.6h0M205.5 296.1h0M123.3 298.2h0M132.6 294.9h0M160.2 297.3h0M196.8 293.5h0M172.6 286.6h0M207.1 296.7h0M115.8 313.1h0M95.0 299.4h0M189.3 299.2h0M89.6 278.3h0M86.8 335.0h0M207.3 309.8h0M196.7 303.2h0M94.7 293.7h0M111.0 288.7h0M200.7 301.4h0M185.3 308.4h0M99.5 302.2h0M143.9 294.4h0M210.6 290.0h0M89.6 332.0h0M200.5 302.7h0M131.4 273.6h0M113.0 278.3h0M202.2 306.0h0M89.3 322.1h0M89.2 285.5h0M173.4 275.7h0M197.7 288.8h0M203.5 305.7h0M78.0 282.7h0M207.0 299.7h0M85.9 345.1h0M200.9 300.9h0M193.6 289.8h0M126.0 320.2h0M91.2 266.6h0M96.3 285.0h0M129.4 306.9h0M211.4 290.7h0M205.0 295.7h0M116.0 310.6h0M211.9 306.9h0M121.8 315.9h0M94.9 305.8h0M200.7 296.4h0M79.1 350.6h0M197.3 317.2h0M158.1 304.0h0M168.0 296.3h0M176.2 291.5h0M83.6 270.4h0M90.2 294.7h0M144.9 304.5h0M84.7 290.7h0M166.1 311.0h0M84.1 299.3h0M109.7 301.3h0M149.4 285.8h0M84.6 295.1h0M203.8 293.9h0M100.9 278.1h0M151.2 317.7h0M203.6 303.5h0M88.0 307.1h0M172.8 311.3h0M208.3 306.6h0M80.2 237.7h0M101.5 285.4h0M139.6 290.1h0M148.0 294.6h0M210.6 306.2h0M130.5 288.5h0M126.9 307.9h0M115.6 329.2h0M136.9 299.6h0M117.2 316.7h0M152.3 306.9h0M165.1 314.0h0M206.6 306.8h0M96.5 304.0h0M207.4 316.2h0M167.2 292.0h0M194.6 292.2h0M121.7 314.9h0M113.3 286.4h0M104.9 303.7h0M86.1 331.8h0M184.0 305.6h0M167.2 315.2h0M166.8 307.9h0M160.7 312.4h0M137.9 291.6h0M108.1 283.3h0M89.7 308.4h0M150.7 273.2h0M197.0 303.9h0M85.6 284.6h0M113.0 296.5h0M171.4 310.5h0M128.8 291.6h0M121.1 322.6h0M143.4 313.0h0M168.7 309.7h0M153.4 320.1h0M80.3 299.0h0M87.8 330.3h0M166.0 311.0h0M197.7 295.2h0M125.5 302.8h0M161.1 297.3h0M95.0 265.9h0M197.5 298.0h0M94.3 291.7h0M93.7 326.2h0M120.7 290.6h0M114.8 289.5h0M210.2 305.9h0M126.6 293.4h0M96.7 294.9h0M155.7 314.1h0M188.1 299.0h0M95.9 316.9h0M211.0 299.7h0M194.8 301.7h0M177.2 299.2h0M107.6 317.7h0M127.6 321.5h0M161.5 294.1h0M118.4 289.1h0M80.9 261.1h0M166.4 304.9h0M140.2 289.2h0M103.2 290.0h0M140.0 311.0h0M109.4 301.0h0M187.5 298.2h0M204.7 302.1h0M164.7 294.6h0M103.0 338.7h0M117.9 270.2h0M147.3 293.6h0M123.2 308.4h0M98.8 317.2h0M192.1 302.8h0M169.3 306.8h0M209.9 289.4h0M107.1 285.9h0M146.0 311.0h0M90.3 288.0h0M130.6 300.7h0M205.3 293.7h0M89.4 316.9h0M179.5 283.6h0M194.0 298.8h0M137.1 280.4h0M125.3 306.3h0M104.0 278.7h0M210.4 299.5h0M108.6 275.8h0M203.9 300.3h0M96.5 321.8h0M207.4 306.2h0M192.3 304.0h0M91.8 292.6h0M124.7 299.4h0M132.5 289.4h0M149.8 330.1h0M210.7 305.6h0M174.6 292.1h0M97.5 337.6h0M152.1 329.0h0M83.2 318.2h0M204.5 312.5h0M123.2 298.0h0M103.3 309.8h0M91.6 326.6h0M165.4 287.0h0M79.5 267.8h0M143.4 308.5h0M210.7 310.3h0M87.2 275.4h0M144.3 299.0h0M109.3 312.4h0M91.7 319.7h0M206.6 307.3h0M192.3 301.4h0M120.2 305.5h0M130.4 298.4h0M137.0 285.9h0M88.1 293.1h0M115.0 301.8h0M168.6 299.5h0M175.1 287.9h0M92.0 264.3h0M102.2 302.0h0M115.7 307.5h0M211.1 285.0h0M169.5 307.9h0M82.4 335.5h0M117.8 306.6h0M125.5 313.6h0M162.9 299.7h0M193.8 292.9h0M123.6 306.5h0M78.3 364.7h0M96.4 288.6h0M192.0 290.3h0M161.7 313.2h0M210.7 311.4h0M87.2 312.5h0M127.0 276.3h0M184.6 296.4h0M166.6 309.6h0M170.1 316.4h0M207.4 301.1h0M140.5 299.4h0M149.6 294.6h0M88.7 305.7h0M104.8 317.1h0M133.5 291.0h0M121.1 289.0h0M126.5 284.5h0M80.8 321.3h0M186.2 303.4h0M149.5 297.0h0M136.8 296.4h0M107.6 325.9h0M81.2 349.5h0M196.9 305.4h0M118.0 296.3h0M166.0 316.3h0M193.0 299.9h0M185.0 289.9h0M193.6 300.5h0M113.3 287.2h0M122.9 287.6h0M189.4 296.8h0M96.8 263.9h0M100.0 287.3h0M129.4 295.7h0M206.1 303.3h0M204.2 304.9h0M207.6 295.6h0M168.7 306.3h0M78.3 437.7h0M114.9 323.9h0M88.6 226.0h0M120.2 289.6h0M175.0 315.9h0M78.7 203.1h0M108.8 292.9h0M192.5 300.9h0M152.9 298.1h0M195.3 291.1h0M179.9 308.5h0M99.5 288.4h0M122.3 291.5h0M86.1 222.3h0M116.4 290.8h0M122.5 282.8h0M144.6 295.2h0M104.4 310.6h0M184.5 313.5h0M173.6 283.9h0M178.8 310.4h0M186.7 296.1h0M167.6 298.1h0M174.6 292.9h0M99.0 307.9h0M112.0 300.7h0M94.0 365.9h0M95.2 286.4h0M190.3 305.4h0M82.7 275.8h0M113.8 299.6h0M139.9 319.0h0M101.0 281.6h0M124.0 299.3h0M165.8 302.4h0M149.2 312.1h0M111.0 311.1h0M87.1 287.9h0M204.8 298.5h0M155.3 303.0h0M114.4 296.3h0M136.1 314.7h0M111.2 292.4h0M113.4 276.7h0M136.6 307.1h0M83.1 286.9h0M104.9 301.2h0M79.6 269.3h0M208.9 296.4h0M150.0 296.8h0M85.1 267.6h0M203.4 296.6h0M102.9 328.7h0M134.0 307.4h0M100.3 246.4h0M166.6 291.4h0M168.5 301.8h0M80.3 354.8h0M108.7 311.0h0M146.9 281.2h0M172.2 290.4h0M138.2 288.2h0M81.1 353.4h0M116.8 322.1h0M211.0 304.6h0M108.4 280.0h0M133.8 299.3h0M165.0 309.0h0M98.5 291.6h0M190.5 300.8h0M104.3 331.4h0M99.6 288.7h0M196.1 295.9h0M104.9 298.3h0M176.0 302.5h0M190.4 276.7h0M182.7 313.8h0M140.0 319.7h0M144.6 306.9h0M138.9 299.1h0M132.3 281.8h0M99.5 281.0h0M117.5 313.1h0M113.4 321.0h0M111.2 318.4h0M182.9 299.8h0M105.5 301.9h0M119.8 301.0h0M110.1 296.6h0M128.0 288.9h0M145.2 294.1h0M208.3 306.5h0M135.6 291.9h0M138.5 310.6h0M133.7 323.3h0M110.0 299.1h0M87.1 257.1h0M105.4 302.0h0M166.7 300.8h0M157.0 302.7h0M203.5 292.9h0M132.8 277.9h0M91.7 306.2h0M196.7 293.2h0M204.6 284.4h0M188.9 287.6h0M109.2 278.4h0M316.9 309.7h0M360.0 293.3h0M260.8 302.4h0M215.9 297.5h0M357.5 300.0h0M284.9 286.0h0M273.9 314.0h0M326.5 299.1h0M308.7 298.2h0M293.3 301.1h0M233.2 301.0h0M332.4 307.7h0M248.9 302.4h0M303.6 297.8h0M240.4 297.2h0M247.0 295.8h0M306.2 311.0h0M324.3 299.3h0M358.5 294.3h0M315.0 303.4h0M308.0 293.0h0M302.4 287.3h0M255.6 296.3h0M349.9 301.1h0M299.7 297.3h0M220.1 291.2h0M283.8 314.4h0M263.3 286.6h0M235.7 296.6h0M316.1 302.5h0M333.7 300.9h0M347.3 297.1h0M343.7 295.7h0M360.7 300.0h0M240.8 303.6h0M298.0 299.6h0M273.4 296.6h0M321.5 289.2h0M316.0 307.0h0M223.2 294.8h0M253.5 297.9h0M245.1 298.5h0M222.8 287.0h0M253.0 301.4h0M284.4 300.5h0M258.8 300.1h0M234.7 300.0h0M332.9 298.0h0M221.8 301.3h0M248.8 296.0h0M315.1 294.7h0M273.1 301.6h0M309.3 294.6h0M223.8 310.3h0M353.2 301.5h0M271.2 296.0h0M336.6 292.7h0M274.9 300.4h0M337.3 308.3h0M216.7 290.0h0M253.8 292.8h0M361.6 304.4h0M223.0 299.5h0M340.6 296.2h0M269.0 288.3h0M284.7 294.3h0M255.0 294.5h0M264.5 299.8h0M360.3 284.1h0M282.4 304.5h0M233.1 292.9h0M326.7 286.5h0M244.1 312.0h0M292.6 298.1h0M330.2 308.6h0M280.7 302.7h0M226.3 310.0h0M322.1 295.3h0M351.6 297.8h0M314.0 303.1h0M352.6 297.4h0M282.4 293.6h0M242.7 292.8h0M262.2 296.3h0M332.0 305.3h0M353.0 300.4h0M252.4 312.1h0M336.0 304.4h0M326.6 297.9h0M246.0 295.6h0M336.2 298.9h0M275.5 288.3h0M233.8 310.7h0M296.7 305.9h0M250.2 305.6h0M293.2 302.1h0M355.9 303.2h0M242.1 293.4h0M295.2 293.3h0M289.3 304.5h0M237.5 302.9h0M303.8 295.0h0M249.4 302.3h0M348.7 301.6h0M341.1 307.2h0M291.8 292.4h0M248.9 294.9h0M233.6 295.0h0M246.6 307.5h0M291.4 296.3h0M300.2 300.9h0M232.5 308.1h0M324.8 297.3h0M285.3 291.6h0M358.9 305.8h0M271.6 311.7h0M281.7 292.5h0M331.3 304.4h0M274.0 290.4h0M329.9 302.6h0M293.3 289.6h0M229.7 308.1h0M348.3 293.3h0M347.6 312.3h0M231.1 293.3h0M261.8 301.8h0M297.5 311.4h0M227.9 298.6h0M272.8 299.4h0M222.0 320.0h0M292.1 297.0h0M284.8 299.1h0M351.9 296.4h0M333.3 306.4h0M252.7 303.4h0M314.7 304.2h0M356.3 303.7h0M231.3 302.2h0M292.2 304.5h0M233.8 290.6h0M250.2 302.1h0M286.5 292.8h0M213.4 293.7h0M284.5 303.0h0M256.6 309.7h0M221.5 297.7h0M292.1 295.2h0M242.2 292.0h0M242.2 296.6h0M353.9 296.6h0M277.8 302.5h0M294.4 303.0h0M227.5 279.1h0M355.5 292.9h0M300.4 306.3h0M256.4 297.2h0M311.9 296.4h0M309.1 308.7h0M285.2 300.5h0M276.3 295.7h0M226.2 311.1h0M326.6 290.2h0M217.8 301.2h0M221.6 301.0h0M306.2 301.5h0M343.7 297.7h0M347.6 294.3h0M245.3 305.1h0M334.9 299.8h0M239.5 302.5h0M240.9 303.6h0M281.7 301.8h0M298.7 288.8h0M292.0 289.2h0M349.9 291.1h0M287.0 308.2h0M266.6 307.3h0M281.8 285.3h0M239.9 296.4h0M320.7 302.7h0M238.6 295.3h0M284.7 300.3h0M225.8 301.4h0M320.7 297.5h0M266.7 296.1h0M330.4 287.7h0M237.3 299.0h0M285.6 304.6h0M343.7 299.1h0M322.0 295.0h0M243.2 298.3h0M226.8 280.5h0M302.0 306.9h0M359.6 292.9h0M273.0 305.5h0M317.9 295.2h0M314.8 300.8h0M359.4 294.6h0M273.3 292.9h0M225.5 300.9h0M226.9 317.8h0M349.1 309.8h0M244.4 304.7h0M300.0 304.0h0M347.8 288.3h0M276.1 295.1h0M249.8 299.7h0M348.8 283.9h0M304.5 299.9h0M361.5 294.3h0M329.3 296.8h0M312.1 309.4h0M283.3 293.4h0M212.2 287.5h0M335.9 300.7h0M265.8 294.4h0M220.6 295.6h0M323.4 300.3h0M360.6 300.8h0M322.9 293.4h0M238.2 302.7h0M263.8 301.9h0M263.5 293.2h0M257.8 310.4h0M314.9 310.8h0M320.9 302.0h0M254.0 306.7h0M270.9 292.6h0M260.4 307.7h0M250.9 312.5h0M310.9 300.0h0M332.8 286.2h0M319.8 298.6h0M357.0 305.2h0M353.9 298.9h0M357.2 291.7h0M330.0 308.5h0M267.7 306.4h0M324.5 293.2h0M357.8 298.1h0M253.4 304.8h0M265.0 300.0h0M215.6 298.3h0M348.7 304.9h0M332.0 301.9h0M230.4 282.2h0M279.0 297.0h0M255.8 292.2h0M264.4 299.0h0M278.0 290.4h0M354.0 315.2h0M259.1 304.1h0M298.9 296.7h0M324.2 300.4h0M318.7 305.7h0M217.6 289.7h0M264.2 304.3h0M336.8 291.4h0M238.3 307.9h0M279.9 297.5h0M330.8 305.6h0M243.0 297.1h0M285.7 300.0h0M355.5 297.8h0M226.6 295.9h0M255.1 296.7h0M215.9 311.5h0M220.7 296.5h0M333.3 296.9h0M292.0 301.3h0M304.8 300.4h0M251.4 300.2h0M318.3 302.7h0M233.8 302.1h0M242.2 290.9h0M221.3 307.8h0M354.6 289.8h0M261.6 301.8h0M255.7 295.1h0M275.7 298.8h0M247.1 299.8h0M349.3 295.8h0M254.3 288.8h0M218.9 299.5h0M338.8 298.9h0M321.6 301.7h0M239.6 286.6h0M268.6 291.5h0M236.0 292.0h0M347.6 298.6h0M349.6 308.8h0M220.1 295.8h0M244.8 309.4h0M274.0 302.3h0M305.4 293.5h0M337.1 301.9h0M347.4 302.4h0M352.6 310.0h0M298.7 294.8h0M323.9 296.5h0M346.7 301.3h0M323.8 296.8h0M282.0 307.8h0M336.8 303.7h0M306.7 297.7h0M255.2 293.6h0M216.5 316.2h0M327.1 305.4h0M215.1 301.9h0M331.0 292.8h0M329.6 302.0h0M241.0 293.0h0M341.0 296.5h0M296.0 294.3h0M355.6 298.6h0M352.7 308.2h0M215.5 309.9h0M247.5 298.6h0M334.8 295.4h0M291.5 291.6h0M234.0 301.7h0M289.1 296.2h0M264.5 299.5h0M270.1 303.3h0M228.6 303.6h0M303.5 299.1h0M336.9 298.7h0M270.1 303.1h0M259.7 282.9h0M348.3 298.9h0M307.1 295.2h0M359.1 300.2h0M339.1 284.0h0M243.9 312.1h0M317.6 300.7h0M235.6 297.7h0M308.1 307.8h0M216.5 305.1h0M246.7 289.6h0M358.1 295.3h0M256.5 297.5h0M320.2 297.0h0M318.8 300.2h0M293.5 297.9h0M338.7 305.1h0M242.5 298.0h0M233.0 302.5h0M331.6 296.2h0M242.2 305.1h0M290.0 291.4h0M315.8 294.7h0M291.2 303.8h0M333.9 304.4h0M264.4 298.5h0M332.8 297.0h0M350.5 292.2h0M299.9 303.8h0M313.5 303.0h0M298.1 287.5h0M257.1 299.2h0M249.4 299.2h0M320.8 299.5h0M234.0 300.8h0M273.1 289.0h0M268.2 293.3h0M346.3 300.6h0M292.9 291.9h0M252.1 287.9h0M277.9 296.2h0M221.1 297.0h0M253.9 301.7h0M314.9 298.2h0M249.0 306.4h0M257.2 291.3h0M349.6 303.8h0M252.9 308.3h0M298.7 301.6h0M361.5 296.9h0M225.5 311.2h0M273.7 297.9h0M332.7 303.2h0M327.5 304.9h0M305.7 298.1h0M319.2 292.6h0M233.7 307.1h0M221.1 291.6h0M230.7 307.5h0M347.6 288.4h0M238.9 298.9h0M316.2 302.3h0M223.7 293.4h0M346.0 296.6h0M328.1 304.4h0M339.2 309.5h0M359.4 305.1h0M309.8 297.8h0M345.3 303.9h0M362.3 301.9h0M225.8 301.3h0M219.0 310.3h0M324.0 301.4h0M300.2 298.3h0M248.9 302.4h0M314.0 299.5h0M311.4 304.2h0M263.5 304.1h0M219.7 297.3h0M360.7 307.0h0M293.7 298.9h0M226.5 291.7h0M332.3 302.0h0M344.2 301.6h0M268.3 303.7h0M331.8 305.9h0M222.2 302.6h0M317.6 305.8h0M359.1 300.2h0M324.9 301.9h0M252.5 305.6h0M271.5 298.9h0M313.1 293.7h0M277.9 294.7h0M361.8 302.9h0M330.1 299.2h0M277.2 290.9h0M318.0 300.4h0M222.5 295.1h0M262.3 294.8h0M217.9 290.8h0M263.4 307.7h0M238.6 306.7h0M285.3 308.7h0M261.8 290.3h0M220.9 299.2h0M236.1 291.8h0M273.8 299.3h0M302.6 304.9h0M252.0 297.3h0M272.5 302.0h0M354.6 299.3h0M273.7 285.5h0M284.7 294.9h0M287.0 295.6h0M351.5 294.1h0M237.2 308.5h0M282.4 292.8h0M334.1 303.5h0M292.0 299.2h0M262.4 301.5h0M268.8 305.7h0M241.5 294.0h0M313.0 304.6h0M339.3 303.5h0M321.7 291.4h0M219.5 313.3h0M330.4 308.1h0M324.6 294.1h0M269.1 301.5h0M254.9 294.7h0M356.9 303.1h0M232.9 302.1h0M331.1 295.5h0M252.7 303.3h0M293.9 302.2h0M317.9 297.9h0M350.0 304.9h0M328.5 306.8h0M224.1 309.4h0M342.6 294.2h0M358.5 289.1h0M217.5 293.0h0M256.7 302.9h0M345.1 301.9h0M292.1 298.3h0M213.3 299.3h0M327.8 293.6h0M360.8 299.5h0M234.5 299.3h0M342.7 316.1h0M305.5 297.5h0M303.9 305.7h0M219.0 300.8h0M358.6 297.2h0M362.5 298.5h0M231.5 294.7h0M335.2 291.0h0M264.8 312.1h0M216.4 309.0h0M290.6 290.0h0M339.0 296.5h0M299.8 303.0h0M220.6 300.8h0M342.1 299.0h0M276.8 293.2h0M296.3 300.8h0M273.3 299.1h0M357.6 306.0h0M293.5 290.9h0M354.9 301.5h0M301.5 306.3h0M340.1 299.1h0M243.7 293.8h0M241.0 285.3h0M323.6 288.7h0M314.0 301.0h0M355.8 301.1h0M266.1 304.5h0M239.2 296.2h0M275.0 303.2h0M346.4 295.9h0M294.5 297.1h0M259.3 296.5h0M287.4 304.3h0M322.2 292.7h0M227.9 300.2h0M317.8 305.4h0M277.8 299.1h0M344.2 297.9h0M333.2 298.6h0M327.7 293.8h0M219.2 291.3h0M292.7 286.3h0M220.2 299.5h0M265.4 291.9h0M237.9 314.5h0M286.0 288.4h0M244.3 299.0h0M259.7 291.5h0M325.3 291.4h0M328.7 295.9h0M325.8 295.5h0M322.3 302.1h0M265.6 302.1h0M217.9 317.1h0M221.2 295.3h0M299.4 299.7h0M357.5 295.4h0M289.1 292.0h0M282.1 296.8h0M341.8 297.6h0M268.3 309.6h0M245.8 297.9h0M355.3 300.3h0M212.3 315.6h0M292.3 301.6h0M238.6 306.2h0M353.7 289.0h0M313.4 303.5h0M294.7 291.7h0M228.1 299.9h0M351.6 309.5h0M277.7 295.3h0M227.2 284.3h0M294.5 296.3h0M224.7 305.5h0M340.5 299.9h0M273.2 303.8h0M255.9 282.0h0M250.1 295.5h0M243.4 313.0h0M241.1 293.9h0M302.8 296.3h0M237.4 305.0h0M294.3 302.2h0M344.1 299.2h0M323.3 289.5h0M293.4 301.7h0M276.7 303.1h0M264.2 293.3h0M250.0 302.6h0M275.0 294.0h0M360.9 299.5h0M294.9 294.2h0M256.0 297.9h0M252.9 301.0h0M279.1 290.7h0M280.2 290.9h0M264.3 308.0h0M294.9 305.2h0M323.7 303.8h0M317.7 300.0h0M321.5 301.9h0M290.9 299.2h0M337.3 298.4h0M224.5 296.0h0M299.3 305.9h0M337.5 299.2h0M322.6 297.2h0M356.3 292.2h0M233.3 297.6h0M311.4 301.0h0M330.8 295.8h0M272.5 296.9h0M249.8 306.5h0M278.9 300.9h0M336.2 294.7h0M245.9 304.7h0M330.4 295.1h0M324.6 301.4h0M294.8 295.7h0M289.9 290.8h0M354.5 300.5h0M231.9 301.8h0M221.7 291.0h0M290.5 301.0h0M224.7 300.6h0M250.6 301.2h0M231.9 290.7h0M354.6 296.8h0M288.3 288.3h0M251.0 295.0h0M261.1 297.2h0M239.8 292.4h0M267.6 302.2h0M239.4 292.3h0M338.7 310.6h0M296.4 300.1h0M228.1 296.3h0M340.3 299.9h0M280.0 305.0h0M217.0 304.4h0M326.2 295.9h0M311.7 297.0h0M287.7 298.2h0M274.6 294.6h0M322.0 289.9h0M358.9 300.8h0M287.4 289.6h0M347.1 303.7h0M294.6 306.7h0M248.1 300.2h0M319.7 295.8h0M330.6 297.4h0M231.0 300.2h0M244.4 298.0h0M229.5 292.8h0M217.6 303.0h0M262.8 304.1h0M286.2 297.9h0M299.4 300.8h0M286.7 299.6h0M336.6 299.6h0M238.6 308.2h0M356.1 308.1h0M326.2 299.1h0M219.7 301.5h0M220.6 307.1h0M228.4 302.1h0M304.6 297.3h0M297.1 289.1h0M250.6 301.8h0M313.7 291.4h0M263.2 302.7h0M330.8 296.2h0M322.3 300.0h0M247.3 294.2h0M222.5 297.8h0M304.5 300.7h0M224.8 308.1h0M297.7 293.2h0M312.8 306.7h0M234.5 302.3h0M272.5 297.3h0M306.9 298.2h0M290.0 299.8h0M319.6 297.3h0M286.3 299.7h0M290.7 296.7h0M282.9 299.5h0M235.8 300.6h0M307.0 296.1h0M215.6 294.6h0M274.9 296.6h0M329.3 293.5h0M341.0 288.7h0M339.3 289.5h0M323.8 298.0h0M358.1 304.3h0M361.1 303.0h0M272.7 298.6h0M313.7 292.4h0M235.6 300.7h0M307.0 293.9h0M261.6 304.9h0M343.8 297.6h0M232.3 306.6h0M236.4 286.4h0M309.2 299.9h0M296.3 309.9h0M305.7 298.8h0M301.6 293.2h0M219.0 289.9h0M302.2 304.6h0M278.1 296.4h0M241.6 290.7h0M336.5 297.6h0M322.7 296.4h0M310.7 299.6h0M274.4 297.8h0M236.0 290.2h0M212.0 303.3h0M343.2 298.2h0M282.8 295.2h0M285.0 308.1h0M256.5 293.6h0M274.9 309.5h0M306.4 292.3h0M278.6 305.0h0M241.0 300.4h0M230.5 295.5h0M340.6 299.4h0M241.8 300.9h0M258.4 289.5h0M323.3 287.5h0M216.3 302.2h0M290.3 302.0h0M260.6 303.2h0M353.4 304.8h0M291.4 305.1h0M289.5 301.0h0M309.1 294.6h0M332.7 301.1h0M256.0 303.1h0M215.7 283.1h0M300.8 302.7h0M279.4 283.5h0M243.9 289.4h0M320.4 298.3h0M322.7 307.4h0M359.7 301.4h0M354.7 303.2h0M247.4 282.0h0M270.0 310.6h0M324.6 301.2h0M214.8 302.2h0M336.0 302.0h0M310.9 305.4h0M344.4 303.0h0M282.3 310.9h0M247.8 304.5h0M334.4 294.3h0M350.1 292.3h0M234.0 305.3h0M354.6 299.4h0M237.4 291.8h0M315.5 293.7h0M286.1 287.5h0M343.3 297.1h0M361.4 300.8h0M227.3 309.5h0M280.6 293.5h0M342.4 298.9h0M273.1 296.3h0M237.9 299.8h0M284.9 303.4h0M218.6 301.6h0M238.7 296.6h0M340.6 305.2h0M337.9 290.6h0M333.4 286.7h0M221.0 312.6h0M310.3 293.7h0M280.4 301.0h0M312.6 295.4h0M263.3 297.5h0M256.6 299.6h0M351.8 293.9h0M316.0 298.1h0M307.3 290.7h0M289.0 296.8h0M256.6 306.8h0M278.3 309.7h0M346.3 298.6h0M340.1 301.5h0M227.0 305.9h0M330.6 288.3h0M313.0 298.9h0M310.6 298.7h0M260.3 307.7h0M353.7 295.7h0M297.2 299.2h0M339.2 292.8h0M224.5 309.7h0M288.1 302.0h0M248.2 294.2h0M274.0 292.1h0M262.0 292.4h0M296.0 296.8h0M232.0 294.2h0M260.6 308.0h0M315.0 298.5h0M249.4 310.8h0M263.8 294.4h0M251.1 294.0h0M353.6 303.3h0M226.4 301.8h0M240.3 296.7h0M344.1 294.8h0M268.5 298.4h0M325.1 303.3h0M224.0 295.9h0M233.3 297.8h0M302.9 303.8h0M236.9 300.4h0M248.5 300.6h0M267.0 294.8h0M306.0 293.9h0M236.9 303.2h0M221.8 300.9h0M271.0 298.4h0M313.7 286.0h0M333.7 306.7h0M297.5 300.0h0M260.6 290.8h0M351.5 291.9h0M259.2 288.7h0M327.7 295.5h0M326.8 303.6h0M311.6 300.4h0M291.9 290.4h0M243.5 286.0h0M297.5 291.6h0M213.4 283.5h0M355.2 295.0h0M291.1 303.0h0M284.2 298.0h0M355.1 297.0h0M340.9 293.7h0M256.5 293.6h0M352.9 311.1h0M349.6 297.7h0M237.4 301.8h0M276.9 297.0h0M270.2 294.9h0M296.1 294.7h0M310.3 295.7h0M273.0 301.5h0M312.0 299.2h0M305.7 293.5h0M287.4 301.0h0M216.1 305.8h0M251.7 310.0h0M269.0 298.4h0M319.7 303.3h0M266.5 298.5h0M250.3 304.7h0M218.2 277.1h0M318.9 300.5h0M267.7 293.2h0M291.2 303.3h0M344.4 304.7h0M311.1 298.0h0M249.0 293.8h0M254.1 303.8h0M305.9 295.8h0M337.0 298.5h0M239.3 295.6h0M274.9 308.9h0M243.1 298.0h0M229.9 300.1h0M316.5 299.2h0M272.8 302.4h0M274.0 318.1h0M339.0 310.0h0M214.1 298.7h0M246.5 290.7h0M220.1 297.4h0M215.0 298.1h0M292.0 296.7h0M260.7 290.6h0M314.4 302.2h0M241.0 298.2h0M231.5 305.3h0M322.7 302.2h0M219.7 298.0h0M295.1 294.1h0M219.9 303.1h0M352.8 303.9h0M346.4 294.0h0M220.5 292.0h0M354.1 302.6h0M295.7 313.7h0M323.5 299.6h0M339.1 301.2h0M280.3 299.3h0M281.1 303.4h0M262.4 308.3h0M304.5 306.3h0M216.7 303.4h0M315.1 297.1h0M322.4 292.9h0M316.2 294.1h0M305.4 296.4h0M260.5 298.8h0M314.8 306.4h0M270.2 304.2h0M308.9 293.2h0M249.9 292.1h0M251.9 287.8h0M310.1 295.0h0M237.9 301.5h0M337.7 302.4h0M335.6 309.6h0M295.2 291.5h0M251.1 292.9h0M234.4 286.3h0M324.4 290.2h0M356.1 304.1h0M229.7 309.4h0M222.9 301.1h0M277.4 298.9h0M358.5 306.3h0M243.3 299.1h0M242.9 293.0h0M272.4 304.2h0M262.5 300.1h0M252.1 306.9h0M298.6 293.2h0M228.3 304.2h0M225.5 305.7h0M286.2 309.6h0M354.9 304.1h0M241.6 309.0h0M246.5 292.5h0M246.1 295.0h0M224.7 306.3h0M226.7 304.2h0M260.1 299.2h0M255.1 298.1h0M300.6 294.8h0M236.7 290.6h0M349.2 295.4h0M297.8 287.6h0M333.1 313.5h0M231.2 290.8h0M335.1 294.9h0M273.5 297.5h0M261.9 300.4h0M344.5 304.8h0M278.3 303.2h0M256.2 301.7h0M272.4 291.0h0M301.0 292.6h0M248.5 293.3h0M287.7 309.0h0M261.5 296.9h0M231.2 288.0h0M216.3 287.0h0M336.1 292.0h0M347.3 292.6h0M254.9 303.2h0M327.1 290.8h0M273.4 300.5h0M264.9 296.2h0M255.2 295.7h0M261.7 299.5h0M265.4 297.6h0M229.8 300.6h0M336.1 296.1h0M275.9 299.7h0M241.1 307.8h0M274.1 302.2h0M283.8 301.0h0M325.0 297.5h0M236.4 289.9h0M287.3 304.9h0M327.3 291.7h0M334.7 298.9h0M234.8 292.2h0M267.0 302.7h0M317.9 302.3h0M263.0 293.5h0M311.5 297.4h0M251.6 303.3h0M260.8 293.1h0M223.3 289.6h0M308.9 294.5h0M256.2 291.0h0M225.1 292.9h0M251.5 293.2h0M239.1 303.5h0M268.4 309.4h0M355.9 300.5h0M350.5 315.9h0M338.4 301.7h0M332.7 304.7h0M348.5 298.1h0M237.5 303.0h0M287.1 298.7h0M330.4 303.5h0M353.7 300.1h0M304.1 290.5h0M232.4 305.0h0M264.4 308.8h0M240.4 290.2h0M327.5 297.1h0M333.2 304.0h0M271.7 301.0h0M212.1 296.8h0M351.2 300.7h0M344.6 293.6h0M352.1 300.3h0M324.6 302.1h0M361.2 295.8h0M253.1 303.5h0M231.0 295.3h0M337.6 305.0h0M334.7 301.6h0M252.2 297.7h0M302.4 302.6h0M226.0 292.6h0M234.2 299.3h0M358.4 297.6h0M343.5 309.2h0M238.1 295.3h0M310.4 298.3h0M319.2 309.5h0M291.9 302.0h0M287.6 296.9h0M314.6 302.6h0M216.0 310.2h0M357.4 306.2h0M303.9 298.6h0M283.9 298.6h0M254.3 302.0h0M253.2 286.9h0M305.0 298.9h0M241.1 297.8h0M317.6 307.4h0M224.9 296.9h0M270.2 293.4h0M254.6 304.0h0M212.3 285.3h0M316.9 301.8h0M345.9 298.0h0M270.5 300.9h0M248.3 301.1h0M311.0 314.5h0M229.1 293.5h0M340.3 310.5h0M288.2 291.8h0M314.7 300.7h0M258.2 284.6h0M291.4 284.8h0M297.4 304.1h0M305.6 300.0h0M331.2 290.1h0M277.0 314.4h0M277.1 296.5h0M276.5 289.9h0M218.0 315.4h0M267.9 299.2h0M351.8 295.6h0M314.5 293.9h0M268.3 303.2h0M335.5 298.3h0M253.3 287.8h0M274.7 296.7h0M255.7 286.4h0M273.5 305.6h0M233.0 303.1h0M298.4 298.6h0M233.2 295.7h0M280.3 295.1h0M326.8 304.8h0M347.1 297.0h0M311.6 297.9h0M269.5 303.6h0M242.6 297.2h0M254.2 295.3h0M252.9 304.4h0M312.2 296.1h0M327.8 292.2h0M233.5 304.9h0M280.5 296.5h0M326.3 291.7h0M317.2 295.2h0M228.3 308.1h0M298.5 291.9h0M352.9 292.8h0M341.3 301.9h0M247.7 301.3h0M338.7 291.1h0M360.3 297.0h0M352.8 296.4h0M342.9 292.9h0M230.2 295.4h0M277.5 282.7h0M311.3 291.1h0M342.9 297.8h0M337.2 291.1h0M274.3 300.3h0M265.6 291.6h0M317.5 305.1h0M253.6 293.4h0M275.4 302.0h0M340.6 308.5h0M254.3 292.9h0M339.9 296.3h0M220.7 306.9h0M225.1 300.5h0M266.8 298.7h0M314.5 302.1h0M245.6 290.6h0M356.9 291.4h0M302.2 298.8h0M223.9 298.5h0M247.4 296.9h0M341.6 293.7h0M228.9 297.1h0M215.7 301.5h0M249.3 299.9h0M216.2 296.7h0M242.4 299.4h0M285.8 287.3h0M337.1 290.2h0M281.0 296.2h0M295.7 289.3h0M229.3 304.0h0M264.1 293.7h0M310.1 298.4h0M284.6 299.9h0M353.6 302.1h0M275.0 302.1h0M351.2 301.0h0M243.7 297.8h0M314.2 298.9h0M328.0 287.7h0M357.6 295.9h0M237.9 297.0h0M305.3 299.0h0M352.2 302.7h0M287.2 303.0h0M360.2 296.6h0M348.5 301.2h0M256.6 289.0h0M285.4 289.7h0M260.9 307.0h0M333.5 295.2h0M220.3 291.5h0M315.7 292.3h0M212.7 294.1h0M220.4 288.1h0M329.3 302.8h0M244.1 301.2h0M298.0 295.1h0M349.6 298.2h0M238.7 303.1h0M271.4 293.7h0M329.2 292.9h0M304.8 299.6h0M306.3 296.3h0M240.9 292.5h0M291.1 310.2h0M338.5 301.4h0M291.3 303.3h0M308.4 299.2h0M317.3 305.2h0M267.2 305.7h0M289.8 297.2h0M265.7 287.9h0M253.6 305.7h0M223.3 288.4h0M345.7 313.4h0M263.7 292.6h0M319.3 291.3h0M243.1 300.9h0M301.9 292.2h0M323.9 298.7h0M317.1 302.7h0M283.7 296.6h0M360.9 294.4h0M235.0 306.7h0M324.0 308.7h0M230.3 295.9h0M287.6 296.8h0M212.9 293.9h0M221.4 298.8h0M347.8 305.4h0M323.8 310.1h0M217.7 293.4h0M224.6 297.3h0M228.0 284.9h0M339.0 297.1h0M284.1 289.9h0M337.7 299.1h0M302.7 314.4h0M327.8 304.6h0M231.7 315.2h0M320.6 291.7h0M256.6 291.5h0M308.0 307.7h0M234.9 294.0h0M261.6 300.0h0M332.8 293.5h0M223.4 296.0h0M235.3 304.4h0M255.1 295.0h0M243.7 298.6h0M337.2 293.6h0M344.4 288.0h0M337.0 299.4h0M277.9 289.1h0M307.3 298.9h0M298.1 295.0h0M308.7 297.3h0M304.6 301.6h0M351.1 297.7h0M310.0 300.8h0M216.8 294.7h0M325.2 304.1h0M295.9 303.7h0M330.6 293.7h0M262.8 295.2h0M243.3 302.0h0M288.3 295.2h0M246.2 292.1h0M300.8 295.7h0M294.0 293.2h0M316.1 302.5h0M215.8 295.0h0M330.7 302.3h0M230.3 305.9h0M283.6 299.6h0M275.0 294.6h0M359.8 298.2h0M332.2 298.2h0M349.6 294.7h0M252.4 295.8h0M287.6 297.7h0M343.8 305.5h0M341.1 298.0h0M301.3 298.2h0M287.8 288.5h0M250.0 302.9h0M291.7 299.0h0M342.5 302.2h0M320.4 297.5h0M335.8 307.6h0M303.1 305.4h0M226.6 298.2h0M240.1 297.2h0M275.5 283.4h0M346.0 298.7h0M283.9 295.6h0M353.3 298.4h0M284.0 292.2h0M322.4 286.2h0M316.4 289.1h0M213.8 296.1h0M277.4 305.5h0M298.3 295.9h0M360.2 307.0h0M335.1 303.0h0M247.9 301.8h0M256.5 304.8h0M285.6 298.3h0M266.3 300.4h0M267.1 302.6h0M297.4 296.2h0M219.1 300.3h0M276.6 291.0h0M222.9 294.3h0M214.4 280.8h0M340.3 296.0h0M221.2 302.6h0M311.0 300.6h0M328.3 292.8h0M224.4 280.3h0M223.8 295.4h0M216.4 286.0h0M343.9 310.2h0M284.0 284.8h0M234.5 314.7h0M359.5 310.3h0M304.7 310.0h0M345.3 304.6h0M226.8 286.7h0M299.9 309.0h0M326.1 299.5h0M279.0 293.8h0M286.7 302.8h0M219.8 297.6h0M244.2 294.7h0M250.7 288.1h0M278.6 299.6h0M214.3 307.8h0M225.2 295.2h0M300.8 298.1h0M360.5 300.2h0M250.8 296.3h0M291.6 295.5h0M286.9 293.1h0M328.4 300.5h0M292.3 296.5h0M289.1 296.7h0M218.2 296.3h0M214.3 287.8h0M278.9 292.4h0M230.6 306.2h0M260.2 289.1h0M331.5 303.0h0M256.1 292.0h0M309.8 300.3h0M301.3 307.9h0M317.4 295.0h0M253.0 294.7h0M236.3 295.1h0M343.2 306.1h0M286.3 293.9h0M320.0 297.1h0M278.9 293.3h0M216.0 306.5h0M230.5 304.4h0M234.2 310.6h0M216.8 303.5h0M319.9 292.6h0M356.7 297.2h0M272.8 301.8h0M358.3 291.1h0M228.9 297.2h0M264.6 294.0h0M302.7 296.6h0M309.3 299.1h0M216.3 280.8h0M346.9 296.1h0M362.0 292.4h0M256.5 296.7h0M256.6 293.2h0M307.2 299.0h0M275.1 295.7h0M290.5 296.7h0M342.2 297.7h0M308.9 296.1h0M229.8 304.8h0M261.7 297.7h0M342.3 304.3h0M352.7 298.1h0M258.4 299.0h0M223.7 299.6h0M329.9 296.8h0M244.8 301.5h0M246.0 280.0h0M274.1 294.5h0M224.5 299.3h0M314.2 297.2h0M341.3 294.1h0M262.8 295.1h0M313.5 289.3h0M232.0 285.5h0M266.1 302.3h0M235.4 294.2h0M227.7 296.6h0M253.5 289.1h0M267.5 304.8h0M215.5 302.7h0M308.7 308.2h0M309.0 290.9h0M255.4 296.9h0M277.4 294.7h0M253.0 303.8h0M227.3 296.7h0M355.7 296.3h0M352.5 300.8h0M281.3 310.2h0M335.6 296.7h0M288.5 298.9h0M356.3 302.8h0M304.4 300.1h0M341.5 291.4h0M296.4 302.7h0M296.4 304.5h0M306.5 294.8h0M338.6 290.6h0M230.6 306.6h0M319.8 304.0h0M319.7 304.3h0M362.6 296.5h0M265.1 295.3h0M315.7 290.7h0M267.8 298.9h0M301.4 287.4h0M213.2 302.5h0M335.8 292.4h0M240.6 302.2h0M285.6 303.3h0M236.5 300.0h0M354.4 298.7h0M321.2 296.4h0M341.9 302.0h0M326.2 289.0h0M347.3 309.2h0M310.8 304.8h0M224.6 297.7h0M222.7 305.0h0M325.0 300.1h0M255.5 305.9h0M319.8 300.1h0M277.6 308.1h0M340.6 297.7h0M263.1 306.5h0M225.8 311.2h0M338.2 308.6h0M257.4 291.4h0M271.8 299.6h0M329.0 300.9h0M249.8 289.9h0M353.6 311.1h0M216.3 295.9h0M326.7 302.3h0M340.6 305.1h0M305.9 309.1h0M241.3 301.0h0M227.8 294.6h0M328.2 305.3h0M322.0 306.5h0M329.7 300.0h0M359.3 293.9h0M303.2 298.5h0M354.8 294.0h0M360.5 295.1h0M300.7 297.2h0M328.5 300.6h0M236.7 298.1h0M362.5 303.6h0M286.8 294.8h0M287.6 296.8h0M315.3 292.0h0M341.0 286.4h0M253.8 293.5h0M325.4 295.5h0M337.4 297.6h0M271.7 293.7h0M278.2 290.7h0M345.0 300.1h0M262.4 306.0h0M333.5 295.0h0M346.2 293.2h0M266.9 295.9h0M259.6 295.4h0M240.2 308.9h0M242.4 302.0h0M341.8 307.0h0M254.1 305.4h0M252.7 302.8h0M310.1 302.4h0M254.7 289.2h0M254.6 306.2h0M352.4 305.3h0M361.2 302.6h0M327.0 298.2h0M330.3 294.6h0M268.3 303.3h0M264.7 308.4h0M335.4 300.9h0M291.3 296.4h0M243.6 305.2h0M261.1 292.9h0M321.7 304.2h0M270.4 302.4h0M334.1 301.1h0M245.6 287.0h0M212.3 293.5h0M233.6 296.4h0M228.1 305.0h0M240.4 305.4h0M359.4 302.4h0M310.3 289.7h0M277.4 291.1h0M233.5 297.7h0M334.1 302.5h0M308.3 308.4h0M251.6 301.3h0M284.3 295.6h0M339.8 295.6h0M356.9 296.5h0M355.4 302.4h0M300.3 295.7h0M291.9 299.5h0M275.2 293.5h0M213.2 297.0h0M256.5 294.0h0M336.5 296.8h0M266.3 301.4h0M311.1 304.8h0M359.9 304.2h0M331.5 295.0h0M259.8 301.2h0M247.7 300.8h0M351.5 297.1h0M243.9 301.8h0M319.6 293.8h0M308.2 303.8h0M296.9 304.9h0M258.9 298.4h0M358.9 296.9h0M328.1 299.1h0M274.1 307.6h0M236.9 297.8h0M273.5 293.1h0M218.8 287.9h0M240.0 304.1h0M247.8 293.1h0M235.6 299.6h0M292.8 292.5h0M233.9 300.7h0M225.6 307.6h0M222.5 298.9h0M345.3 298.9h0M224.0 296.7h0M356.6 303.2h0M352.1 301.1h0M289.0 287.1h0M345.5 301.6h0M215.4 288.4h0M325.6 304.8h0M292.0 283.0h0M304.2 296.5h0M362.7 294.0h0M236.2 298.6h0M258.5 302.4h0M315.5 298.0h0M239.2 307.6h0M350.7 312.0h0M236.5 308.1h0M271.3 289.5h0M324.8 306.6h0M342.8 288.6h0M330.8 309.4h0M335.4 306.5h0M273.4 315.8h0M268.7 296.8h0M294.3 303.3h0M238.3 304.4h0M292.8 304.7h0M295.5 302.9h0M260.2 291.5h0M233.9 296.0h0M225.6 303.1h0M266.0 291.3h0M293.5 289.3h0M360.4 297.9h0M241.6 292.3h0M215.0 291.5h0M257.2 312.7h0M282.7 299.6h0M299.3 291.5h0M262.9 294.8h0M349.8 299.6h0M244.4 301.6h0M251.7 298.6h0M250.8 293.0h0M357.9 310.8h0M284.1 302.0h0M265.0 299.5h0M219.6 297.6h0M270.2 301.0h0M333.2 299.1h0M338.4 303.9h0M355.4 302.9h0M242.0 296.9h0M217.8 298.4h0M238.8 300.4h0M222.5 312.0h0M342.3 299.5h0M255.3 294.5h0M338.0 302.5h0M255.6 301.4h0M227.6 294.3h0M252.9 292.1h0M304.3 298.5h0M358.6 304.0h0M308.0 283.0h0M333.1 291.3h0M289.3 299.7h0M351.2 295.5h0M341.3 298.6h0M361.0 302.9h0M339.3 301.2h0M317.2 300.0h0M337.4 307.1h0M346.7 299.0h0M314.1 289.9h0M223.9 301.1h0M278.0 300.7h0M357.9 294.9h0M316.3 295.0h0M272.2 304.6h0M345.7 301.8h0M266.2 310.2h0M271.2 296.6h0M292.9 293.8h0M314.0 299.7h0M298.0 291.7h0M262.3 301.8h0M296.8 308.0h0M265.1 298.9h0M313.0 297.5h0M296.1 310.6h0M228.2 305.4h0M307.1 295.5h0M353.7 298.1h0M305.9 284.9h0M223.1 306.8h0M295.3 306.0h0M236.6 301.0h0M275.0 291.4h0M236.9 292.0h0M350.4 299.2h0M328.6 292.8h0M298.1 298.5h0M256.9 304.8h0M227.6 299.4h0M319.0 300.0h0M248.4 304.6h0M349.0 301.6h0M344.3 302.2h0M236.5 295.4h0M362.3 314.5h0M358.0 292.7h0M223.9 291.7h0M289.0 287.8h0M255.9 295.2h0M306.8 294.1h0M338.7 296.3h0M251.9 304.0h0M222.6 316.7h0M267.3 297.6h0M241.9 303.5h0M318.9 293.7h0M256.5 307.1h0M302.2 295.5h0M228.6 301.2h0M252.6 306.3h0M327.7 301.0h0M337.3 299.4h0M295.2 294.0h0M298.9 294.2h0M220.5 290.8h0M301.2 294.4h0M300.1 301.1h0M245.3 301.1h0M321.2 297.7h0M231.0 300.7h0M292.2 307.7h0M226.0 311.3h0M339.6 294.5h0M272.7 297.9h0M357.2 288.2h0M279.8 287.8h0M328.8 293.0h0M287.8 297.7h0M219.4 295.5h0M259.9 298.2h0M300.5 292.5h0M331.6 295.8h0M221.6 301.5h0M288.7 299.1h0M328.7 299.8h0M244.8 298.1h0M264.1 297.3h0M255.3 301.1h0M323.7 301.7h0M255.3 304.1h0M348.9 308.0h0M337.3 296.4h0M294.7 296.5h0M359.4 314.9h0M260.1 304.9h0M213.9 298.7h0M314.6 310.8h0M334.6 296.3h0M353.9 293.4h0M237.5 295.7h0M217.2 292.6h0M301.0 299.2h0M272.0 293.7h0M246.8 294.4h0M312.8 299.3h0M290.9 298.1h0M304.4 307.7h0M351.0 299.3h0M341.6 293.2h0M238.7 292.4h0M221.6 303.7h0M309.5 306.9h0M213.5 311.3h0M243.5 291.7h0M350.3 283.9h0M270.9 287.7h0M322.3 304.5h0M311.3 287.6h0M228.9 293.5h0M324.2 301.6h0M214.2 291.5h0M356.3 306.1h0M227.5 295.1h0M283.6 300.9h0M284.6 291.4h0M282.9 290.1h0M361.7 302.5h0M238.2 292.9h0M333.8 315.9h0M344.5 284.8h0M233.8 296.8h0M212.4 302.5h0M251.0 294.7h0M218.7 301.7h0M222.2 294.7h0M336.8 298.2h0M215.9 293.8h0M252.0 304.2h0M223.6 302.8h0M233.3 287.4h0M293.7 296.9h0M348.9 299.6h0M343.3 303.5h0M229.1 301.9h0M337.5 297.4h0M342.9 305.1h0M249.5 298.9h0M243.3 300.2h0M267.1 309.9h0M329.4 298.6h0M361.5 292.2h0M293.4 301.0h0M273.1 299.9h0M266.5 297.2h0M279.7 302.1h0M248.8 285.2h0M318.3 298.5h0M299.8 301.1h0M264.5 302.4h0M318.3 291.2h0M329.7 298.1h0M240.1 303.1h0M270.8 302.6h0M306.0 296.5h0M324.5 294.3h0M221.9 309.8h0M228.0 294.9h0M329.3 294.8h0M326.4 299.3h0M243.8 292.0h0M270.6 294.6h0M314.7 303.3h0M288.7 298.8h0M329.8 295.2h0M243.1 297.6h0M275.4 296.3h0M261.6 302.7h0M338.2 291.8h0M261.8 290.3h0M321.6 302.2h0M277.7 306.7h0M239.2 301.5h0M306.6 293.3h0M236.1 297.4h0M229.8 299.0h0M341.5 297.7h0M347.1 290.2h0M264.5 298.9h0M267.0 299.3h0M303.0 289.5h0M305.2 294.3h0M300.2 302.3h0M252.2 302.4h0M331.0 294.9h0M257.5 295.0h0M343.4 298.3h0M354.2 297.4h0M253.0 296.4h0M303.2 296.8h0M318.3 304.0h0M246.4 293.7h0M357.5 288.0h0M279.3 296.5h0M289.2 300.1h0M264.9 291.9h0M271.9 295.1h0M225.3 303.3h0M353.4 299.2h0M344.3 294.7h0M327.9 288.1h0M362.5 305.3h0M342.8 292.0h0M304.9 297.2h0M215.7 296.7h0M356.6 300.9h0M329.5 296.6h0M292.0 292.2h0M287.7 295.1h0M306.9 305.3h0M321.6 300.0h0M294.7 297.9h0M265.2 287.8h0M223.8 301.8h0M272.0 285.0h0M226.3 303.4h0M269.4 298.9h0M343.7 295.1h0M332.6 304.0h0M288.7 290.8h0M316.3 291.8h0M276.6 303.3h0M296.5 295.2h0M345.8 285.6h0M356.1 304.2h0M254.2 301.9h0M327.7 287.0h0M269.5 305.7h0M280.2 296.9h0M272.4 306.1h0M236.5 304.3h0M246.2 304.3h0M344.2 299.8h0M298.6 313.7h0M235.7 295.7h0M360.5 295.5h0M329.3 298.3h0M327.1 298.5h0M293.9 295.2h0M302.5 302.1h0M233.9 306.7h0M239.2 293.6h0M312.2 310.0h0M312.7 295.6h0M271.7 291.4h0M334.9 305.3h0M246.0 300.3h0M235.8 303.8h0M221.1 296.7h0M352.7 303.8h0M291.7 292.9h0M299.0 310.9h0M310.5 304.1h0M230.0 293.9h0M344.7 306.3h0M359.3 301.0h0M247.9 297.3h0M247.4 290.8h0M340.4 294.4h0M288.6 287.0h0M241.2 286.4h0M358.5 281.7h0M338.3 303.4h0M268.1 306.5h0M306.9 290.1h0M321.8 295.9h0M266.0 291.7h0M300.3 297.9h0M269.1 305.1h0M339.3 301.0h0M246.4 288.9h0M279.9 298.0h0M220.5 300.7h0M302.2 305.1h0M221.0 296.6h0M263.5 306.8h0M326.5 302.4h0M294.0 296.9h0M263.7 303.9h0M285.6 298.8h0M229.6 294.6h0M250.1 289.9h0M350.5 292.3h0M233.3 293.2h0M330.4 296.0h0M323.5 303.3h0M307.8 303.4h0M329.3 311.9h0M232.2 302.0h0M266.1 299.5h0M263.7 304.2h0M245.6 301.3h0M247.3 292.0h0M258.1 301.3h0M357.2 304.0h0M269.6 300.3h0M331.3 299.5h0M324.9 300.7h0M323.8 287.1h0M285.9 318.0h0M288.6 313.2h0M239.4 302.4h0M345.3 294.6h0M268.5 297.3h0M319.5 299.2h0M343.0 303.2h0M298.2 304.1h0M266.9 309.9h0M343.8 293.6h0M226.7 281.4h0M325.9 290.7h0M255.7 311.0h0M317.7 297.7h0M245.0 303.2h0M345.9 302.0h0M283.4 300.3h0M229.3 291.5h0M333.1 294.8h0M264.0 303.6h0M226.5 295.3h0M339.2 297.9h0M224.7 286.0h0M243.1 308.4h0M241.0 304.4h0M273.2 318.3h0M358.8 298.9h0M222.9 311.5h0M360.7 303.7h0M253.7 299.4h0M275.0 302.2h0M331.1 303.5h0M340.5 308.2h0M231.5 302.3h0M316.2 303.9h0M280.0 300.2h0M224.6 298.7h0M362.5 297.1h0M274.0 308.7h0M316.8 301.0h0M324.6 292.4h0M248.4 307.4h0M254.9 298.1h0M271.0 301.6h0M345.2 293.0h0M338.2 292.3h0M310.6 297.4h0M264.1 301.7h0M259.2 290.8h0M265.7 301.9h0M270.3 303.6h0M282.0 298.6h0M273.0 290.0h0M263.3 287.9h0M325.5 297.2h0M344.4 298.1h0M343.8 293.2h0M235.1 297.0h0M299.5 299.9h0M238.2 288.3h0M344.4 302.8h0M288.8 298.1h0M214.1 302.7h0M334.5 293.7h0M313.3 289.0h0M229.6 294.7h0M341.5 297.7h0M221.2 298.4h0M346.9 295.7h0M362.5 301.2h0M278.9 289.5h0M302.5 289.1h0M271.0 294.9h0M284.2 294.2h0M336.9 307.6h0M331.2 289.0h0M274.3 306.5h0M337.7 302.5h0M260.4 286.5h0M330.5 300.9h0M259.5 303.3h0M337.5 307.4h0M252.0 292.6h0M289.7 292.0h0M239.3 297.4h0M222.5 308.7h0M274.2 299.1h0M224.1 303.4h0M233.2 293.1h0M269.0 290.3h0M327.1 296.2h0M267.4 296.1h0M217.9 288.9h0M276.1 289.0h0M275.7 289.3h0M76.7 270.6h0M71.7 250.0h0M76.2 334.9h0M77.9 315.2h0M74.6 282.1h0M76.0 335.8h0M78.7 346.7h0M75.5 335.8h0M78.3 334.6h0M78.5 327.8h0M79.8 366.2h0M76.5 302.5h0M76.9 303.0h0M77.6 343.5h0M76.6 297.3h0M78.7 314.8h0M78.4 349.2h0M73.2 263.4h0M75.7 299.8h0M79.9 348.1h0M73.7 288.7h0M70.3 208.3h0M76.0 319.5h0M76.3 278.2h0M76.4 336.9h0M71.5 226.7h0M71.7 223.4h0M78.2 360.4h0M74.8 266.3h0M74.9 308.3h0M72.3 259.9h0M74.9 315.7h0M76.8 291.7h0M72.4 239.9h0M76.3 309.1h0M74.3 309.7h0M74.5 300.4h0M79.8 330.6h0M73.0 254.9h0M74.5 263.4h0M78.6 292.6h0M76.2 304.9h0M75.6 348.8h0M76.9 368.5h0M76.5 304.8h0M76.2 283.7h0M77.1 331.9h0M78.1 328.0h0M75.6 289.4h0M74.4 268.0h0M77.5 323.8h0M78.8 331.6h0M77.2 326.6h0M74.7 285.9h0M80.9 371.4h0M76.2 290.2h0M78.3 338.7h0M74.3 304.8h0M78.8 340.5h0M71.7 258.3h0M79.0 355.5h0M77.9 339.1h0M76.6 326.9h0M74.6 293.6h0M75.6 291.3h0M73.5 265.3h0M75.4 339.7h0M72.2 205.7h0M73.4 288.8h0M76.0 307.8h0M76.9 341.6h0M75.8 264.2h0M75.6 349.2h0M78.7 335.8h0M73.7 249.7h0M73.9 332.4h0M74.8 314.2h0M73.5 272.9h0M73.3 276.5h0M72.5 231.5h0M76.9 308.5h0M78.8 337.3h0M76.6 344.0h0M78.1 336.8h0M77.2 349.0h0M77.5 319.6h0M77.4 371.0h0M76.3 309.4h0M76.5 320.2h0M75.8 287.3h0M77.6 348.8h0M71.4 239.0h0M72.8 292.3h0M76.9 298.4h0M75.5 277.1h0M77.4 333.8h0M78.9 362.9h0M74.4 275.1h0M76.0 307.3h0M77.0 353.2h0M75.6 267.0h0M76.9 278.0h0M73.3 257.4h0M75.7 311.9h0M77.6 308.5h0M74.0 244.1h0M76.4 295.3h0M73.6 291.9h0M72.8 235.5h0M77.0 318.8h0M71.9 231.8h0M78.0 344.3h0M77.3 351.8h0M75.8 290.6h0M76.1 305.4h0M77.2 337.8h0M79.6 363.8h0M71.3 214.0h0M77.0 307.1h0M76.6 292.3h0M76.3 340.4h0M77.3 332.1h0M75.7 317.5h0M77.0 325.9h0M75.1 312.5h0M76.6 294.4h0M76.2 306.5h0M74.0 293.8h0M75.1 274.5h0M75.1 309.3h0M74.4 306.9h0M76.3 299.1h0M71.4 215.3h0M76.4 327.2h0M78.0 324.5h0M74.7 267.9h0M77.7 337.4h0M78.1 320.1h0M77.9 350.4h0M79.0 384.0h0M72.7 231.5h0M75.3 281.4h0M74.1 332.6h0M76.5 320.1h0M79.8 336.5h0M75.7 311.5h0M76.5 316.5h0M75.7 307.2h0M71.4 257.7h0M78.2 384.7h0M74.3 226.4h0M79.5 355.6h0M77.2 349.5h0M73.5 275.5h0M76.8 350.4h0M71.6 206.7h0M76.3 318.5h0M72.2 212.7h0M75.5 287.8h0M76.0 350.9h0M76.1 330.9h0M74.6 256.6h0M78.0 321.1h0M76.3 308.9h0M79.3 340.7h0M75.2 293.9h0M74.7 280.1h0M78.2 341.5h0M71.2 265.3h0M77.0 318.6h0M74.9 278.0h0M71.7 240.4h0M74.8 300.1h0M73.1 259.0h0M74.9 289.1h0M78.6 336.7h0M72.3 261.3h0M80.5 356.2h0M76.2 323.4h0M75.1 299.8h0M71.5 250.8h0M75.4 305.3h0M75.0 306.7h0M76.9 334.2h0M75.1 312.3h0M69.6 237.6h0M78.6 325.8h0M76.9 303.8h0M73.5 241.2h0M78.2 369.8h0M77.3 314.3h0M76.4 327.9h0M81.0 369.5h0M76.2 320.3h0M76.0 376.6h0M75.5 247.1h0M70.3 204.2h0M75.6 295.2h0M72.2 254.1h0M71.9 232.1h0M73.7 248.7h0M75.7 290.9h0M75.9 329.1h0M78.4 346.9h0M76.5 348.5h0M74.7 314.7h0M77.4 309.9h0M75.0 277.5h0M73.1 252.6h0M76.5 351.1h0M78.4 331.2h0M76.0 309.9h0M76.6 333.0h0M77.5 318.5h0M72.4 228.7h0M72.6 267.4h0M76.6 285.2h0M75.2 327.7h0M75.0 302.5h0M73.8 252.4h0M77.4 332.6h0M78.5 332.2h0M76.8 305.3h0M74.3 240.0h0M76.9 392.5h0M76.9 320.5h0M76.6 339.5h0M70.8 230.1h0M78.3 355.9h0M78.1 335.2h0M74.2 262.5h0M76.2 322.3h0M79.4 344.4h0M78.0 348.6h0M78.2 337.1h0M75.0 282.8h0M77.2 318.9h0M77.6 306.6h0M78.2 320.4h0M77.5 305.9h0M77.6 350.4h0M76.9 317.2h0M76.1 340.5h0M76.9 324.7h0M74.4 286.6h0M76.5 353.1h0M76.3 309.6h0M73.5 253.0h0M74.3 287.9h0M72.3 271.5h0M71.2 217.8h0M77.5 331.0h0M75.1 279.0h0M74.9 302.7h0M75.9 335.2h0M74.0 307.8h0M77.5 354.1h0M76.8 335.9h0M76.4 297.9h0M73.7 292.8h0M79.1 336.4h0M75.6 300.8h0M77.2 343.5h0M76.9 317.7h0M75.1 270.5h0M75.4 274.1h0M75.2 358.3h0M76.8 345.5h0M74.0 255.2h0M76.0 290.7h0M76.0 297.9h0M72.8 263.1h0M74.2 260.6h0M76.3 313.7h0M74.3 271.1h0M77.1 296.1h0M77.8 326.7h0M77.2 292.0h0M75.9 279.4h0M74.8 309.5h0M74.7 303.4h0M71.8 270.1h0M78.8 338.7h0M73.8 266.1h0M72.2 242.8h0M74.3 273.5h0M76.1 362.8h0M78.1 330.2h0M76.4 343.8h0M76.3 288.4h0M77.4 350.5h0M78.1 330.7h0M73.8 267.3h0M72.4 235.1h0M73.0 218.2h0M79.5 364.1h0M76.9 308.5h0M79.2 392.6h0M72.6 274.2h0M76.0 299.4h0M76.1 306.0h0M73.6 267.7h0M78.1 360.6h0M78.8 311.5h0M74.6 263.9h0M78.9 337.8h0M73.2 218.5h0M77.1 292.6h0M76.9 318.4h0M76.8 341.7h0M78.9 331.3h0M78.6 349.9h0M75.0 294.8h0M79.3 329.3h0M76.4 329.2h0M70.7 230.5h0M76.3 310.7h0M74.8 309.4h0M77.3 348.1h0M72.9 245.7h0M72.2 244.0h0M74.8 278.1h0M73.6 285.0h0M73.7 310.6h0M77.8 317.8h0M75.6 275.0h0M78.5 341.7h0M76.8 327.7h0M76.8 306.8h0M73.3 259.7h0M76.7 288.7h0M76.1 350.5h0M76.8 312.1h0M76.2 317.0h0M78.4 344.3h0M77.6 344.3h0M70.7 242.2h0M73.1 254.5h0M76.9 309.1h0M74.5 254.1h0M70.8 231.9h0M74.1 257.2h0M74.4 296.1h0M76.9 350.9h0M76.4 307.2h0M76.3 280.2h0M76.9 308.4h0M77.1 308.6h0M76.9 334.8h0M76.0 306.5h0M76.4 296.3h0M77.3 323.5h0M74.3 266.9h0M76.2 298.1h0M76.0 264.5h0M79.2 333.7h0M79.2 339.8h0M71.7 211.7h0M76.3 326.6h0M76.1 338.1h0M71.3 210.5h0M74.7 300.0h0M72.5 280.2h0M77.2 349.3h0M80.2 361.2h0M76.6 310.2h0M77.5 362.1h0M76.6 310.1h0M74.0 294.8h0M76.5 305.9h0M73.0 226.8h0M74.1 260.6h0M77.9 347.7h0M75.2 286.6h0M77.3 311.4h0M69.6 205.5h0M75.2 354.2h0M77.0 345.4h0M77.5 361.6h0M77.8 323.4h0M74.5 290.3h0M77.8 343.8h0M76.5 312.1h0M74.1 276.1h0M71.7 206.2h0M78.4 352.1h0M75.7 302.4h0M77.3 330.6h0M77.0 353.7h0M73.5 271.5h0M73.5 268.8h0M76.3 367.2h0M75.8 282.4h0M74.1 256.9h0M75.3 292.3h0M71.8 219.3h0M77.6 369.5h0M75.7 262.0h0M75.0 290.4h0M78.4 355.1h0M74.6 312.2h0M75.6 305.4h0M74.7 295.8h0M77.0 314.8h0M75.8 311.6h0M73.5 273.7h0M72.2 246.3h0M75.8 338.1h0M75.7 327.6h0M71.7 243.4h0M76.0 293.6h0M77.8 372.6h0M75.3 271.7h0M74.9 244.2h0M75.4 270.1h0M73.1 288.5h0M76.9 356.2h0M77.1 229.5h0M74.9 309.8h0M77.9 296.9h0M79.1 306.5h0M76.7 401.1h0M79.3 294.9h0M73.1 328.4h0M84.4 378.2h0M75.4 297.5h0M71.2 218.1h0M78.1 330.6h0M77.5 395.5h0M75.8 327.2h0M79.7 373.1h0M77.7 349.0h0M77.8 297.5h0M78.1 376.7h0M75.3 326.1h0M82.1 328.6h0M87.1 347.7h0M76.5 344.3h0M82.6 339.7h0M76.0 337.2h0M77.7 328.9h0M72.3 290.7h0M76.5 350.0h0M75.8 370.1h0M76.4 292.0h0M77.6 360.8h0M75.4 335.8h0M74.8 203.9h0M81.0 306.0h0M70.2 302.9h0M68.6 267.8h0M80.7 295.8h0M74.0 328.6h0M77.7 341.2h0M74.5 377.4h0M74.8 270.9h0M81.6 220.0h0M73.0 266.1h0M85.1 339.6h0M73.1 219.0h0M71.8 210.6h0M74.2 255.5h0M76.2 283.3h0M74.4 392.4h0M78.8 298.3h0M90.3 346.7h0M72.0 299.4h0M86.0 341.8h0M74.0 322.5h0M77.7 423.0h0M83.1 325.7h0M81.2 375.7h0M80.4 261.7h0M84.7 363.5h0M76.2 297.1h0M74.7 289.4h0M81.7 332.8h0M81.2 373.2h0M85.4 316.0h0M70.3 332.2h0M80.6 278.5h0M81.2 379.5h0M77.9 393.7h0M73.3 283.6h0M74.8 310.4h0M71.9 254.8h0M81.3 244.8h0M79.3 434.9h0M76.9 310.2h0M78.6 316.3h0M80.9 320.8h0M79.1 270.0h0M72.8 210.5h0M78.4 336.3h0M76.0 333.3h0M76.6 286.8h0M76.0 281.1h0M76.6 333.0h0M74.9 274.5h0M79.8 245.0h0M82.5 357.1h0M76.1 251.1h0M84.2 372.0h0M75.4 249.9h0M84.0 379.1h0M79.2 376.5h0M85.2 407.4h0M81.5 345.1h0M77.8 329.6h0M74.3 335.6h0M79.8 349.1h0M79.8 341.9h0M74.7 356.8h0M78.3 350.4h0M76.1 319.4h0M80.4 361.1h0M73.2 318.7h0M79.2 392.0h0M87.1 407.2h0M80.7 282.8h0M79.1 375.3h0M85.1 322.6h0M77.7 387.8h0M82.7 417.2h0M80.5 409.3h0M77.5 381.0h0M77.1 252.1h0M89.0 371.0h0M74.8 315.2h0M75.6 352.2h0M85.8 322.6h0M76.6 401.0h0M75.2 264.8h0M76.6 317.2h0M76.1 356.3h0M78.6 281.5h0M75.1 420.3h0M74.9 371.8h0M77.0 308.5h0M76.5 235.9h0M85.2 359.0h0M73.3 221.5h0M79.2 258.7h0M84.9 381.4h0M79.4 298.1h0M79.1 261.4h0M78.4 385.9h0M67.8 240.1h0M82.5 420.5h0M70.1 246.3h0M77.8 260.0h0M70.4 229.1h0M71.5 277.6h0M77.7 311.3h0M73.8 222.6h0M76.2 288.7h0M75.5 277.2h0M85.6 361.4h0M76.5 298.2h0M82.6 380.0h0M80.8 329.0h0M75.9 293.8h0M73.7 404.4h0M74.6 300.2h0M87.4 372.5h0M79.5 361.2h0M79.0 282.0h0M86.4 414.5h0M76.2 361.4h0M83.8 341.8h0M65.2 267.0h0M75.0 332.5h0M67.9 287.8h0M79.2 393.0h0M79.3 417.0h0M76.2 337.2h0M71.4 234.6h0M89.6 296.9h0M80.9 353.6h0M81.5 365.2h0M71.1 247.8h0M73.8 290.0h0M80.1 413.2h0M72.3 212.5h0M77.3 318.3h0M71.7 326.8h0M79.4 306.2h0M80.2 332.8h0M81.6 336.5h0M82.2 331.4h0M86.8 446.6h0M77.6 347.5h0M80.1 355.7h0M81.4 264.1h0M74.4 269.3h0M84.1 350.4h0M77.2 335.4h0M76.9 323.0h0M68.4 210.5h0M75.1 264.1h0M87.9 367.8h0M82.2 241.5h0M79.7 383.4h0M77.7 260.3h0M83.6 321.5h0M74.8 397.6h0M77.5 353.7h0M78.5 338.8h0M67.9 263.6h0M71.7 249.6h0M76.7 432.0h0M77.9 356.8h0M74.8 263.3h0M67.9 297.5h0M79.2 296.7h0M74.9 288.6h0M78.6 282.1h0M77.4 250.0h0M78.4 350.8h0M70.3 298.7h0M79.0 365.7h0M79.5 426.7h0M84.8 324.7h0M78.7 372.5h0M81.4 331.8h0M85.9 296.6h0M77.7 331.4h0M74.6 317.0h0M77.1 371.8h0M80.9 376.4h0M82.0 271.4h0M67.1 290.4h0M73.7 343.9h0M85.1 400.1h0M75.6 298.0h0M71.8 401.9h0M69.7 375.4h0M83.2 376.8h0M69.9 377.2h0M79.5 365.3h0M70.9 368.6h0M81.5 361.5h0M72.2 377.3h0M179.7 216.7h0M126.7 247.5h0M173.3 254.0h0M202.9 256.5h0M199.6 267.4h0M142.2 269.0h0M218.3 276.1h0M247.5 248.8h0M270.0 248.8h0M243.3 258.4h0M262.9 255.2h0M269.0 255.2h0M342.9 257.8h0M293.1 269.0h0M273.2 274.8h0M234.6 276.1h0M327.1 277.7h0M258.7 278.7h0M228.2 280.3h0M160.2 351.1h0M134.9 356.2h0M117.3 373.6h0M140.0 376.1h0M154.9 378.4h0M131.7 377.6h0M129.1 380.6h0M114.0 380.6h0M105.2 376.1h0M95.1 376.1h0M121.6 383.7h0M126.6 386.4h0M131.7 388.2h0M146.0 392.0h0M93.8 388.7h0M95.6 390.7h0M103.9 395.0h0M101.4 397.5h0M134.2 397.5h0M88.0 393.2h0M167.0 342.0h0M170.3 334.5h0M170.8 338.3h0M151.1 335.2h0M165.2 328.9h0M131.7 347.8h0M124.6 347.3h0M121.6 350.4h0M122.8 341.5h0M135.5 335.2h0M131.7 336.5h0M97.1 369.3h0M93.8 364.2h0M91.3 361.7h0M98.1 363.0h0M102.2 363.0h0M105.2 357.9h0M107.7 354.1h0M90.0 354.1h0M94.6 350.4h0M101.4 350.4h0M97.6 348.3h0M114.0 345.3h0M104.3 395.8h0M96.2 391.0h0M105.9 407.7h0M109.1 414.1h0M96.9 414.1h0M90.8 417.9h0M99.5 420.5h0M100.1 423.1h0M90.5 424.7h0M101.7 430.1h0M88.9 436.6h0M89.8 443.0h0M91.4 444.6h0M103.3 459.0h0M103.3 464.5h0M85.6 457.4h0M209.3 474.1h0M86.6 396.4h0M192.5 328.2h0M195.5 331.5h0M197.1 336.5h0M197.1 343.3h0M207.2 353.7h0M205.1 326.4h0M207.7 328.2h0M208.2 331.5h0M224.8 333.3h0M229.6 329.5h0M241.7 334.8h0M246.0 328.2h0M260.6 329.5h0M238.4 371.9h0M232.4 382.7h0M288.9 332.2h0M294.7 332.2h0M282.8 323.9h0M282.5 324.6h0M297.5 325.2h0M306.8 324.0h0M332.2 323.2h0M327.9 328.7h0M288.3 332.3h0M296.1 332.3h0M317.2 333.3h0M360.5 321.9h0M351.2 318.4h0M353.3 319.0h0M262.5 476.4h0M315.4 475.8h0M74.5 410.1h0M82.5 407.5h0M73.6 415.3h0M81.1 417.7h0M82.5 421.8h0M83.9 427.0h0M80.5 429.8h0M75.6 428.4h0M75.0 432.5h0M88.0 436.4h0M77.0 438.7h0M90.1 443.8h0M77.7 444.2h0M80.5 450.8h0M85.3 457.3h0" stroke="#000" stroke-width="2.85" stroke-linecap="round" fill="none"/>
</g>
<rect x="60.5" y="200.5" width="303.0" height="302.9" fill="none" stroke="#000" stroke-width="1"/>
<path d="M60.50 503.4v-5.5M60.50 200.5v5.5M98.38 503.4v-3.2M98.38 200.5v3.2M136.25 503.4v-5.5M136.25 200.5v5.5M174.12 503.4v-3.2M174.12 200.5v3.2M212.00 503.4v-5.5M212.00 200.5v5.5M249.88 503.4v-3.2M249.88 200.5v3.2M287.75 503.4v-5.5M287.75 200.5v5.5M325.62 503.4v-3.2M325.62 200.5v3.2M363.50 503.4v-5.5M363.50 200.5v5.5M60.5 503.40h5.5M363.5 503.40h-5.5M60.5 452.92h3.2M363.5 452.92h-3.2M60.5 402.43h5.5M363.5 402.43h-5.5M60.5 351.95h3.2M363.5 351.95h-3.2M60.5 301.47h5.5M363.5 301.47h-5.5M60.5 250.98h3.2M363.5 250.98h-3.2M60.5 200.50h5.5M363.5 200.50h-5.5" stroke="#000" stroke-width="1" fill="none"/>
<text x="202.1" y="190.05" text-anchor="middle">Ionization runs - Physics</text>
<text x="212.6" y="543.1" text-anchor="middle">Recoil Energy (keV)</text>
<text transform="translate(20.7 352.6) rotate(-90)" text-anchor="middle" font-size="14">Ionization/Recoil Ratio</text>
<g text-anchor="middle">
<text x="60.5" y="521.9">0</text><text x="136.2" y="521.9">50</text><text x="212" y="521.9">100</text><text x="287.7" y="521.9">150</text><text x="363.3" y="521.9">200</text>
</g>
<g text-anchor="end">
<text x="54.5" y="205.2">1.5</text><text x="54.5" y="306.2">1</text><text x="54.5" y="407.2">0.5</text><text x="54.5" y="508.1">0</text>
</g>
<text x="241.4" y="232" font-size="16.65">EDELWEISS-I</text>
<text x="234.4" y="252.4">GSA3 ( 9.16 kg.d)</text>
<g class="bl" fill="#0a0aff">
<text x="287.6" y="345.9"><tspan class="sym eps" font-weight="normal" font-size="15.8" style="stroke-width:.2px">γ</tspan><tspan dx="-0.9"> band</tspan></text>
<text x="287.6" y="366.7"><tspan class="sym eps" font-size="16.6" font-weight="normal">ε</tspan><tspan dx="-0.9">=90%</tspan></text>
<text x="287.6" y="379"><tspan class="sym eps" font-size="16.6" font-weight="normal">ε</tspan><tspan dx="-0.9">=99.9%</tspan></text>
</g>
<path class="bs" d="M251.3 361H281.2"/>
<path class="bd" d="M251.3 375.4H281.2"/>
<g class="rd" fill="#ff0606">
<text x="221.2" y="457.5">nuclear recoil band</text>
<text x="291.4" y="473.3"><tspan class="sym eps" font-size="16.6" font-weight="normal">ε</tspan><tspan dx="-0.9">=90%</tspan></text>
</g>
<path class="rs" d="M251.1 469.9H281.4"/>
</g>
</svg>
</body></html>
